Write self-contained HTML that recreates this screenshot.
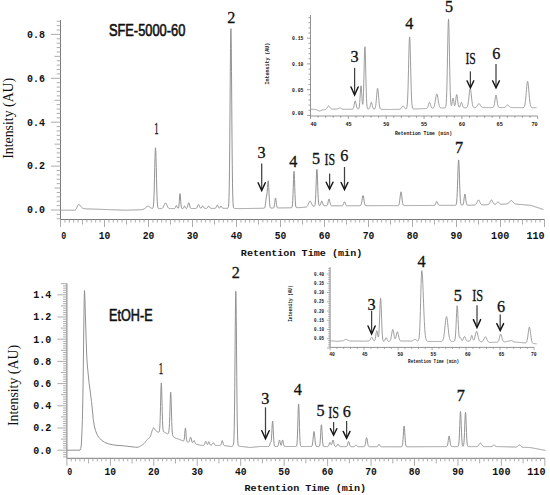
<!DOCTYPE html>
<html><head><meta charset="utf-8"><title>Chromatograms</title>
<style>html,body{margin:0;padding:0;background:#fff;}body{width:550px;height:495px;overflow:hidden;font-family:"Liberation Sans",sans-serif;}svg{display:block;}</style>
</head><body>
<svg width="550" height="495" viewBox="0 0 550 495">
<rect width="550" height="495" fill="#fff"/>
<line x1="60.50" y1="20.10" x2="60.50" y2="219.50" stroke="#7a7a7a" stroke-width="1.00"/>
<line x1="56.70" y1="218.78" x2="60.50" y2="218.78" stroke="#a3a3a3" stroke-width="0.90"/>
<line x1="56.70" y1="214.39" x2="60.50" y2="214.39" stroke="#a3a3a3" stroke-width="0.90"/>
<line x1="51.00" y1="210.00" x2="60.50" y2="210.00" stroke="#a3a3a3" stroke-width="0.90"/>
<line x1="56.70" y1="205.61" x2="60.50" y2="205.61" stroke="#a3a3a3" stroke-width="0.90"/>
<line x1="56.70" y1="201.22" x2="60.50" y2="201.22" stroke="#a3a3a3" stroke-width="0.90"/>
<line x1="56.70" y1="196.83" x2="60.50" y2="196.83" stroke="#a3a3a3" stroke-width="0.90"/>
<line x1="56.70" y1="192.44" x2="60.50" y2="192.44" stroke="#a3a3a3" stroke-width="0.90"/>
<line x1="54.50" y1="188.05" x2="60.50" y2="188.05" stroke="#a3a3a3" stroke-width="0.90"/>
<line x1="56.70" y1="183.66" x2="60.50" y2="183.66" stroke="#a3a3a3" stroke-width="0.90"/>
<line x1="56.70" y1="179.27" x2="60.50" y2="179.27" stroke="#a3a3a3" stroke-width="0.90"/>
<line x1="56.70" y1="174.88" x2="60.50" y2="174.88" stroke="#a3a3a3" stroke-width="0.90"/>
<line x1="56.70" y1="170.49" x2="60.50" y2="170.49" stroke="#a3a3a3" stroke-width="0.90"/>
<line x1="51.00" y1="166.10" x2="60.50" y2="166.10" stroke="#a3a3a3" stroke-width="0.90"/>
<line x1="56.70" y1="161.71" x2="60.50" y2="161.71" stroke="#a3a3a3" stroke-width="0.90"/>
<line x1="56.70" y1="157.32" x2="60.50" y2="157.32" stroke="#a3a3a3" stroke-width="0.90"/>
<line x1="56.70" y1="152.93" x2="60.50" y2="152.93" stroke="#a3a3a3" stroke-width="0.90"/>
<line x1="56.70" y1="148.54" x2="60.50" y2="148.54" stroke="#a3a3a3" stroke-width="0.90"/>
<line x1="54.50" y1="144.15" x2="60.50" y2="144.15" stroke="#a3a3a3" stroke-width="0.90"/>
<line x1="56.70" y1="139.76" x2="60.50" y2="139.76" stroke="#a3a3a3" stroke-width="0.90"/>
<line x1="56.70" y1="135.37" x2="60.50" y2="135.37" stroke="#a3a3a3" stroke-width="0.90"/>
<line x1="56.70" y1="130.98" x2="60.50" y2="130.98" stroke="#a3a3a3" stroke-width="0.90"/>
<line x1="56.70" y1="126.59" x2="60.50" y2="126.59" stroke="#a3a3a3" stroke-width="0.90"/>
<line x1="51.00" y1="122.20" x2="60.50" y2="122.20" stroke="#a3a3a3" stroke-width="0.90"/>
<line x1="56.70" y1="117.81" x2="60.50" y2="117.81" stroke="#a3a3a3" stroke-width="0.90"/>
<line x1="56.70" y1="113.42" x2="60.50" y2="113.42" stroke="#a3a3a3" stroke-width="0.90"/>
<line x1="56.70" y1="109.03" x2="60.50" y2="109.03" stroke="#a3a3a3" stroke-width="0.90"/>
<line x1="56.70" y1="104.64" x2="60.50" y2="104.64" stroke="#a3a3a3" stroke-width="0.90"/>
<line x1="54.50" y1="100.25" x2="60.50" y2="100.25" stroke="#a3a3a3" stroke-width="0.90"/>
<line x1="56.70" y1="95.86" x2="60.50" y2="95.86" stroke="#a3a3a3" stroke-width="0.90"/>
<line x1="56.70" y1="91.47" x2="60.50" y2="91.47" stroke="#a3a3a3" stroke-width="0.90"/>
<line x1="56.70" y1="87.08" x2="60.50" y2="87.08" stroke="#a3a3a3" stroke-width="0.90"/>
<line x1="56.70" y1="82.69" x2="60.50" y2="82.69" stroke="#a3a3a3" stroke-width="0.90"/>
<line x1="51.00" y1="78.30" x2="60.50" y2="78.30" stroke="#a3a3a3" stroke-width="0.90"/>
<line x1="56.70" y1="73.91" x2="60.50" y2="73.91" stroke="#a3a3a3" stroke-width="0.90"/>
<line x1="56.70" y1="69.52" x2="60.50" y2="69.52" stroke="#a3a3a3" stroke-width="0.90"/>
<line x1="56.70" y1="65.13" x2="60.50" y2="65.13" stroke="#a3a3a3" stroke-width="0.90"/>
<line x1="56.70" y1="60.74" x2="60.50" y2="60.74" stroke="#a3a3a3" stroke-width="0.90"/>
<line x1="54.50" y1="56.35" x2="60.50" y2="56.35" stroke="#a3a3a3" stroke-width="0.90"/>
<line x1="56.70" y1="51.96" x2="60.50" y2="51.96" stroke="#a3a3a3" stroke-width="0.90"/>
<line x1="56.70" y1="47.57" x2="60.50" y2="47.57" stroke="#a3a3a3" stroke-width="0.90"/>
<line x1="56.70" y1="43.18" x2="60.50" y2="43.18" stroke="#a3a3a3" stroke-width="0.90"/>
<line x1="56.70" y1="38.79" x2="60.50" y2="38.79" stroke="#a3a3a3" stroke-width="0.90"/>
<line x1="51.00" y1="34.40" x2="60.50" y2="34.40" stroke="#a3a3a3" stroke-width="0.90"/>
<line x1="56.70" y1="30.01" x2="60.50" y2="30.01" stroke="#a3a3a3" stroke-width="0.90"/>
<line x1="56.70" y1="25.62" x2="60.50" y2="25.62" stroke="#a3a3a3" stroke-width="0.90"/>
<line x1="56.70" y1="21.23" x2="60.50" y2="21.23" stroke="#a3a3a3" stroke-width="0.90"/>
<line x1="60.50" y1="219.50" x2="544.50" y2="219.50" stroke="#7a7a7a" stroke-width="1.00"/>
<line x1="60.50" y1="219.50" x2="60.50" y2="227.00" stroke="#a3a3a3" stroke-width="0.90"/>
<line x1="64.90" y1="219.50" x2="64.90" y2="222.50" stroke="#a3a3a3" stroke-width="0.90"/>
<line x1="69.30" y1="219.50" x2="69.30" y2="222.50" stroke="#a3a3a3" stroke-width="0.90"/>
<line x1="73.70" y1="219.50" x2="73.70" y2="222.50" stroke="#a3a3a3" stroke-width="0.90"/>
<line x1="78.10" y1="219.50" x2="78.10" y2="222.50" stroke="#a3a3a3" stroke-width="0.90"/>
<line x1="82.50" y1="219.50" x2="82.50" y2="224.50" stroke="#a3a3a3" stroke-width="0.90"/>
<line x1="86.90" y1="219.50" x2="86.90" y2="222.50" stroke="#a3a3a3" stroke-width="0.90"/>
<line x1="91.30" y1="219.50" x2="91.30" y2="222.50" stroke="#a3a3a3" stroke-width="0.90"/>
<line x1="95.70" y1="219.50" x2="95.70" y2="222.50" stroke="#a3a3a3" stroke-width="0.90"/>
<line x1="100.10" y1="219.50" x2="100.10" y2="222.50" stroke="#a3a3a3" stroke-width="0.90"/>
<line x1="104.50" y1="219.50" x2="104.50" y2="227.00" stroke="#a3a3a3" stroke-width="0.90"/>
<line x1="108.90" y1="219.50" x2="108.90" y2="222.50" stroke="#a3a3a3" stroke-width="0.90"/>
<line x1="113.30" y1="219.50" x2="113.30" y2="222.50" stroke="#a3a3a3" stroke-width="0.90"/>
<line x1="117.70" y1="219.50" x2="117.70" y2="222.50" stroke="#a3a3a3" stroke-width="0.90"/>
<line x1="122.10" y1="219.50" x2="122.10" y2="222.50" stroke="#a3a3a3" stroke-width="0.90"/>
<line x1="126.50" y1="219.50" x2="126.50" y2="224.50" stroke="#a3a3a3" stroke-width="0.90"/>
<line x1="130.90" y1="219.50" x2="130.90" y2="222.50" stroke="#a3a3a3" stroke-width="0.90"/>
<line x1="135.30" y1="219.50" x2="135.30" y2="222.50" stroke="#a3a3a3" stroke-width="0.90"/>
<line x1="139.70" y1="219.50" x2="139.70" y2="222.50" stroke="#a3a3a3" stroke-width="0.90"/>
<line x1="144.10" y1="219.50" x2="144.10" y2="222.50" stroke="#a3a3a3" stroke-width="0.90"/>
<line x1="148.50" y1="219.50" x2="148.50" y2="227.00" stroke="#a3a3a3" stroke-width="0.90"/>
<line x1="152.90" y1="219.50" x2="152.90" y2="222.50" stroke="#a3a3a3" stroke-width="0.90"/>
<line x1="157.30" y1="219.50" x2="157.30" y2="222.50" stroke="#a3a3a3" stroke-width="0.90"/>
<line x1="161.70" y1="219.50" x2="161.70" y2="222.50" stroke="#a3a3a3" stroke-width="0.90"/>
<line x1="166.10" y1="219.50" x2="166.10" y2="222.50" stroke="#a3a3a3" stroke-width="0.90"/>
<line x1="170.50" y1="219.50" x2="170.50" y2="224.50" stroke="#a3a3a3" stroke-width="0.90"/>
<line x1="174.90" y1="219.50" x2="174.90" y2="222.50" stroke="#a3a3a3" stroke-width="0.90"/>
<line x1="179.30" y1="219.50" x2="179.30" y2="222.50" stroke="#a3a3a3" stroke-width="0.90"/>
<line x1="183.70" y1="219.50" x2="183.70" y2="222.50" stroke="#a3a3a3" stroke-width="0.90"/>
<line x1="188.10" y1="219.50" x2="188.10" y2="222.50" stroke="#a3a3a3" stroke-width="0.90"/>
<line x1="192.50" y1="219.50" x2="192.50" y2="227.00" stroke="#a3a3a3" stroke-width="0.90"/>
<line x1="196.90" y1="219.50" x2="196.90" y2="222.50" stroke="#a3a3a3" stroke-width="0.90"/>
<line x1="201.30" y1="219.50" x2="201.30" y2="222.50" stroke="#a3a3a3" stroke-width="0.90"/>
<line x1="205.70" y1="219.50" x2="205.70" y2="222.50" stroke="#a3a3a3" stroke-width="0.90"/>
<line x1="210.10" y1="219.50" x2="210.10" y2="222.50" stroke="#a3a3a3" stroke-width="0.90"/>
<line x1="214.50" y1="219.50" x2="214.50" y2="224.50" stroke="#a3a3a3" stroke-width="0.90"/>
<line x1="218.90" y1="219.50" x2="218.90" y2="222.50" stroke="#a3a3a3" stroke-width="0.90"/>
<line x1="223.30" y1="219.50" x2="223.30" y2="222.50" stroke="#a3a3a3" stroke-width="0.90"/>
<line x1="227.70" y1="219.50" x2="227.70" y2="222.50" stroke="#a3a3a3" stroke-width="0.90"/>
<line x1="232.10" y1="219.50" x2="232.10" y2="222.50" stroke="#a3a3a3" stroke-width="0.90"/>
<line x1="236.50" y1="219.50" x2="236.50" y2="227.00" stroke="#a3a3a3" stroke-width="0.90"/>
<line x1="240.90" y1="219.50" x2="240.90" y2="222.50" stroke="#a3a3a3" stroke-width="0.90"/>
<line x1="245.30" y1="219.50" x2="245.30" y2="222.50" stroke="#a3a3a3" stroke-width="0.90"/>
<line x1="249.70" y1="219.50" x2="249.70" y2="222.50" stroke="#a3a3a3" stroke-width="0.90"/>
<line x1="254.10" y1="219.50" x2="254.10" y2="222.50" stroke="#a3a3a3" stroke-width="0.90"/>
<line x1="258.50" y1="219.50" x2="258.50" y2="224.50" stroke="#a3a3a3" stroke-width="0.90"/>
<line x1="262.90" y1="219.50" x2="262.90" y2="222.50" stroke="#a3a3a3" stroke-width="0.90"/>
<line x1="267.30" y1="219.50" x2="267.30" y2="222.50" stroke="#a3a3a3" stroke-width="0.90"/>
<line x1="271.70" y1="219.50" x2="271.70" y2="222.50" stroke="#a3a3a3" stroke-width="0.90"/>
<line x1="276.10" y1="219.50" x2="276.10" y2="222.50" stroke="#a3a3a3" stroke-width="0.90"/>
<line x1="280.50" y1="219.50" x2="280.50" y2="227.00" stroke="#a3a3a3" stroke-width="0.90"/>
<line x1="284.90" y1="219.50" x2="284.90" y2="222.50" stroke="#a3a3a3" stroke-width="0.90"/>
<line x1="289.30" y1="219.50" x2="289.30" y2="222.50" stroke="#a3a3a3" stroke-width="0.90"/>
<line x1="293.70" y1="219.50" x2="293.70" y2="222.50" stroke="#a3a3a3" stroke-width="0.90"/>
<line x1="298.10" y1="219.50" x2="298.10" y2="222.50" stroke="#a3a3a3" stroke-width="0.90"/>
<line x1="302.50" y1="219.50" x2="302.50" y2="224.50" stroke="#a3a3a3" stroke-width="0.90"/>
<line x1="306.90" y1="219.50" x2="306.90" y2="222.50" stroke="#a3a3a3" stroke-width="0.90"/>
<line x1="311.30" y1="219.50" x2="311.30" y2="222.50" stroke="#a3a3a3" stroke-width="0.90"/>
<line x1="315.70" y1="219.50" x2="315.70" y2="222.50" stroke="#a3a3a3" stroke-width="0.90"/>
<line x1="320.10" y1="219.50" x2="320.10" y2="222.50" stroke="#a3a3a3" stroke-width="0.90"/>
<line x1="324.50" y1="219.50" x2="324.50" y2="227.00" stroke="#a3a3a3" stroke-width="0.90"/>
<line x1="328.90" y1="219.50" x2="328.90" y2="222.50" stroke="#a3a3a3" stroke-width="0.90"/>
<line x1="333.30" y1="219.50" x2="333.30" y2="222.50" stroke="#a3a3a3" stroke-width="0.90"/>
<line x1="337.70" y1="219.50" x2="337.70" y2="222.50" stroke="#a3a3a3" stroke-width="0.90"/>
<line x1="342.10" y1="219.50" x2="342.10" y2="222.50" stroke="#a3a3a3" stroke-width="0.90"/>
<line x1="346.50" y1="219.50" x2="346.50" y2="224.50" stroke="#a3a3a3" stroke-width="0.90"/>
<line x1="350.90" y1="219.50" x2="350.90" y2="222.50" stroke="#a3a3a3" stroke-width="0.90"/>
<line x1="355.30" y1="219.50" x2="355.30" y2="222.50" stroke="#a3a3a3" stroke-width="0.90"/>
<line x1="359.70" y1="219.50" x2="359.70" y2="222.50" stroke="#a3a3a3" stroke-width="0.90"/>
<line x1="364.10" y1="219.50" x2="364.10" y2="222.50" stroke="#a3a3a3" stroke-width="0.90"/>
<line x1="368.50" y1="219.50" x2="368.50" y2="227.00" stroke="#a3a3a3" stroke-width="0.90"/>
<line x1="372.90" y1="219.50" x2="372.90" y2="222.50" stroke="#a3a3a3" stroke-width="0.90"/>
<line x1="377.30" y1="219.50" x2="377.30" y2="222.50" stroke="#a3a3a3" stroke-width="0.90"/>
<line x1="381.70" y1="219.50" x2="381.70" y2="222.50" stroke="#a3a3a3" stroke-width="0.90"/>
<line x1="386.10" y1="219.50" x2="386.10" y2="222.50" stroke="#a3a3a3" stroke-width="0.90"/>
<line x1="390.50" y1="219.50" x2="390.50" y2="224.50" stroke="#a3a3a3" stroke-width="0.90"/>
<line x1="394.90" y1="219.50" x2="394.90" y2="222.50" stroke="#a3a3a3" stroke-width="0.90"/>
<line x1="399.30" y1="219.50" x2="399.30" y2="222.50" stroke="#a3a3a3" stroke-width="0.90"/>
<line x1="403.70" y1="219.50" x2="403.70" y2="222.50" stroke="#a3a3a3" stroke-width="0.90"/>
<line x1="408.10" y1="219.50" x2="408.10" y2="222.50" stroke="#a3a3a3" stroke-width="0.90"/>
<line x1="412.50" y1="219.50" x2="412.50" y2="227.00" stroke="#a3a3a3" stroke-width="0.90"/>
<line x1="416.90" y1="219.50" x2="416.90" y2="222.50" stroke="#a3a3a3" stroke-width="0.90"/>
<line x1="421.30" y1="219.50" x2="421.30" y2="222.50" stroke="#a3a3a3" stroke-width="0.90"/>
<line x1="425.70" y1="219.50" x2="425.70" y2="222.50" stroke="#a3a3a3" stroke-width="0.90"/>
<line x1="430.10" y1="219.50" x2="430.10" y2="222.50" stroke="#a3a3a3" stroke-width="0.90"/>
<line x1="434.50" y1="219.50" x2="434.50" y2="224.50" stroke="#a3a3a3" stroke-width="0.90"/>
<line x1="438.90" y1="219.50" x2="438.90" y2="222.50" stroke="#a3a3a3" stroke-width="0.90"/>
<line x1="443.30" y1="219.50" x2="443.30" y2="222.50" stroke="#a3a3a3" stroke-width="0.90"/>
<line x1="447.70" y1="219.50" x2="447.70" y2="222.50" stroke="#a3a3a3" stroke-width="0.90"/>
<line x1="452.10" y1="219.50" x2="452.10" y2="222.50" stroke="#a3a3a3" stroke-width="0.90"/>
<line x1="456.50" y1="219.50" x2="456.50" y2="227.00" stroke="#a3a3a3" stroke-width="0.90"/>
<line x1="460.90" y1="219.50" x2="460.90" y2="222.50" stroke="#a3a3a3" stroke-width="0.90"/>
<line x1="465.30" y1="219.50" x2="465.30" y2="222.50" stroke="#a3a3a3" stroke-width="0.90"/>
<line x1="469.70" y1="219.50" x2="469.70" y2="222.50" stroke="#a3a3a3" stroke-width="0.90"/>
<line x1="474.10" y1="219.50" x2="474.10" y2="222.50" stroke="#a3a3a3" stroke-width="0.90"/>
<line x1="478.50" y1="219.50" x2="478.50" y2="224.50" stroke="#a3a3a3" stroke-width="0.90"/>
<line x1="482.90" y1="219.50" x2="482.90" y2="222.50" stroke="#a3a3a3" stroke-width="0.90"/>
<line x1="487.30" y1="219.50" x2="487.30" y2="222.50" stroke="#a3a3a3" stroke-width="0.90"/>
<line x1="491.70" y1="219.50" x2="491.70" y2="222.50" stroke="#a3a3a3" stroke-width="0.90"/>
<line x1="496.10" y1="219.50" x2="496.10" y2="222.50" stroke="#a3a3a3" stroke-width="0.90"/>
<line x1="500.50" y1="219.50" x2="500.50" y2="227.00" stroke="#a3a3a3" stroke-width="0.90"/>
<line x1="504.90" y1="219.50" x2="504.90" y2="222.50" stroke="#a3a3a3" stroke-width="0.90"/>
<line x1="509.30" y1="219.50" x2="509.30" y2="222.50" stroke="#a3a3a3" stroke-width="0.90"/>
<line x1="513.70" y1="219.50" x2="513.70" y2="222.50" stroke="#a3a3a3" stroke-width="0.90"/>
<line x1="518.10" y1="219.50" x2="518.10" y2="222.50" stroke="#a3a3a3" stroke-width="0.90"/>
<line x1="522.50" y1="219.50" x2="522.50" y2="224.50" stroke="#a3a3a3" stroke-width="0.90"/>
<line x1="526.90" y1="219.50" x2="526.90" y2="222.50" stroke="#a3a3a3" stroke-width="0.90"/>
<line x1="531.30" y1="219.50" x2="531.30" y2="222.50" stroke="#a3a3a3" stroke-width="0.90"/>
<line x1="535.70" y1="219.50" x2="535.70" y2="222.50" stroke="#a3a3a3" stroke-width="0.90"/>
<line x1="540.10" y1="219.50" x2="540.10" y2="222.50" stroke="#a3a3a3" stroke-width="0.90"/>
<line x1="544.50" y1="219.50" x2="544.50" y2="227.00" stroke="#a3a3a3" stroke-width="0.90"/>
<text x="44.90" y="213.30" font-family='"Liberation Mono", monospace' font-size="10.00" font-weight="bold" text-anchor="end" fill="#111" textLength="18.00" lengthAdjust="spacingAndGlyphs" >0.0</text>
<text x="44.90" y="169.40" font-family='"Liberation Mono", monospace' font-size="10.00" font-weight="bold" text-anchor="end" fill="#111" textLength="18.00" lengthAdjust="spacingAndGlyphs" >0.2</text>
<text x="44.90" y="125.50" font-family='"Liberation Mono", monospace' font-size="10.00" font-weight="bold" text-anchor="end" fill="#111" textLength="18.00" lengthAdjust="spacingAndGlyphs" >0.4</text>
<text x="44.90" y="81.60" font-family='"Liberation Mono", monospace' font-size="10.00" font-weight="bold" text-anchor="end" fill="#111" textLength="18.00" lengthAdjust="spacingAndGlyphs" >0.6</text>
<text x="44.90" y="37.70" font-family='"Liberation Mono", monospace' font-size="10.00" font-weight="bold" text-anchor="end" fill="#111" textLength="18.00" lengthAdjust="spacingAndGlyphs" >0.8</text>
<text x="63.70" y="238.60" font-family='"Liberation Mono", monospace' font-size="10.00" font-weight="bold" text-anchor="middle" fill="#111" textLength="5.00" lengthAdjust="spacingAndGlyphs" >0</text>
<text x="104.60" y="238.60" font-family='"Liberation Mono", monospace' font-size="10.00" font-weight="bold" text-anchor="middle" fill="#111" textLength="11.60" lengthAdjust="spacingAndGlyphs" >10</text>
<text x="148.50" y="238.60" font-family='"Liberation Mono", monospace' font-size="10.00" font-weight="bold" text-anchor="middle" fill="#111" textLength="11.60" lengthAdjust="spacingAndGlyphs" >20</text>
<text x="192.50" y="238.60" font-family='"Liberation Mono", monospace' font-size="10.00" font-weight="bold" text-anchor="middle" fill="#111" textLength="11.60" lengthAdjust="spacingAndGlyphs" >30</text>
<text x="236.50" y="238.60" font-family='"Liberation Mono", monospace' font-size="10.00" font-weight="bold" text-anchor="middle" fill="#111" textLength="11.60" lengthAdjust="spacingAndGlyphs" >40</text>
<text x="280.50" y="238.60" font-family='"Liberation Mono", monospace' font-size="10.00" font-weight="bold" text-anchor="middle" fill="#111" textLength="11.60" lengthAdjust="spacingAndGlyphs" >50</text>
<text x="324.50" y="238.60" font-family='"Liberation Mono", monospace' font-size="10.00" font-weight="bold" text-anchor="middle" fill="#111" textLength="11.60" lengthAdjust="spacingAndGlyphs" >60</text>
<text x="368.50" y="238.60" font-family='"Liberation Mono", monospace' font-size="10.00" font-weight="bold" text-anchor="middle" fill="#111" textLength="11.60" lengthAdjust="spacingAndGlyphs" >70</text>
<text x="412.50" y="238.60" font-family='"Liberation Mono", monospace' font-size="10.00" font-weight="bold" text-anchor="middle" fill="#111" textLength="11.60" lengthAdjust="spacingAndGlyphs" >80</text>
<text x="456.40" y="238.60" font-family='"Liberation Mono", monospace' font-size="10.00" font-weight="bold" text-anchor="middle" fill="#111" textLength="11.60" lengthAdjust="spacingAndGlyphs" >90</text>
<text x="500.20" y="238.60" font-family='"Liberation Mono", monospace' font-size="10.00" font-weight="bold" text-anchor="middle" fill="#111" textLength="18.20" lengthAdjust="spacingAndGlyphs" >100</text>
<text x="535.50" y="238.60" font-family='"Liberation Mono", monospace' font-size="10.00" font-weight="bold" text-anchor="middle" fill="#111" textLength="18.20" lengthAdjust="spacingAndGlyphs" >110</text>
<text x="301.60" y="256.00" font-family='"Liberation Mono", monospace' font-size="9.40" font-weight="bold" text-anchor="middle" fill="#111" textLength="121.50" lengthAdjust="spacingAndGlyphs" >Retention Time (min)</text>
<text transform="translate(13.3,118.3) rotate(-90)" x="0" y="0" font-family='"Liberation Serif", serif' font-size="14" text-anchor="middle" fill="#111" textLength="81" lengthAdjust="spacingAndGlyphs">Intensity (AU)</text>
<text x="108.90" y="35.60" font-family='"Liberation Sans", sans-serif' font-size="16.00" font-weight="normal" text-anchor="start" fill="#111" textLength="76.40" lengthAdjust="spacingAndGlyphs" stroke="#111" stroke-width="0.6">SFE-5000-60</text>
<path d="M60.50 210.20 L60.75 210.20 L61.00 210.20 L61.25 210.20 L61.50 210.20 L61.75 210.20 L62.00 210.20 L62.25 210.20 L62.50 210.20 L62.75 210.20 L63.00 210.20 L63.25 210.20 L63.50 210.20 L63.75 210.20 L64.00 210.20 L64.25 210.20 L64.50 210.20 L64.75 210.20 L65.00 210.20 L65.25 210.20 L65.50 210.20 L65.75 210.20 L66.00 210.20 L66.25 210.20 L66.50 210.20 L66.75 210.20 L67.00 210.20 L67.25 210.20 L67.50 210.20 L67.75 210.20 L68.00 210.20 L68.25 210.20 L68.50 210.20 L68.75 210.20 L69.00 210.20 L69.25 210.20 L69.50 210.20 L69.75 210.20 L70.00 210.20 L70.25 210.20 L70.50 210.20 L70.75 210.20 L71.00 210.20 L71.25 210.20 L71.50 210.20 L71.75 210.20 L72.00 210.20 L72.25 210.20 L72.50 210.20 L72.75 210.20 L73.00 210.20 L73.25 210.20 L73.50 210.20 L73.75 210.19 L74.00 210.19 L74.25 210.18 L74.50 210.15 L74.75 210.12 L75.00 210.06 L75.25 209.94 L75.50 209.76 L75.75 209.54 L76.00 209.24 L76.25 208.86 L76.50 208.39 L76.75 207.85 L77.00 207.24 L77.25 206.60 L77.50 205.98 L77.75 205.41 L78.00 204.94 L78.25 204.63 L78.50 204.50 L78.75 204.50 L79.00 204.56 L79.25 204.68 L79.50 204.86 L79.75 205.09 L80.00 205.35 L80.25 205.65 L80.50 205.96 L80.75 206.28 L81.00 206.60 L81.25 206.91 L81.50 207.20 L81.75 207.46 L82.00 207.71 L82.25 207.92 L82.50 208.10 L82.75 208.26 L83.00 208.38 L83.25 208.48 L83.50 208.56 L83.75 208.61 L84.00 208.65 L84.25 208.67 L84.50 208.67 L84.75 208.72 L85.00 208.75 L85.25 208.78 L85.50 208.80 L85.75 208.82 L86.00 208.83 L86.25 208.85 L86.50 208.86 L86.75 208.87 L87.00 208.88 L87.25 208.89 L87.50 208.90 L87.75 208.90 L88.00 208.91 L88.25 208.92 L88.50 208.93 L88.75 208.94 L89.00 208.95 L89.25 208.95 L89.50 208.96 L89.75 208.97 L90.00 208.98 L90.25 208.99 L90.50 208.99 L90.75 209.00 L91.00 209.01 L91.25 209.02 L91.50 209.03 L91.75 209.03 L92.00 209.04 L92.25 209.05 L92.50 209.06 L92.75 209.07 L93.00 209.07 L93.25 209.08 L93.50 209.09 L93.75 209.10 L94.00 209.11 L94.25 209.11 L94.50 209.12 L94.75 209.13 L95.00 209.14 L95.25 209.15 L95.50 209.15 L95.75 209.16 L96.00 209.17 L96.25 209.18 L96.50 209.19 L96.75 209.20 L97.00 209.20 L97.25 209.21 L97.50 209.22 L97.75 209.23 L98.00 209.24 L98.25 209.24 L98.50 209.25 L98.75 209.26 L99.00 209.27 L99.25 209.28 L99.50 209.28 L99.75 209.29 L100.00 209.30 L100.25 209.31 L100.50 209.32 L100.75 209.33 L101.00 209.34 L101.25 209.34 L101.50 209.35 L101.75 209.36 L102.00 209.37 L102.25 209.38 L102.50 209.39 L102.75 209.40 L103.00 209.41 L103.25 209.42 L103.50 209.43 L103.75 209.44 L104.00 209.44 L104.25 209.45 L104.50 209.46 L104.75 209.47 L105.00 209.48 L105.25 209.49 L105.50 209.50 L105.75 209.51 L106.00 209.52 L106.25 209.53 L106.50 209.53 L106.75 209.54 L107.00 209.55 L107.25 209.56 L107.50 209.57 L107.75 209.58 L108.00 209.59 L108.25 209.60 L108.50 209.61 L108.75 209.62 L109.00 209.62 L109.25 209.63 L109.50 209.64 L109.75 209.65 L110.00 209.66 L110.25 209.67 L110.50 209.68 L110.75 209.69 L111.00 209.70 L111.25 209.71 L111.50 209.71 L111.75 209.72 L112.00 209.73 L112.25 209.74 L112.50 209.75 L112.75 209.76 L113.00 209.77 L113.25 209.78 L113.50 209.79 L113.75 209.79 L114.00 209.80 L114.25 209.81 L114.50 209.82 L114.75 209.83 L115.00 209.84 L115.25 209.85 L115.50 209.86 L115.75 209.87 L116.00 209.88 L116.25 209.88 L116.50 209.89 L116.75 209.90 L117.00 209.91 L117.25 209.92 L117.50 209.93 L117.75 209.94 L118.00 209.95 L118.25 209.96 L118.50 209.97 L118.75 209.97 L119.00 209.98 L119.25 209.99 L119.50 210.00 L119.75 210.01 L120.00 210.02 L120.25 210.03 L120.50 210.04 L120.75 210.05 L121.00 210.06 L121.25 210.06 L121.50 210.07 L121.75 210.08 L122.00 210.09 L122.25 210.10 L122.50 210.11 L122.75 210.12 L123.00 210.13 L123.25 210.14 L123.50 210.15 L123.75 210.16 L124.00 210.16 L124.25 210.17 L124.50 210.18 L124.75 210.19 L125.00 210.20 L125.25 210.19 L125.50 210.19 L125.75 210.18 L126.00 210.17 L126.25 210.17 L126.50 210.16 L126.75 210.15 L127.00 210.15 L127.25 210.14 L127.50 210.13 L127.75 210.13 L128.00 210.12 L128.25 210.11 L128.50 210.11 L128.75 210.10 L129.00 210.09 L129.25 210.09 L129.50 210.08 L129.75 210.07 L130.00 210.07 L130.25 210.06 L130.50 210.05 L130.75 210.05 L131.00 210.04 L131.25 210.03 L131.50 210.03 L131.75 210.02 L132.00 210.01 L132.25 210.01 L132.50 210.00 L132.75 209.99 L133.00 209.99 L133.25 209.98 L133.50 209.97 L133.75 209.97 L134.00 209.96 L134.25 209.95 L134.50 209.95 L134.75 209.94 L135.00 209.93 L135.25 209.93 L135.50 209.92 L135.75 209.91 L136.00 209.91 L136.25 209.90 L136.50 209.89 L136.75 209.89 L137.00 209.88 L137.25 209.87 L137.50 209.87 L137.75 209.86 L138.00 209.85 L138.25 209.85 L138.50 209.84 L138.75 209.83 L139.00 209.83 L139.25 209.82 L139.50 209.81 L139.75 209.81 L140.00 209.80 L140.25 209.77 L140.50 209.74 L140.75 209.71 L141.00 209.68 L141.25 209.65 L141.50 209.62 L141.75 209.58 L142.00 209.54 L142.25 209.50 L142.50 209.45 L142.75 209.39 L143.00 209.32 L143.25 209.24 L143.50 209.15 L143.75 209.05 L144.00 208.93 L144.25 208.79 L144.50 208.63 L144.75 208.45 L145.00 208.26 L145.25 208.05 L145.50 207.83 L145.75 207.61 L146.00 207.38 L146.25 207.16 L146.50 206.95 L146.75 206.76 L147.00 206.59 L147.25 206.46 L147.50 206.36 L147.75 206.31 L148.00 206.29 L148.25 206.32 L148.50 206.38 L148.75 206.48 L149.00 206.60 L149.25 206.75 L149.50 206.91 L149.75 207.08 L150.00 207.26 L150.25 207.45 L150.50 207.64 L150.75 207.81 L151.00 207.96 L151.25 208.10 L151.50 208.21 L151.75 208.31 L152.00 208.39 L152.25 208.43 L152.50 208.40 L152.75 208.24 L153.00 207.79 L153.25 206.79 L153.50 204.82 L153.75 201.34 L154.00 195.83 L154.25 188.02 L154.50 178.20 L154.75 167.43 L155.00 157.47 L155.25 150.38 L155.50 147.80 L155.75 150.37 L156.00 157.47 L156.25 167.42 L156.50 178.20 L156.75 188.02 L157.00 195.84 L157.25 201.35 L157.50 204.84 L157.75 206.83 L158.00 207.85 L158.25 208.33 L158.50 208.54 L158.75 208.62 L159.00 208.64 L159.25 208.65 L159.50 208.65 L159.75 208.65 L160.00 208.65 L160.25 208.64 L160.50 208.64 L160.75 208.63 L161.00 208.61 L161.25 208.59 L161.50 208.55 L161.75 208.49 L162.00 208.39 L162.25 208.26 L162.50 208.07 L162.75 207.82 L163.00 207.49 L163.25 207.09 L163.50 206.61 L163.75 206.06 L164.00 205.46 L164.25 204.85 L164.50 204.27 L164.75 203.76 L165.00 203.35 L165.25 203.09 L165.50 203.00 L165.75 203.09 L166.00 203.34 L166.25 203.75 L166.50 204.26 L166.75 204.84 L167.00 205.45 L167.25 206.04 L167.50 206.59 L167.75 207.07 L168.00 207.47 L168.25 207.79 L168.50 208.04 L168.75 208.23 L169.00 208.36 L169.25 208.45 L169.50 208.51 L169.75 208.55 L170.00 208.57 L170.25 208.58 L170.50 208.59 L170.75 208.59 L171.00 208.59 L171.25 208.59 L171.50 208.59 L171.75 208.59 L172.00 208.59 L172.25 208.59 L172.50 208.59 L172.75 208.59 L173.00 208.58 L173.25 208.58 L173.50 208.58 L173.75 208.58 L174.00 208.57 L174.25 208.55 L174.50 208.50 L174.75 208.39 L175.00 208.16 L175.25 207.78 L175.50 207.23 L175.75 206.58 L176.00 205.96 L176.25 205.57 L176.50 205.53 L176.75 205.86 L177.00 206.44 L177.25 207.10 L177.50 207.67 L177.75 208.07 L178.00 208.28 L178.25 208.25 L178.50 207.87 L178.75 206.84 L179.00 204.82 L179.25 201.71 L179.50 197.99 L179.75 194.84 L180.00 193.60 L180.25 194.84 L180.50 197.98 L180.75 201.70 L181.00 204.82 L181.25 206.84 L181.50 207.89 L181.75 208.33 L182.00 208.48 L182.25 208.52 L182.50 208.53 L182.75 208.50 L183.00 208.42 L183.25 208.25 L183.50 207.90 L183.75 207.37 L184.00 206.74 L184.25 206.21 L184.50 206.00 L184.75 206.21 L185.00 206.74 L185.25 207.37 L185.50 207.89 L185.75 208.23 L186.00 208.39 L186.25 208.43 L186.50 208.38 L186.75 208.22 L187.00 207.91 L187.25 207.39 L187.50 206.63 L187.75 205.64 L188.00 204.55 L188.25 203.55 L188.50 202.88 L188.75 202.71 L189.00 203.09 L189.25 203.92 L189.50 204.98 L189.75 206.05 L190.00 206.95 L190.25 207.61 L190.50 208.04 L190.75 208.28 L191.00 208.40 L191.25 208.46 L191.50 208.48 L191.75 208.49 L192.00 208.49 L192.25 208.49 L192.50 208.49 L192.75 208.49 L193.00 208.48 L193.25 208.48 L193.50 208.48 L193.75 208.48 L194.00 208.48 L194.25 208.48 L194.50 208.48 L194.75 208.48 L195.00 208.47 L195.25 208.47 L195.50 208.46 L195.75 208.43 L196.00 208.39 L196.25 208.29 L196.50 208.13 L196.75 207.87 L197.00 207.48 L197.25 206.96 L197.50 206.33 L197.75 205.66 L198.00 205.07 L198.25 204.65 L198.50 204.50 L198.75 204.65 L199.00 205.06 L199.25 205.66 L199.50 206.32 L199.75 206.94 L200.00 207.45 L200.25 207.83 L200.50 208.06 L200.75 208.15 L201.00 208.11 L201.25 207.94 L201.50 207.64 L201.75 207.23 L202.00 206.78 L202.25 206.36 L202.50 206.08 L202.75 206.00 L203.00 206.16 L203.25 206.51 L203.50 206.95 L203.75 207.40 L204.00 207.78 L204.25 208.06 L204.50 208.23 L204.75 208.33 L205.00 208.39 L205.25 208.41 L205.50 208.42 L205.75 208.42 L206.00 208.41 L206.25 208.40 L206.50 208.36 L206.75 208.29 L207.00 208.16 L207.25 207.95 L207.50 207.63 L207.75 207.22 L208.00 206.77 L208.25 206.35 L208.50 206.08 L208.75 206.00 L209.00 206.16 L209.25 206.50 L209.50 206.94 L209.75 207.38 L210.00 207.76 L210.25 208.03 L210.50 208.21 L210.75 208.31 L211.00 208.36 L211.25 208.38 L211.50 208.39 L211.75 208.39 L212.00 208.39 L212.25 208.39 L212.50 208.39 L212.75 208.39 L213.00 208.38 L213.25 208.38 L213.50 208.38 L213.75 208.38 L214.00 208.38 L214.25 208.38 L214.50 208.37 L214.75 208.36 L215.00 208.32 L215.25 208.25 L215.50 208.10 L215.75 207.86 L216.00 207.47 L216.25 206.95 L216.50 206.33 L216.75 205.71 L217.00 205.23 L217.25 205.01 L217.50 205.10 L217.75 205.49 L218.00 206.07 L218.25 206.70 L218.50 207.26 L218.75 207.69 L219.00 207.96 L219.25 208.08 L219.50 208.04 L219.75 207.84 L220.00 207.49 L220.25 207.02 L220.50 206.53 L220.75 206.15 L221.00 206.00 L221.25 206.14 L221.50 206.53 L221.75 207.02 L222.00 207.49 L222.25 207.86 L222.50 208.10 L222.75 208.23 L223.00 208.30 L223.25 208.32 L223.50 208.33 L223.75 208.33 L224.00 208.33 L224.25 208.33 L224.50 208.33 L224.75 208.33 L225.00 208.32 L225.25 208.32 L225.50 208.32 L225.75 208.32 L226.00 208.32 L226.25 208.32 L226.50 208.32 L226.75 208.32 L227.00 208.31 L227.25 208.31 L227.50 208.29 L227.75 208.23 L228.00 208.06 L228.25 207.56 L228.50 206.30 L228.75 203.42 L229.00 197.52 L229.25 186.73 L229.50 169.15 L229.75 143.88 L230.00 112.16 L230.25 78.17 L230.50 48.56 L230.75 30.45 L231.00 28.71 L231.25 43.83 L231.50 71.70 L231.75 105.41 L232.00 138.02 L232.25 164.78 L232.50 183.88 L232.75 195.89 L233.00 202.62 L233.25 205.98 L233.50 207.48 L233.75 208.09 L234.00 208.32 L234.25 208.40 L234.50 208.43 L234.75 208.44 L235.00 208.45 L235.25 208.46 L235.50 208.46 L235.75 208.47 L236.00 208.48 L236.25 208.49 L236.50 208.49 L236.75 208.50 L237.00 208.51 L237.25 208.52 L237.50 208.52 L237.75 208.53 L238.00 208.54 L238.25 208.55 L238.50 208.56 L238.75 208.56 L239.00 208.57 L239.25 208.58 L239.50 208.59 L239.75 208.59 L240.00 208.60 L240.25 208.60 L240.50 208.59 L240.75 208.59 L241.00 208.59 L241.25 208.58 L241.50 208.58 L241.75 208.57 L242.00 208.57 L242.25 208.57 L242.50 208.56 L242.75 208.56 L243.00 208.56 L243.25 208.55 L243.50 208.55 L243.75 208.54 L244.00 208.54 L244.25 208.54 L244.50 208.53 L244.75 208.53 L245.00 208.53 L245.25 208.52 L245.50 208.52 L245.75 208.51 L246.00 208.51 L246.25 208.51 L246.50 208.50 L246.75 208.50 L247.00 208.50 L247.25 208.49 L247.50 208.49 L247.75 208.48 L248.00 208.48 L248.25 208.48 L248.50 208.47 L248.75 208.47 L249.00 208.47 L249.25 208.46 L249.50 208.46 L249.75 208.45 L250.00 208.45 L250.25 208.45 L250.50 208.44 L250.75 208.44 L251.00 208.44 L251.25 208.43 L251.50 208.43 L251.75 208.42 L252.00 208.42 L252.25 208.42 L252.50 208.41 L252.75 208.41 L253.00 208.41 L253.25 208.40 L253.50 208.40 L253.75 208.39 L254.00 208.39 L254.25 208.39 L254.50 208.38 L254.75 208.38 L255.00 208.38 L255.25 208.37 L255.50 208.37 L255.75 208.36 L256.00 208.36 L256.25 208.36 L256.50 208.35 L256.75 208.35 L257.00 208.34 L257.25 208.34 L257.50 208.34 L257.75 208.33 L258.00 208.33 L258.25 208.33 L258.50 208.32 L258.75 208.32 L259.00 208.31 L259.25 208.31 L259.50 208.31 L259.75 208.30 L260.00 208.30 L260.25 208.30 L260.50 208.29 L260.75 208.29 L261.00 208.28 L261.25 208.28 L261.50 208.27 L261.75 208.27 L262.00 208.26 L262.25 208.26 L262.50 208.26 L262.75 208.25 L263.00 208.25 L263.25 208.24 L263.50 208.24 L263.75 208.23 L264.00 208.20 L264.25 208.13 L264.50 207.97 L264.75 207.58 L265.00 206.83 L265.25 205.55 L265.50 203.70 L265.75 201.45 L266.00 199.17 L266.25 197.31 L266.50 196.02 L266.75 195.00 L267.00 193.57 L267.25 191.12 L267.50 187.64 L267.75 183.89 L268.00 181.20 L268.25 180.75 L268.50 182.97 L268.75 187.36 L269.00 192.76 L269.25 197.94 L269.50 202.09 L269.75 204.92 L270.00 206.60 L270.25 207.47 L270.50 207.87 L270.75 208.03 L271.00 208.08 L271.25 208.10 L271.50 208.10 L271.75 208.09 L272.00 208.09 L272.25 208.09 L272.50 208.08 L272.75 208.07 L273.00 208.06 L273.25 208.01 L273.50 207.89 L273.75 207.62 L274.00 207.05 L274.25 206.01 L274.50 204.43 L274.75 202.39 L275.00 200.27 L275.25 198.62 L275.50 198.00 L275.75 198.62 L276.00 200.25 L276.25 202.37 L276.50 204.40 L276.75 205.97 L277.00 206.99 L277.25 207.56 L277.50 207.82 L277.75 207.93 L278.00 207.97 L278.25 207.98 L278.50 207.98 L278.75 207.97 L279.00 207.97 L279.25 207.96 L279.50 207.96 L279.75 207.95 L280.00 207.95 L280.25 207.95 L280.50 207.94 L280.75 207.94 L281.00 207.93 L281.25 207.93 L281.50 207.92 L281.75 207.92 L282.00 207.91 L282.25 207.91 L282.50 207.91 L282.75 207.90 L283.00 207.90 L283.25 207.89 L283.50 207.89 L283.75 207.88 L284.00 207.88 L284.25 207.88 L284.50 207.87 L284.75 207.87 L285.00 207.86 L285.25 207.86 L285.50 207.85 L285.75 207.85 L286.00 207.84 L286.25 207.84 L286.50 207.84 L286.75 207.83 L287.00 207.83 L287.25 207.82 L287.50 207.82 L287.75 207.81 L288.00 207.81 L288.25 207.81 L288.50 207.80 L288.75 207.80 L289.00 207.79 L289.25 207.79 L289.50 207.78 L289.75 207.78 L290.00 207.77 L290.25 207.77 L290.50 207.77 L290.75 207.76 L291.00 207.75 L291.25 207.74 L291.50 207.69 L291.75 207.54 L292.00 207.13 L292.25 206.14 L292.50 204.07 L292.75 200.34 L293.00 194.60 L293.25 187.21 L293.50 179.51 L293.75 173.55 L294.00 171.30 L294.25 173.54 L294.50 179.49 L294.75 187.19 L295.00 194.57 L295.25 200.29 L295.50 204.01 L295.75 206.07 L296.00 207.06 L296.25 207.46 L296.50 207.60 L296.75 207.64 L297.00 207.65 L297.25 207.65 L297.50 207.64 L297.75 207.64 L298.00 207.63 L298.25 207.63 L298.50 207.63 L298.75 207.62 L299.00 207.62 L299.25 207.61 L299.50 207.61 L299.75 207.60 L300.00 207.60 L300.25 207.58 L300.50 207.55 L300.75 207.53 L301.00 207.51 L301.25 207.49 L301.50 207.46 L301.75 207.44 L302.00 207.42 L302.25 207.40 L302.50 207.37 L302.75 207.35 L303.00 207.33 L303.25 207.31 L303.50 207.28 L303.75 207.26 L304.00 207.24 L304.25 207.22 L304.50 207.19 L304.75 207.17 L305.00 207.14 L305.25 207.11 L305.50 207.07 L305.75 207.03 L306.00 206.96 L306.25 206.88 L306.50 206.76 L306.75 206.61 L307.00 206.40 L307.25 206.12 L307.50 205.77 L307.75 205.34 L308.00 204.83 L308.25 204.25 L308.50 203.62 L308.75 202.99 L309.00 202.37 L309.25 201.83 L309.50 201.40 L309.75 201.11 L310.00 201.00 L310.25 201.07 L310.50 201.31 L310.75 201.69 L311.00 202.19 L311.25 202.76 L311.50 203.35 L311.75 203.93 L312.00 204.47 L312.25 204.93 L312.50 205.32 L312.75 205.62 L313.00 205.86 L313.25 206.02 L313.50 206.13 L313.75 206.20 L314.00 206.22 L314.25 206.19 L314.50 206.04 L314.75 205.65 L315.00 204.74 L315.25 202.93 L315.50 199.71 L315.75 194.74 L316.00 188.11 L316.25 180.67 L316.50 173.95 L316.75 169.75 L317.00 169.32 L317.25 172.79 L317.50 179.10 L317.75 186.49 L318.00 193.33 L318.25 198.62 L318.50 202.12 L318.75 204.14 L319.00 205.14 L319.25 205.56 L319.50 205.68 L319.75 205.62 L320.00 205.41 L320.25 205.06 L320.50 204.52 L320.75 203.77 L321.00 202.89 L321.25 202.01 L321.50 201.33 L321.75 201.01 L322.00 201.15 L322.25 201.70 L322.50 202.52 L322.75 203.42 L323.00 204.24 L323.25 204.86 L323.50 205.29 L323.75 205.54 L324.00 205.68 L324.25 205.75 L324.50 205.77 L324.75 205.78 L325.00 205.79 L325.25 205.79 L325.50 205.79 L325.75 205.78 L326.00 205.78 L326.25 205.77 L326.50 205.73 L326.75 205.65 L327.00 205.48 L327.25 205.16 L327.50 204.61 L327.75 203.78 L328.00 202.68 L328.25 201.41 L328.50 200.20 L328.75 199.32 L329.00 199.00 L329.25 199.32 L329.50 200.20 L329.75 201.41 L330.00 202.67 L330.25 203.77 L330.50 204.61 L330.75 205.15 L331.00 205.47 L331.25 205.64 L331.50 205.72 L331.75 205.75 L332.00 205.76 L332.25 205.77 L332.50 205.77 L332.75 205.77 L333.00 205.77 L333.25 205.77 L333.50 205.77 L333.75 205.77 L334.00 205.76 L334.25 205.76 L334.50 205.76 L334.75 205.76 L335.00 205.76 L335.25 205.76 L335.50 205.76 L335.75 205.76 L336.00 205.76 L336.25 205.76 L336.50 205.76 L336.75 205.76 L337.00 205.76 L337.25 205.76 L337.50 205.76 L337.75 205.76 L338.00 205.75 L338.25 205.75 L338.50 205.75 L338.75 205.75 L339.00 205.75 L339.25 205.75 L339.50 205.75 L339.75 205.75 L340.00 205.75 L340.25 205.75 L340.50 205.75 L340.75 205.75 L341.00 205.75 L341.25 205.75 L341.50 205.74 L341.75 205.73 L342.00 205.72 L342.25 205.67 L342.50 205.57 L342.75 205.38 L343.00 205.06 L343.25 204.58 L343.50 203.94 L343.75 203.20 L344.00 202.50 L344.25 201.99 L344.50 201.80 L344.75 201.99 L345.00 202.50 L345.25 203.20 L345.50 203.93 L345.75 204.57 L346.00 205.06 L346.25 205.37 L346.50 205.56 L346.75 205.66 L347.00 205.70 L347.25 205.72 L347.50 205.73 L347.75 205.73 L348.00 205.73 L348.25 205.73 L348.50 205.73 L348.75 205.73 L349.00 205.73 L349.25 205.73 L349.50 205.73 L349.75 205.73 L350.00 205.72 L350.25 205.72 L350.50 205.72 L350.75 205.72 L351.00 205.72 L351.25 205.72 L351.50 205.72 L351.75 205.72 L352.00 205.72 L352.25 205.72 L352.50 205.72 L352.75 205.72 L353.00 205.72 L353.25 205.72 L353.50 205.72 L353.75 205.72 L354.00 205.72 L354.25 205.71 L354.50 205.71 L354.75 205.71 L355.00 205.71 L355.25 205.71 L355.50 205.71 L355.75 205.71 L356.00 205.71 L356.25 205.71 L356.50 205.71 L356.75 205.71 L357.00 205.71 L357.25 205.71 L357.50 205.71 L357.75 205.71 L358.00 205.70 L358.25 205.70 L358.50 205.70 L358.75 205.70 L359.00 205.70 L359.25 205.70 L359.50 205.70 L359.75 205.69 L360.00 205.66 L360.25 205.60 L360.50 205.48 L360.75 205.25 L361.00 204.83 L361.25 204.16 L361.50 203.15 L361.75 201.81 L362.00 200.20 L362.25 198.49 L362.50 196.96 L362.75 195.89 L363.00 195.50 L363.25 195.89 L363.50 196.96 L363.75 198.49 L364.00 200.19 L364.25 201.80 L364.50 203.15 L364.75 204.15 L365.00 204.82 L365.25 205.24 L365.50 205.47 L365.75 205.59 L366.00 205.65 L366.25 205.67 L366.50 205.68 L366.75 205.68 L367.00 205.68 L367.25 205.68 L367.50 205.68 L367.75 205.68 L368.00 205.68 L368.25 205.68 L368.50 205.68 L368.75 205.68 L369.00 205.68 L369.25 205.68 L369.50 205.68 L369.75 205.68 L370.00 205.67 L370.25 205.67 L370.50 205.67 L370.75 205.67 L371.00 205.67 L371.25 205.67 L371.50 205.67 L371.75 205.67 L372.00 205.67 L372.25 205.67 L372.50 205.67 L372.75 205.67 L373.00 205.67 L373.25 205.67 L373.50 205.67 L373.75 205.67 L374.00 205.66 L374.25 205.66 L374.50 205.66 L374.75 205.66 L375.00 205.66 L375.25 205.66 L375.50 205.66 L375.75 205.66 L376.00 205.66 L376.25 205.66 L376.50 205.66 L376.75 205.66 L377.00 205.66 L377.25 205.66 L377.50 205.66 L377.75 205.66 L378.00 205.66 L378.25 205.65 L378.50 205.65 L378.75 205.65 L379.00 205.65 L379.25 205.65 L379.50 205.65 L379.75 205.65 L380.00 205.65 L380.25 205.65 L380.50 205.65 L380.75 205.65 L381.00 205.65 L381.25 205.65 L381.50 205.65 L381.75 205.65 L382.00 205.65 L382.25 205.64 L382.50 205.64 L382.75 205.64 L383.00 205.64 L383.25 205.64 L383.50 205.64 L383.75 205.64 L384.00 205.64 L384.25 205.64 L384.50 205.64 L384.75 205.64 L385.00 205.64 L385.25 205.64 L385.50 205.64 L385.75 205.64 L386.00 205.63 L386.25 205.63 L386.50 205.63 L386.75 205.63 L387.00 205.63 L387.25 205.63 L387.50 205.63 L387.75 205.63 L388.00 205.63 L388.25 205.63 L388.50 205.63 L388.75 205.63 L389.00 205.63 L389.25 205.63 L389.50 205.63 L389.75 205.63 L390.00 205.62 L390.25 205.62 L390.50 205.62 L390.75 205.62 L391.00 205.62 L391.25 205.62 L391.50 205.62 L391.75 205.62 L392.00 205.62 L392.25 205.62 L392.50 205.62 L392.75 205.62 L393.00 205.62 L393.25 205.62 L393.50 205.62 L393.75 205.62 L394.00 205.61 L394.25 205.61 L394.50 205.61 L394.75 205.61 L395.00 205.61 L395.25 205.61 L395.50 205.61 L395.75 205.61 L396.00 205.61 L396.25 205.61 L396.50 205.61 L396.75 205.61 L397.00 205.61 L397.25 205.60 L397.50 205.60 L397.75 205.59 L398.00 205.55 L398.25 205.47 L398.50 205.31 L398.75 205.00 L399.00 204.43 L399.25 203.52 L399.50 202.16 L399.75 200.34 L400.00 198.16 L400.25 195.85 L400.50 193.78 L400.75 192.32 L401.00 191.80 L401.25 192.32 L401.50 193.77 L401.75 195.84 L402.00 198.15 L402.25 200.33 L402.50 202.15 L402.75 203.50 L403.00 204.42 L403.25 204.98 L403.50 205.29 L403.75 205.45 L404.00 205.53 L404.25 205.56 L404.50 205.57 L404.75 205.57 L405.00 205.57 L405.25 205.57 L405.50 205.57 L405.75 205.57 L406.00 205.57 L406.25 205.57 L406.50 205.57 L406.75 205.57 L407.00 205.56 L407.25 205.56 L407.50 205.56 L407.75 205.56 L408.00 205.56 L408.25 205.56 L408.50 205.56 L408.75 205.56 L409.00 205.56 L409.25 205.55 L409.50 205.55 L409.75 205.55 L410.00 205.55 L410.25 205.55 L410.50 205.55 L410.75 205.55 L411.00 205.54 L411.25 205.54 L411.50 205.54 L411.75 205.54 L412.00 205.54 L412.25 205.54 L412.50 205.54 L412.75 205.54 L413.00 205.53 L413.25 205.53 L413.50 205.53 L413.75 205.53 L414.00 205.53 L414.25 205.53 L414.50 205.53 L414.75 205.53 L415.00 205.53 L415.25 205.52 L415.50 205.52 L415.75 205.52 L416.00 205.52 L416.25 205.52 L416.50 205.52 L416.75 205.52 L417.00 205.51 L417.25 205.51 L417.50 205.51 L417.75 205.51 L418.00 205.51 L418.25 205.51 L418.50 205.51 L418.75 205.51 L419.00 205.50 L419.25 205.50 L419.50 205.50 L419.75 205.50 L420.00 205.50 L420.25 205.50 L420.50 205.50 L420.75 205.50 L421.00 205.50 L421.25 205.49 L421.50 205.49 L421.75 205.49 L422.00 205.49 L422.25 205.49 L422.50 205.49 L422.75 205.49 L423.00 205.49 L423.25 205.48 L423.50 205.48 L423.75 205.48 L424.00 205.48 L424.25 205.48 L424.50 205.48 L424.75 205.48 L425.00 205.47 L425.25 205.47 L425.50 205.47 L425.75 205.47 L426.00 205.47 L426.25 205.47 L426.50 205.47 L426.75 205.47 L427.00 205.47 L427.25 205.46 L427.50 205.46 L427.75 205.46 L428.00 205.46 L428.25 205.46 L428.50 205.46 L428.75 205.46 L429.00 205.46 L429.25 205.45 L429.50 205.45 L429.75 205.45 L430.00 205.45 L430.25 205.45 L430.50 205.45 L430.75 205.45 L431.00 205.44 L431.25 205.44 L431.50 205.44 L431.75 205.44 L432.00 205.44 L432.25 205.44 L432.50 205.44 L432.75 205.44 L433.00 205.43 L433.25 205.43 L433.50 205.43 L433.75 205.42 L434.00 205.40 L434.25 205.36 L434.50 205.27 L434.75 205.13 L435.00 204.88 L435.25 204.51 L435.50 204.01 L435.75 203.39 L436.00 202.71 L436.25 202.09 L436.50 201.62 L436.75 201.41 L437.00 201.50 L437.25 201.87 L437.50 202.44 L437.75 203.11 L438.00 203.76 L438.25 204.31 L438.50 204.73 L438.75 205.02 L439.00 205.20 L439.25 205.30 L439.50 205.36 L439.75 205.38 L440.00 205.39 L440.25 205.40 L440.50 205.40 L440.75 205.39 L441.00 205.39 L441.25 205.39 L441.50 205.39 L441.75 205.39 L442.00 205.39 L442.25 205.38 L442.50 205.38 L442.75 205.38 L443.00 205.38 L443.25 205.38 L443.50 205.38 L443.75 205.37 L444.00 205.37 L444.25 205.37 L444.50 205.37 L444.75 205.37 L445.00 205.37 L445.25 205.37 L445.50 205.36 L445.75 205.36 L446.00 205.36 L446.25 205.36 L446.50 205.36 L446.75 205.35 L447.00 205.35 L447.25 205.35 L447.50 205.35 L447.75 205.35 L448.00 205.35 L448.25 205.34 L448.50 205.34 L448.75 205.34 L449.00 205.34 L449.25 205.34 L449.50 205.34 L449.75 205.34 L450.00 205.33 L450.25 205.33 L450.50 205.33 L450.75 205.33 L451.00 205.33 L451.25 205.32 L451.50 205.32 L451.75 205.32 L452.00 205.32 L452.25 205.32 L452.50 205.32 L452.75 205.31 L453.00 205.31 L453.25 205.31 L453.50 205.31 L453.75 205.31 L454.00 205.31 L454.25 205.30 L454.50 205.30 L454.75 205.30 L455.00 205.29 L455.25 205.28 L455.50 205.24 L455.75 205.13 L456.00 204.87 L456.25 204.29 L456.50 203.13 L456.75 201.01 L457.00 197.52 L457.25 192.34 L457.50 185.51 L457.75 177.58 L458.00 169.68 L458.25 163.31 L458.50 159.92 L458.75 160.30 L459.00 164.38 L459.25 171.18 L459.50 179.19 L459.75 186.98 L460.00 193.50 L460.25 198.32 L460.50 201.51 L460.75 203.40 L461.00 204.41 L461.25 204.90 L461.50 205.12 L461.75 205.20 L462.00 205.22 L462.25 205.20 L462.50 205.12 L462.75 204.94 L463.00 204.58 L463.25 203.91 L463.50 202.81 L463.75 201.24 L464.00 199.27 L464.25 197.16 L464.50 195.32 L464.75 194.20 L465.00 194.09 L465.25 195.02 L465.50 196.75 L465.75 198.84 L466.00 200.86 L466.25 202.52 L466.50 203.70 L466.75 204.45 L467.00 204.86 L467.25 205.07 L467.50 205.16 L467.75 205.20 L468.00 205.21 L468.25 205.21 L468.50 205.21 L468.75 205.21 L469.00 205.21 L469.25 205.20 L469.50 205.20 L469.75 205.20 L470.00 205.20 L470.25 205.19 L470.50 205.19 L470.75 205.18 L471.00 205.17 L471.25 205.17 L471.50 205.16 L471.75 205.15 L472.00 205.15 L472.25 205.14 L472.50 205.13 L472.75 205.13 L473.00 205.12 L473.25 205.11 L473.50 205.10 L473.75 205.09 L474.00 205.08 L474.25 205.06 L474.50 205.04 L474.75 205.00 L475.00 204.93 L475.25 204.84 L475.50 204.71 L475.75 204.52 L476.00 204.26 L476.25 203.92 L476.50 203.50 L476.75 203.01 L477.00 202.46 L477.25 201.87 L477.50 201.30 L477.75 200.78 L478.00 200.37 L478.25 200.10 L478.50 200.00 L478.75 200.08 L479.00 200.34 L479.25 200.74 L479.50 201.25 L479.75 201.81 L480.00 202.38 L480.25 202.92 L480.50 203.40 L480.75 203.80 L481.00 204.12 L481.25 204.37 L481.50 204.55 L481.75 204.67 L482.00 204.75 L482.25 204.80 L482.50 204.82 L482.75 204.84 L483.00 204.84 L483.25 204.84 L483.50 204.84 L483.75 204.83 L484.00 204.83 L484.25 204.82 L484.50 204.81 L484.75 204.81 L485.00 204.80 L485.25 204.79 L485.50 204.79 L485.75 204.78 L486.00 204.77 L486.25 204.76 L486.50 204.76 L486.75 204.75 L487.00 204.73 L487.25 204.71 L487.50 204.68 L487.75 204.64 L488.00 204.57 L488.25 204.47 L488.50 204.32 L488.75 204.12 L489.00 203.85 L489.25 203.51 L489.50 203.09 L489.75 202.60 L490.00 202.07 L490.25 201.53 L490.50 201.01 L490.75 200.56 L491.00 200.22 L491.25 200.03 L491.50 200.01 L491.75 200.16 L492.00 200.45 L492.25 200.87 L492.50 201.36 L492.75 201.89 L493.00 202.42 L493.25 202.90 L493.50 203.32 L493.75 203.66 L494.00 203.92 L494.25 204.12 L494.50 204.24 L494.75 204.31 L495.00 204.33 L495.25 204.29 L495.50 204.21 L495.75 204.07 L496.00 203.89 L496.25 203.65 L496.50 203.37 L496.75 203.06 L497.00 202.75 L497.25 202.46 L497.50 202.22 L497.75 202.06 L498.00 202.00 L498.25 202.05 L498.50 202.19 L498.75 202.42 L499.00 202.69 L499.25 202.99 L499.50 203.29 L499.75 203.56 L500.00 203.79 L500.25 203.96 L500.50 204.08 L500.75 204.17 L501.00 204.22 L501.25 204.25 L501.50 204.26 L501.75 204.25 L502.00 204.25 L502.25 204.23 L502.50 204.22 L502.75 204.20 L503.00 204.18 L503.25 204.16 L503.50 204.15 L503.75 204.13 L504.00 204.11 L504.25 204.09 L504.50 204.07 L504.75 204.05 L505.00 204.04 L505.25 204.02 L505.50 204.00 L505.75 203.97 L506.00 203.95 L506.25 203.92 L506.50 203.89 L506.75 203.85 L507.00 203.81 L507.25 203.75 L507.50 203.67 L507.75 203.57 L508.00 203.45 L508.25 203.29 L508.50 203.11 L508.75 202.89 L509.00 202.63 L509.25 202.35 L509.50 202.05 L509.75 201.73 L510.00 201.42 L510.25 201.13 L510.50 200.88 L510.75 200.67 L511.00 200.53 L511.25 200.50 L511.50 200.54 L511.75 200.66 L512.00 200.85 L512.25 201.09 L512.50 201.38 L512.75 201.69 L513.00 202.00 L513.25 202.32 L513.50 202.61 L513.75 202.88 L514.00 203.12 L514.25 203.32 L514.50 203.49 L514.75 203.64 L515.00 203.75 L515.25 203.84 L515.50 203.91 L515.75 203.97 L516.00 204.01 L516.25 204.05 L516.50 204.08 L516.75 204.11 L517.00 204.14 L517.25 204.17 L517.50 204.19 L517.75 204.21 L518.00 204.24 L518.25 204.26 L518.50 204.28 L518.75 204.30 L519.00 204.33 L519.25 204.35 L519.50 204.37 L519.75 204.40 L520.00 204.42 L520.25 204.44 L520.50 204.46 L520.75 204.49 L521.00 204.51 L521.25 204.53 L521.50 204.55 L521.75 204.58 L522.00 204.60 L522.25 204.62 L522.50 204.64 L522.75 204.67 L523.00 204.69 L523.25 204.71 L523.50 204.73 L523.75 204.76 L524.00 204.78 L524.25 204.80 L524.50 204.82 L524.75 204.84 L525.00 204.87 L525.25 204.89 L525.50 204.91 L525.75 204.93 L526.00 204.96 L526.25 204.98 L526.50 205.00 L526.75 205.02 L527.00 205.04 L527.25 205.07 L527.50 205.09 L527.75 205.11 L528.00 205.13 L528.25 205.16 L528.50 205.18 L528.75 205.20 L529.00 205.22 L529.25 205.24 L529.50 205.27 L529.75 205.29 L530.00 205.31 L530.25 205.33 L530.50 205.36 L530.75 205.38 L531.00 205.40 L531.25 205.48 L531.50 205.57 L531.75 205.65 L532.00 205.73 L532.25 205.82 L532.50 205.90 L532.75 205.98 L533.00 206.07 L533.25 206.15 L533.50 206.23 L533.75 206.32 L534.00 206.40 L534.25 206.48 L534.50 206.57 L534.75 206.65 L535.00 206.73 L535.25 206.82 L535.50 206.90 L535.75 206.98 L536.00 207.07 L536.25 207.15 L536.50 207.23 L536.75 207.32 L537.00 207.40 L537.25 207.48 L537.50 207.57 L537.75 207.65 L538.00 207.73 L538.25 207.82 L538.50 207.90 L538.75 207.98 L539.00 208.07 L539.25 208.15 L539.50 208.23 L539.75 208.32 L540.00 208.40 L540.25 208.48 L540.50 208.57 L540.75 208.65 L541.00 208.73 L541.25 208.82 L541.50 208.90 L541.75 208.98 L542.00 209.07 L542.25 209.15 L542.50 209.23 L542.75 209.32 L543.00 209.40 L543.25 209.48 L543.50 209.57" fill="none" stroke="#929292" stroke-width="1.00" stroke-linejoin="round" />
<text x="156.50" y="134.10" font-family='"Liberation Serif", serif' font-size="16.20" font-weight="normal" text-anchor="middle" fill="#111" textLength="4.40" lengthAdjust="spacingAndGlyphs" stroke="#111" stroke-width="0.3">1</text>
<text x="231.20" y="23.00" font-family='"Liberation Serif", serif' font-size="16.20" font-weight="normal" text-anchor="middle" fill="#111" stroke="#111" stroke-width="0.3">2</text>
<text x="261.60" y="157.60" font-family='"Liberation Serif", serif' font-size="16.20" font-weight="normal" text-anchor="middle" fill="#111" stroke="#111" stroke-width="0.3">3</text>
<text x="293.20" y="167.00" font-family='"Liberation Serif", serif' font-size="16.20" font-weight="normal" text-anchor="middle" fill="#111" stroke="#111" stroke-width="0.3">4</text>
<text x="316.00" y="163.80" font-family='"Liberation Serif", serif' font-size="16.20" font-weight="normal" text-anchor="middle" fill="#111" stroke="#111" stroke-width="0.3">5</text>
<text x="329.80" y="164.50" font-family='"Liberation Serif", serif' font-size="16.20" font-weight="normal" text-anchor="middle" fill="#111" textLength="10.60" lengthAdjust="spacingAndGlyphs" stroke="#111" stroke-width="0.3">IS</text>
<text x="344.30" y="161.20" font-family='"Liberation Serif", serif' font-size="16.20" font-weight="normal" text-anchor="middle" fill="#111" stroke="#111" stroke-width="0.3">6</text>
<text x="459.00" y="153.00" font-family='"Liberation Serif", serif' font-size="16.20" font-weight="normal" text-anchor="middle" fill="#111" stroke="#111" stroke-width="0.3">7</text>
<line x1="261.70" y1="163.50" x2="261.70" y2="189.80" stroke="#404040" stroke-width="1.25"/>
<path d="M258.10 182.80 L261.70 190.60 L265.30 182.80" fill="none" stroke="#151515" stroke-width="1.45" stroke-linejoin="miter" stroke-linecap="round"/>
<line x1="329.60" y1="173.60" x2="329.60" y2="188.40" stroke="#404040" stroke-width="1.25"/>
<path d="M326.20 182.20 L329.60 189.20 L333.00 182.20" fill="none" stroke="#151515" stroke-width="1.45" stroke-linejoin="miter" stroke-linecap="round"/>
<line x1="344.50" y1="167.00" x2="344.50" y2="188.70" stroke="#404040" stroke-width="1.25"/>
<path d="M341.10 182.50 L344.50 189.50 L347.90 182.50" fill="none" stroke="#151515" stroke-width="1.45" stroke-linejoin="miter" stroke-linecap="round"/>
<line x1="310.50" y1="15.00" x2="310.50" y2="116.00" stroke="#7a7a7a" stroke-width="0.80"/>
<line x1="310.50" y1="116.00" x2="537.60" y2="116.00" stroke="#7a7a7a" stroke-width="0.80"/>
<line x1="307.00" y1="115.40" x2="310.50" y2="115.40" stroke="#7a7a7a" stroke-width="0.70"/>
<line x1="308.50" y1="110.25" x2="310.50" y2="110.25" stroke="#7a7a7a" stroke-width="0.70"/>
<line x1="308.50" y1="105.10" x2="310.50" y2="105.10" stroke="#7a7a7a" stroke-width="0.70"/>
<line x1="308.50" y1="99.95" x2="310.50" y2="99.95" stroke="#7a7a7a" stroke-width="0.70"/>
<line x1="308.50" y1="94.80" x2="310.50" y2="94.80" stroke="#7a7a7a" stroke-width="0.70"/>
<line x1="307.00" y1="89.65" x2="310.50" y2="89.65" stroke="#7a7a7a" stroke-width="0.70"/>
<line x1="308.50" y1="84.50" x2="310.50" y2="84.50" stroke="#7a7a7a" stroke-width="0.70"/>
<line x1="308.50" y1="79.35" x2="310.50" y2="79.35" stroke="#7a7a7a" stroke-width="0.70"/>
<line x1="308.50" y1="74.20" x2="310.50" y2="74.20" stroke="#7a7a7a" stroke-width="0.70"/>
<line x1="308.50" y1="69.05" x2="310.50" y2="69.05" stroke="#7a7a7a" stroke-width="0.70"/>
<line x1="307.00" y1="63.90" x2="310.50" y2="63.90" stroke="#7a7a7a" stroke-width="0.70"/>
<line x1="308.50" y1="58.75" x2="310.50" y2="58.75" stroke="#7a7a7a" stroke-width="0.70"/>
<line x1="308.50" y1="53.60" x2="310.50" y2="53.60" stroke="#7a7a7a" stroke-width="0.70"/>
<line x1="308.50" y1="48.45" x2="310.50" y2="48.45" stroke="#7a7a7a" stroke-width="0.70"/>
<line x1="308.50" y1="43.30" x2="310.50" y2="43.30" stroke="#7a7a7a" stroke-width="0.70"/>
<line x1="307.00" y1="38.15" x2="310.50" y2="38.15" stroke="#7a7a7a" stroke-width="0.70"/>
<line x1="308.50" y1="33.00" x2="310.50" y2="33.00" stroke="#7a7a7a" stroke-width="0.70"/>
<line x1="308.50" y1="27.85" x2="310.50" y2="27.85" stroke="#7a7a7a" stroke-width="0.70"/>
<line x1="308.50" y1="22.70" x2="310.50" y2="22.70" stroke="#7a7a7a" stroke-width="0.70"/>
<line x1="308.50" y1="17.55" x2="310.50" y2="17.55" stroke="#7a7a7a" stroke-width="0.70"/>
<line x1="310.50" y1="116.00" x2="310.50" y2="119.00" stroke="#7a7a7a" stroke-width="0.70"/>
<line x1="318.07" y1="116.00" x2="318.07" y2="117.80" stroke="#7a7a7a" stroke-width="0.70"/>
<line x1="325.64" y1="116.00" x2="325.64" y2="117.80" stroke="#7a7a7a" stroke-width="0.70"/>
<line x1="333.21" y1="116.00" x2="333.21" y2="117.80" stroke="#7a7a7a" stroke-width="0.70"/>
<line x1="340.78" y1="116.00" x2="340.78" y2="117.80" stroke="#7a7a7a" stroke-width="0.70"/>
<line x1="348.35" y1="116.00" x2="348.35" y2="119.00" stroke="#7a7a7a" stroke-width="0.70"/>
<line x1="355.92" y1="116.00" x2="355.92" y2="117.80" stroke="#7a7a7a" stroke-width="0.70"/>
<line x1="363.49" y1="116.00" x2="363.49" y2="117.80" stroke="#7a7a7a" stroke-width="0.70"/>
<line x1="371.06" y1="116.00" x2="371.06" y2="117.80" stroke="#7a7a7a" stroke-width="0.70"/>
<line x1="378.63" y1="116.00" x2="378.63" y2="117.80" stroke="#7a7a7a" stroke-width="0.70"/>
<line x1="386.20" y1="116.00" x2="386.20" y2="119.00" stroke="#7a7a7a" stroke-width="0.70"/>
<line x1="393.77" y1="116.00" x2="393.77" y2="117.80" stroke="#7a7a7a" stroke-width="0.70"/>
<line x1="401.34" y1="116.00" x2="401.34" y2="117.80" stroke="#7a7a7a" stroke-width="0.70"/>
<line x1="408.91" y1="116.00" x2="408.91" y2="117.80" stroke="#7a7a7a" stroke-width="0.70"/>
<line x1="416.48" y1="116.00" x2="416.48" y2="117.80" stroke="#7a7a7a" stroke-width="0.70"/>
<line x1="424.05" y1="116.00" x2="424.05" y2="119.00" stroke="#7a7a7a" stroke-width="0.70"/>
<line x1="431.62" y1="116.00" x2="431.62" y2="117.80" stroke="#7a7a7a" stroke-width="0.70"/>
<line x1="439.19" y1="116.00" x2="439.19" y2="117.80" stroke="#7a7a7a" stroke-width="0.70"/>
<line x1="446.76" y1="116.00" x2="446.76" y2="117.80" stroke="#7a7a7a" stroke-width="0.70"/>
<line x1="454.33" y1="116.00" x2="454.33" y2="117.80" stroke="#7a7a7a" stroke-width="0.70"/>
<line x1="461.90" y1="116.00" x2="461.90" y2="119.00" stroke="#7a7a7a" stroke-width="0.70"/>
<line x1="469.47" y1="116.00" x2="469.47" y2="117.80" stroke="#7a7a7a" stroke-width="0.70"/>
<line x1="477.04" y1="116.00" x2="477.04" y2="117.80" stroke="#7a7a7a" stroke-width="0.70"/>
<line x1="484.61" y1="116.00" x2="484.61" y2="117.80" stroke="#7a7a7a" stroke-width="0.70"/>
<line x1="492.18" y1="116.00" x2="492.18" y2="117.80" stroke="#7a7a7a" stroke-width="0.70"/>
<line x1="499.75" y1="116.00" x2="499.75" y2="119.00" stroke="#7a7a7a" stroke-width="0.70"/>
<line x1="507.32" y1="116.00" x2="507.32" y2="117.80" stroke="#7a7a7a" stroke-width="0.70"/>
<line x1="514.89" y1="116.00" x2="514.89" y2="117.80" stroke="#7a7a7a" stroke-width="0.70"/>
<line x1="522.46" y1="116.00" x2="522.46" y2="117.80" stroke="#7a7a7a" stroke-width="0.70"/>
<line x1="530.03" y1="116.00" x2="530.03" y2="117.80" stroke="#7a7a7a" stroke-width="0.70"/>
<line x1="537.60" y1="116.00" x2="537.60" y2="119.00" stroke="#7a7a7a" stroke-width="0.70"/>
<text x="303.40" y="114.60" font-family='"Liberation Mono", monospace' font-size="5.40" font-weight="bold" text-anchor="end" fill="#111" textLength="11.40" lengthAdjust="spacingAndGlyphs" >0.00</text>
<text x="303.40" y="91.60" font-family='"Liberation Mono", monospace' font-size="5.40" font-weight="bold" text-anchor="end" fill="#111" textLength="11.40" lengthAdjust="spacingAndGlyphs" >0.05</text>
<text x="303.40" y="65.80" font-family='"Liberation Mono", monospace' font-size="5.40" font-weight="bold" text-anchor="end" fill="#111" textLength="11.40" lengthAdjust="spacingAndGlyphs" >0.10</text>
<text x="303.40" y="40.00" font-family='"Liberation Mono", monospace' font-size="5.40" font-weight="bold" text-anchor="end" fill="#111" textLength="11.40" lengthAdjust="spacingAndGlyphs" >0.15</text>
<text x="313.50" y="126.00" font-family='"Liberation Mono", monospace' font-size="5.40" font-weight="bold" text-anchor="middle" fill="#111" textLength="6.20" lengthAdjust="spacingAndGlyphs" >40</text>
<text x="348.50" y="126.00" font-family='"Liberation Mono", monospace' font-size="5.40" font-weight="bold" text-anchor="middle" fill="#111" textLength="6.20" lengthAdjust="spacingAndGlyphs" >45</text>
<text x="386.30" y="126.00" font-family='"Liberation Mono", monospace' font-size="5.40" font-weight="bold" text-anchor="middle" fill="#111" textLength="6.20" lengthAdjust="spacingAndGlyphs" >50</text>
<text x="424.10" y="126.00" font-family='"Liberation Mono", monospace' font-size="5.40" font-weight="bold" text-anchor="middle" fill="#111" textLength="6.20" lengthAdjust="spacingAndGlyphs" >55</text>
<text x="461.90" y="126.00" font-family='"Liberation Mono", monospace' font-size="5.40" font-weight="bold" text-anchor="middle" fill="#111" textLength="6.20" lengthAdjust="spacingAndGlyphs" >60</text>
<text x="499.70" y="126.00" font-family='"Liberation Mono", monospace' font-size="5.40" font-weight="bold" text-anchor="middle" fill="#111" textLength="6.20" lengthAdjust="spacingAndGlyphs" >65</text>
<text x="534.50" y="126.00" font-family='"Liberation Mono", monospace' font-size="5.40" font-weight="bold" text-anchor="middle" fill="#111" textLength="6.20" lengthAdjust="spacingAndGlyphs" >70</text>
<text x="423.50" y="135.40" font-family='"Liberation Mono", monospace' font-size="5.40" font-weight="bold" text-anchor="middle" fill="#111" textLength="57.00" lengthAdjust="spacingAndGlyphs" >Retention Time (min)</text>
<text transform="translate(268.6,63.6) rotate(-90)" x="0" y="0" font-family='"Liberation Mono", monospace' font-size="5.4" font-weight="bold" text-anchor="middle" fill="#111" textLength="41.8" lengthAdjust="spacingAndGlyphs">Intensity (AU)</text>
<path d="M310.50 109.20 L310.75 109.21 L311.00 109.23 L311.25 109.24 L311.50 109.25 L311.75 109.27 L312.00 109.28 L312.25 109.30 L312.50 109.31 L312.75 109.32 L313.00 109.34 L313.25 109.35 L313.50 109.36 L313.75 109.38 L314.00 109.39 L314.25 109.40 L314.50 109.42 L314.75 109.43 L315.00 109.45 L315.25 109.46 L315.50 109.47 L315.75 109.49 L316.00 109.50 L316.25 109.61 L316.50 109.72 L316.75 109.83 L317.00 109.94 L317.25 110.05 L317.50 110.16 L317.75 110.27 L318.00 110.38 L318.25 110.49 L318.50 110.60 L318.75 110.71 L319.00 110.82 L319.25 110.93 L319.50 110.97 L319.75 110.88 L320.00 110.80 L320.25 110.72 L320.50 110.63 L320.75 110.55 L321.00 110.47 L321.25 110.38 L321.50 110.30 L321.75 110.22 L322.00 110.13 L322.25 110.05 L322.50 109.97 L322.75 109.88 L323.00 109.80 L323.25 109.78 L323.50 109.77 L323.75 109.75 L324.00 109.73 L324.25 109.70 L324.50 109.68 L324.75 109.64 L325.00 109.59 L325.25 109.53 L325.50 109.43 L325.75 109.31 L326.00 109.14 L326.25 108.91 L326.50 108.64 L326.75 108.31 L327.00 107.93 L327.25 107.52 L327.50 107.10 L327.75 106.72 L328.00 106.39 L328.25 106.15 L328.50 106.02 L328.75 106.01 L329.00 106.13 L329.25 106.36 L329.50 106.67 L329.75 107.03 L330.00 107.41 L330.25 107.79 L330.50 108.12 L330.75 108.41 L331.00 108.64 L331.25 108.82 L331.50 108.95 L331.75 109.03 L332.00 109.09 L332.25 109.12 L332.50 109.13 L332.75 109.13 L333.00 109.12 L333.25 109.11 L333.50 109.10 L333.75 109.08 L334.00 109.07 L334.25 109.05 L334.50 109.03 L334.75 109.02 L335.00 109.00 L335.25 109.01 L335.50 109.01 L335.75 109.02 L336.00 109.03 L336.25 109.03 L336.50 109.03 L336.75 109.02 L337.00 109.01 L337.25 108.98 L337.50 108.93 L337.75 108.87 L338.00 108.78 L338.25 108.67 L338.50 108.53 L338.75 108.39 L339.00 108.24 L339.25 108.10 L339.50 107.99 L339.75 107.92 L340.00 107.90 L340.25 107.93 L340.50 108.02 L340.75 108.14 L341.00 108.30 L341.25 108.46 L341.50 108.62 L341.75 108.77 L342.00 108.90 L342.25 109.00 L342.50 109.08 L342.75 109.14 L343.00 109.19 L343.25 109.22 L343.50 109.24 L343.75 109.25 L344.00 109.27 L344.25 109.28 L344.50 109.28 L344.75 109.29 L345.00 109.30 L345.25 109.30 L345.50 109.29 L345.75 109.29 L346.00 109.29 L346.25 109.28 L346.50 109.28 L346.75 109.27 L347.00 109.27 L347.25 109.27 L347.50 109.26 L347.75 109.26 L348.00 109.26 L348.25 109.25 L348.50 109.25 L348.75 109.25 L349.00 109.24 L349.25 109.24 L349.50 109.24 L349.75 109.23 L350.00 109.23 L350.25 109.22 L350.50 109.22 L350.75 109.22 L351.00 109.21 L351.25 109.21 L351.50 109.21 L351.75 109.20 L352.00 109.18 L352.25 109.16 L352.50 109.10 L352.75 108.98 L353.00 108.76 L353.25 108.38 L353.50 107.77 L353.75 106.89 L354.00 105.74 L354.25 104.38 L354.50 102.99 L354.75 101.79 L355.00 101.01 L355.25 100.81 L355.50 101.25 L355.75 102.21 L356.00 103.51 L356.25 104.91 L356.50 106.19 L356.75 107.23 L357.00 107.99 L357.25 108.49 L357.50 108.79 L357.75 108.95 L358.00 109.02 L358.25 109.01 L358.50 108.91 L358.75 108.65 L359.00 108.07 L359.25 106.96 L359.50 105.07 L359.75 102.22 L360.00 98.43 L360.25 94.08 L360.50 89.93 L360.75 86.91 L361.00 85.80 L361.25 86.90 L361.50 89.90 L361.75 94.00 L362.00 98.21 L362.25 101.69 L362.50 103.86 L362.75 104.35 L363.00 102.85 L363.25 99.05 L363.50 92.70 L363.75 83.85 L364.00 73.20 L364.25 62.20 L364.50 52.88 L364.75 47.27 L365.00 46.73 L365.25 51.40 L365.50 60.14 L365.75 70.98 L366.00 81.88 L366.25 91.26 L366.50 98.37 L366.75 103.16 L367.00 106.08 L367.25 107.67 L367.50 108.47 L367.75 108.83 L368.00 108.97 L368.25 109.02 L368.50 109.01 L368.75 108.95 L369.00 108.82 L369.25 108.57 L369.50 108.15 L369.75 107.52 L370.00 106.66 L370.25 105.60 L370.50 104.44 L370.75 103.37 L371.00 102.57 L371.25 102.21 L371.50 102.37 L371.75 103.02 L372.00 104.02 L372.25 105.18 L372.50 106.30 L372.75 107.26 L373.00 108.00 L373.25 108.50 L373.50 108.82 L373.75 108.99 L374.00 109.07 L374.25 109.08 L374.50 109.01 L374.75 108.83 L375.00 108.48 L375.25 107.87 L375.50 106.89 L375.75 105.41 L376.00 103.37 L376.25 100.76 L376.50 97.73 L376.75 94.57 L377.00 91.66 L377.25 89.44 L377.50 88.30 L377.75 88.44 L378.00 89.83 L378.25 92.22 L378.50 95.23 L378.75 98.41 L379.00 101.38 L379.25 103.89 L379.50 105.83 L379.75 107.21 L380.00 108.12 L380.25 108.68 L380.50 109.00 L380.75 109.17 L381.00 109.25 L381.25 109.30 L381.50 109.32 L381.75 109.33 L382.00 109.34 L382.25 109.34 L382.50 109.35 L382.75 109.35 L383.00 109.36 L383.25 109.36 L383.50 109.37 L383.75 109.37 L384.00 109.38 L384.25 109.38 L384.50 109.39 L384.75 109.39 L385.00 109.40 L385.25 109.40 L385.50 109.41 L385.75 109.41 L386.00 109.42 L386.25 109.42 L386.50 109.43 L386.75 109.44 L387.00 109.44 L387.25 109.44 L387.50 109.45 L387.75 109.45 L388.00 109.46 L388.25 109.47 L388.50 109.47 L388.75 109.47 L389.00 109.48 L389.25 109.48 L389.50 109.49 L389.75 109.50 L390.00 109.50 L390.25 109.50 L390.50 109.49 L390.75 109.48 L391.00 109.48 L391.25 109.47 L391.50 109.47 L391.75 109.47 L392.00 109.46 L392.25 109.45 L392.50 109.45 L392.75 109.45 L393.00 109.44 L393.25 109.43 L393.50 109.43 L393.75 109.42 L394.00 109.42 L394.25 109.41 L394.50 109.41 L394.75 109.40 L395.00 109.40 L395.25 109.39 L395.50 109.39 L395.75 109.38 L396.00 109.38 L396.25 109.37 L396.50 109.37 L396.75 109.36 L397.00 109.36 L397.25 109.35 L397.50 109.35 L397.75 109.34 L398.00 109.34 L398.25 109.33 L398.50 109.33 L398.75 109.32 L399.00 109.31 L399.25 109.29 L399.50 109.26 L399.75 109.22 L400.00 109.16 L400.25 109.06 L400.50 108.92 L400.75 108.73 L401.00 108.47 L401.25 108.16 L401.50 107.79 L401.75 107.38 L402.00 106.97 L402.25 106.59 L402.50 106.28 L402.75 106.07 L403.00 106.00 L403.25 106.06 L403.50 106.26 L403.75 106.56 L404.00 106.93 L404.25 107.33 L404.50 107.73 L404.75 108.09 L405.00 108.39 L405.25 108.63 L405.50 108.80 L405.75 108.90 L406.00 108.92 L406.25 108.82 L406.50 108.52 L406.75 107.88 L407.00 106.67 L407.25 104.55 L407.50 101.14 L407.75 96.03 L408.00 88.97 L408.25 79.98 L408.50 69.53 L408.75 58.60 L409.00 48.56 L409.25 40.92 L409.50 36.96 L409.75 37.41 L410.00 42.16 L410.25 50.38 L410.50 60.71 L410.75 71.63 L411.00 81.84 L411.25 90.45 L411.50 97.11 L411.75 101.83 L412.00 104.94 L412.25 106.84 L412.50 107.92 L412.75 108.49 L413.00 108.76 L413.25 108.89 L413.50 108.94 L413.75 108.95 L414.00 108.96 L414.25 108.95 L414.50 108.95 L414.75 108.94 L415.00 108.93 L415.25 108.93 L415.50 108.92 L415.75 108.91 L416.00 108.91 L416.25 108.90 L416.50 108.89 L416.75 108.89 L417.00 108.88 L417.25 108.87 L417.50 108.87 L417.75 108.86 L418.00 108.85 L418.25 108.85 L418.50 108.84 L418.75 108.83 L419.00 108.83 L419.25 108.82 L419.50 108.81 L419.75 108.81 L420.00 108.80 L420.25 108.79 L420.50 108.78 L420.75 108.77 L421.00 108.76 L421.25 108.75 L421.50 108.74 L421.75 108.73 L422.00 108.72 L422.25 108.71 L422.50 108.70 L422.75 108.69 L423.00 108.68 L423.25 108.67 L423.50 108.66 L423.75 108.65 L424.00 108.64 L424.25 108.63 L424.50 108.62 L424.75 108.61 L425.00 108.60 L425.25 108.59 L425.50 108.58 L425.75 108.56 L426.00 108.55 L426.25 108.52 L426.50 108.47 L426.75 108.39 L427.00 108.25 L427.25 108.02 L427.50 107.67 L427.75 107.17 L428.00 106.49 L428.25 105.67 L428.50 104.75 L428.75 103.83 L429.00 103.04 L429.25 102.50 L429.50 102.30 L429.75 102.48 L430.00 103.00 L430.25 103.77 L430.50 104.67 L430.75 105.57 L431.00 106.37 L431.25 107.02 L431.50 107.51 L431.75 107.84 L432.00 108.04 L432.25 108.14 L432.50 108.17 L432.75 108.15 L433.00 108.07 L433.25 107.93 L433.50 107.69 L433.75 107.35 L434.00 106.85 L434.25 106.17 L434.50 105.27 L434.75 104.14 L435.00 102.78 L435.25 101.25 L435.50 99.61 L435.75 97.97 L436.00 96.47 L436.25 95.23 L436.50 94.38 L436.75 94.01 L437.00 94.16 L437.25 94.80 L437.50 95.88 L437.75 97.27 L438.00 98.85 L438.25 100.49 L438.50 102.05 L438.75 103.46 L439.00 104.67 L439.25 105.64 L439.50 106.39 L439.75 106.93 L440.00 107.32 L440.25 107.58 L440.50 107.75 L440.75 107.85 L441.00 107.91 L441.25 107.95 L441.50 107.96 L441.75 107.97 L442.00 107.98 L442.25 107.98 L442.50 107.97 L442.75 107.97 L443.00 107.97 L443.25 107.97 L443.50 107.96 L443.75 107.96 L444.00 107.96 L444.25 107.95 L444.50 107.94 L444.75 107.92 L445.00 107.85 L445.25 107.69 L445.50 107.34 L445.75 106.60 L446.00 105.16 L446.25 102.56 L446.50 98.25 L446.75 91.65 L447.00 82.40 L447.25 70.56 L447.50 56.89 L447.75 42.89 L448.00 30.59 L448.25 22.13 L448.50 19.10 L448.75 22.12 L449.00 30.58 L449.25 42.87 L449.50 56.87 L449.75 70.53 L450.00 82.36 L450.25 91.59 L450.50 98.14 L450.75 102.33 L451.00 104.67 L451.25 105.64 L451.50 105.58 L451.75 104.72 L452.00 103.26 L452.25 101.48 L452.50 99.74 L452.75 98.47 L453.00 98.00 L453.25 98.46 L453.50 99.72 L453.75 101.44 L454.00 103.19 L454.25 104.62 L454.50 105.48 L454.75 105.68 L455.00 105.18 L455.25 104.02 L455.50 102.29 L455.75 100.18 L456.00 97.98 L456.25 96.07 L456.50 94.83 L456.75 94.52 L457.00 95.22 L457.25 96.77 L457.50 98.84 L457.75 101.07 L458.00 103.12 L458.25 104.78 L458.50 105.98 L458.75 106.74 L459.00 107.14 L459.25 107.25 L459.50 107.11 L459.75 106.74 L460.00 106.15 L460.25 105.37 L460.50 104.47 L460.75 103.57 L461.00 102.82 L461.25 102.38 L461.50 102.33 L461.75 102.70 L462.00 103.39 L462.25 104.27 L462.50 105.18 L462.75 105.99 L463.00 106.64 L463.25 107.10 L463.50 107.40 L463.75 107.58 L464.00 107.68 L464.25 107.72 L464.50 107.74 L464.75 107.75 L465.00 107.75 L465.25 107.74 L465.50 107.74 L465.75 107.72 L466.00 107.70 L466.25 107.65 L466.50 107.57 L466.75 107.43 L467.00 107.18 L467.25 106.80 L467.50 106.21 L467.75 105.35 L468.00 104.16 L468.25 102.62 L468.50 100.71 L468.75 98.51 L469.00 96.13 L469.25 93.75 L469.50 91.59 L469.75 89.90 L470.00 88.87 L470.25 88.62 L470.50 89.18 L470.75 90.50 L471.00 92.40 L471.25 94.66 L471.50 97.06 L471.75 99.39 L472.00 101.48 L472.25 103.24 L472.50 104.63 L472.75 105.68 L473.00 106.41 L473.25 106.91 L473.50 107.23 L473.75 107.42 L474.00 107.53 L474.25 107.58 L474.50 107.60 L474.75 107.60 L475.00 107.58 L475.25 107.53 L475.50 107.47 L475.75 107.37 L476.00 107.24 L476.25 107.05 L476.50 106.82 L476.75 106.53 L477.00 106.18 L477.25 105.79 L477.50 105.37 L477.75 104.93 L478.00 104.51 L478.25 104.14 L478.50 103.85 L478.75 103.67 L479.00 103.60 L479.25 103.66 L479.50 103.84 L479.75 104.13 L480.00 104.49 L480.25 104.91 L480.50 105.34 L480.75 105.76 L481.00 106.15 L481.25 106.49 L481.50 106.78 L481.75 107.01 L482.00 107.19 L482.25 107.32 L482.50 107.41 L482.75 107.48 L483.00 107.52 L483.25 107.54 L483.50 107.56 L483.75 107.57 L484.00 107.57 L484.25 107.58 L484.50 107.58 L484.75 107.58 L485.00 107.57 L485.25 107.57 L485.50 107.57 L485.75 107.57 L486.00 107.57 L486.25 107.57 L486.50 107.57 L486.75 107.57 L487.00 107.56 L487.25 107.56 L487.50 107.56 L487.75 107.56 L488.00 107.56 L488.25 107.56 L488.50 107.56 L488.75 107.56 L489.00 107.55 L489.25 107.55 L489.50 107.55 L489.75 107.55 L490.00 107.55 L490.25 107.55 L490.50 107.55 L490.75 107.55 L491.00 107.54 L491.25 107.54 L491.50 107.54 L491.75 107.54 L492.00 107.54 L492.25 107.53 L492.50 107.51 L492.75 107.47 L493.00 107.40 L493.25 107.25 L493.50 106.98 L493.75 106.54 L494.00 105.84 L494.25 104.82 L494.50 103.46 L494.75 101.79 L495.00 99.93 L495.25 98.07 L495.50 96.47 L495.75 95.39 L496.00 95.00 L496.25 95.38 L496.50 96.47 L496.75 98.07 L497.00 99.92 L497.25 101.78 L497.50 103.45 L497.75 104.80 L498.00 105.82 L498.25 106.51 L498.50 106.96 L498.75 107.22 L499.00 107.37 L499.25 107.44 L499.50 107.48 L499.75 107.49 L500.00 107.50 L500.25 107.50 L500.50 107.50 L500.75 107.50 L501.00 107.50 L501.25 107.51 L501.50 107.51 L501.75 107.51 L502.00 107.51 L502.25 107.51 L502.50 107.51 L502.75 107.51 L503.00 107.51 L503.25 107.51 L503.50 107.50 L503.75 107.49 L504.00 107.48 L504.25 107.45 L504.50 107.40 L504.75 107.33 L505.00 107.23 L505.25 107.10 L505.50 106.92 L505.75 106.70 L506.00 106.45 L506.25 106.17 L506.50 105.87 L506.75 105.59 L507.00 105.34 L507.25 105.15 L507.50 105.03 L507.75 105.00 L508.00 105.07 L508.25 105.22 L508.50 105.44 L508.75 105.71 L509.00 106.01 L509.25 106.30 L509.50 106.57 L509.75 106.82 L510.00 107.02 L510.25 107.18 L510.50 107.30 L510.75 107.39 L511.00 107.45 L511.25 107.50 L511.50 107.52 L511.75 107.54 L512.00 107.55 L512.25 107.56 L512.50 107.56 L512.75 107.56 L513.00 107.56 L513.25 107.57 L513.50 107.57 L513.75 107.57 L514.00 107.57 L514.25 107.57 L514.50 107.57 L514.75 107.57 L515.00 107.57 L515.25 107.58 L515.50 107.58 L515.75 107.58 L516.00 107.58 L516.25 107.58 L516.50 107.58 L516.75 107.58 L517.00 107.58 L517.25 107.59 L517.50 107.59 L517.75 107.59 L518.00 107.59 L518.25 107.59 L518.50 107.59 L518.75 107.59 L519.00 107.59 L519.25 107.60 L519.50 107.60 L519.75 107.60 L520.00 107.60 L520.25 107.60 L520.50 107.60 L520.75 107.60 L521.00 107.61 L521.25 107.61 L521.50 107.61 L521.75 107.61 L522.00 107.61 L522.25 107.61 L522.50 107.60 L522.75 107.59 L523.00 107.57 L523.25 107.52 L523.50 107.44 L523.75 107.29 L524.00 107.05 L524.25 106.67 L524.50 106.09 L524.75 105.25 L525.00 104.06 L525.25 102.49 L525.50 100.49 L525.75 98.06 L526.00 95.28 L526.25 92.27 L526.50 89.22 L526.75 86.37 L527.00 83.96 L527.25 82.24 L527.50 81.38 L527.75 81.48 L528.00 82.52 L528.25 84.40 L528.50 86.92 L528.75 89.84 L529.00 92.90 L529.25 95.88 L529.50 98.60 L529.75 100.95 L530.00 102.87 L530.25 104.36 L530.50 105.48 L530.75 106.27 L531.00 106.81 L531.25 107.16 L531.50 107.38 L531.75 107.51 L532.00 107.59 L532.25 107.63 L532.50 107.65 L532.75 107.67 L533.00 107.67 L533.25 107.68 L533.50 107.68 L533.75 107.68 L534.00 107.69 L534.25 107.69 L534.50 107.69 L534.75 107.69 L535.00 107.69 L535.25 107.69 L535.50 107.69 L535.75 107.70 L536.00 107.70 L536.25 107.70 L536.50 107.70" fill="none" stroke="#929292" stroke-width="0.90" stroke-linejoin="round" />
<text x="354.50" y="61.80" font-family='"Liberation Serif", serif' font-size="16.20" font-weight="normal" text-anchor="middle" fill="#111" stroke="#111" stroke-width="0.3">3</text>
<text x="409.20" y="29.40" font-family='"Liberation Serif", serif' font-size="16.20" font-weight="normal" text-anchor="middle" fill="#111" stroke="#111" stroke-width="0.3">4</text>
<text x="449.10" y="12.30" font-family='"Liberation Serif", serif' font-size="16.20" font-weight="normal" text-anchor="middle" fill="#111" stroke="#111" stroke-width="0.3">5</text>
<text x="470.60" y="64.10" font-family='"Liberation Serif", serif' font-size="16.20" font-weight="normal" text-anchor="middle" fill="#111" textLength="10.40" lengthAdjust="spacingAndGlyphs" stroke="#111" stroke-width="0.3">IS</text>
<text x="496.40" y="58.60" font-family='"Liberation Serif", serif' font-size="16.20" font-weight="normal" text-anchor="middle" fill="#111" stroke="#111" stroke-width="0.3">6</text>
<line x1="354.60" y1="67.80" x2="354.60" y2="94.20" stroke="#404040" stroke-width="1.25"/>
<path d="M351.00 87.00 L354.60 95.00 L358.20 87.00" fill="none" stroke="#151515" stroke-width="1.45" stroke-linejoin="miter" stroke-linecap="round"/>
<line x1="470.40" y1="71.40" x2="470.40" y2="87.00" stroke="#404040" stroke-width="1.25"/>
<path d="M467.00 80.80 L470.40 87.80 L473.80 80.80" fill="none" stroke="#151515" stroke-width="1.45" stroke-linejoin="miter" stroke-linecap="round"/>
<line x1="496.00" y1="64.00" x2="496.00" y2="87.00" stroke="#404040" stroke-width="1.25"/>
<path d="M492.60 80.80 L496.00 87.80 L499.40 80.80" fill="none" stroke="#151515" stroke-width="1.45" stroke-linejoin="miter" stroke-linecap="round"/>
<line x1="66.90" y1="283.50" x2="66.90" y2="458.30" stroke="#7a7a7a" stroke-width="1.00"/>
<line x1="63.10" y1="456.86" x2="66.90" y2="456.86" stroke="#a3a3a3" stroke-width="0.90"/>
<line x1="63.10" y1="454.64" x2="66.90" y2="454.64" stroke="#a3a3a3" stroke-width="0.90"/>
<line x1="63.10" y1="452.42" x2="66.90" y2="452.42" stroke="#a3a3a3" stroke-width="0.90"/>
<line x1="57.40" y1="450.20" x2="66.90" y2="450.20" stroke="#a3a3a3" stroke-width="0.90"/>
<line x1="63.10" y1="447.98" x2="66.90" y2="447.98" stroke="#a3a3a3" stroke-width="0.90"/>
<line x1="63.10" y1="445.76" x2="66.90" y2="445.76" stroke="#a3a3a3" stroke-width="0.90"/>
<line x1="63.10" y1="443.54" x2="66.90" y2="443.54" stroke="#a3a3a3" stroke-width="0.90"/>
<line x1="63.10" y1="441.32" x2="66.90" y2="441.32" stroke="#a3a3a3" stroke-width="0.90"/>
<line x1="60.90" y1="439.10" x2="66.90" y2="439.10" stroke="#a3a3a3" stroke-width="0.90"/>
<line x1="63.10" y1="436.88" x2="66.90" y2="436.88" stroke="#a3a3a3" stroke-width="0.90"/>
<line x1="63.10" y1="434.66" x2="66.90" y2="434.66" stroke="#a3a3a3" stroke-width="0.90"/>
<line x1="63.10" y1="432.44" x2="66.90" y2="432.44" stroke="#a3a3a3" stroke-width="0.90"/>
<line x1="63.10" y1="430.22" x2="66.90" y2="430.22" stroke="#a3a3a3" stroke-width="0.90"/>
<line x1="57.40" y1="428.00" x2="66.90" y2="428.00" stroke="#a3a3a3" stroke-width="0.90"/>
<line x1="63.10" y1="425.78" x2="66.90" y2="425.78" stroke="#a3a3a3" stroke-width="0.90"/>
<line x1="63.10" y1="423.56" x2="66.90" y2="423.56" stroke="#a3a3a3" stroke-width="0.90"/>
<line x1="63.10" y1="421.34" x2="66.90" y2="421.34" stroke="#a3a3a3" stroke-width="0.90"/>
<line x1="63.10" y1="419.12" x2="66.90" y2="419.12" stroke="#a3a3a3" stroke-width="0.90"/>
<line x1="60.90" y1="416.90" x2="66.90" y2="416.90" stroke="#a3a3a3" stroke-width="0.90"/>
<line x1="63.10" y1="414.68" x2="66.90" y2="414.68" stroke="#a3a3a3" stroke-width="0.90"/>
<line x1="63.10" y1="412.46" x2="66.90" y2="412.46" stroke="#a3a3a3" stroke-width="0.90"/>
<line x1="63.10" y1="410.24" x2="66.90" y2="410.24" stroke="#a3a3a3" stroke-width="0.90"/>
<line x1="63.10" y1="408.02" x2="66.90" y2="408.02" stroke="#a3a3a3" stroke-width="0.90"/>
<line x1="57.40" y1="405.80" x2="66.90" y2="405.80" stroke="#a3a3a3" stroke-width="0.90"/>
<line x1="63.10" y1="403.58" x2="66.90" y2="403.58" stroke="#a3a3a3" stroke-width="0.90"/>
<line x1="63.10" y1="401.36" x2="66.90" y2="401.36" stroke="#a3a3a3" stroke-width="0.90"/>
<line x1="63.10" y1="399.14" x2="66.90" y2="399.14" stroke="#a3a3a3" stroke-width="0.90"/>
<line x1="63.10" y1="396.92" x2="66.90" y2="396.92" stroke="#a3a3a3" stroke-width="0.90"/>
<line x1="60.90" y1="394.70" x2="66.90" y2="394.70" stroke="#a3a3a3" stroke-width="0.90"/>
<line x1="63.10" y1="392.48" x2="66.90" y2="392.48" stroke="#a3a3a3" stroke-width="0.90"/>
<line x1="63.10" y1="390.26" x2="66.90" y2="390.26" stroke="#a3a3a3" stroke-width="0.90"/>
<line x1="63.10" y1="388.04" x2="66.90" y2="388.04" stroke="#a3a3a3" stroke-width="0.90"/>
<line x1="63.10" y1="385.82" x2="66.90" y2="385.82" stroke="#a3a3a3" stroke-width="0.90"/>
<line x1="57.40" y1="383.60" x2="66.90" y2="383.60" stroke="#a3a3a3" stroke-width="0.90"/>
<line x1="63.10" y1="381.38" x2="66.90" y2="381.38" stroke="#a3a3a3" stroke-width="0.90"/>
<line x1="63.10" y1="379.16" x2="66.90" y2="379.16" stroke="#a3a3a3" stroke-width="0.90"/>
<line x1="63.10" y1="376.94" x2="66.90" y2="376.94" stroke="#a3a3a3" stroke-width="0.90"/>
<line x1="63.10" y1="374.72" x2="66.90" y2="374.72" stroke="#a3a3a3" stroke-width="0.90"/>
<line x1="60.90" y1="372.50" x2="66.90" y2="372.50" stroke="#a3a3a3" stroke-width="0.90"/>
<line x1="63.10" y1="370.28" x2="66.90" y2="370.28" stroke="#a3a3a3" stroke-width="0.90"/>
<line x1="63.10" y1="368.06" x2="66.90" y2="368.06" stroke="#a3a3a3" stroke-width="0.90"/>
<line x1="63.10" y1="365.84" x2="66.90" y2="365.84" stroke="#a3a3a3" stroke-width="0.90"/>
<line x1="63.10" y1="363.62" x2="66.90" y2="363.62" stroke="#a3a3a3" stroke-width="0.90"/>
<line x1="57.40" y1="361.40" x2="66.90" y2="361.40" stroke="#a3a3a3" stroke-width="0.90"/>
<line x1="63.10" y1="359.18" x2="66.90" y2="359.18" stroke="#a3a3a3" stroke-width="0.90"/>
<line x1="63.10" y1="356.96" x2="66.90" y2="356.96" stroke="#a3a3a3" stroke-width="0.90"/>
<line x1="63.10" y1="354.74" x2="66.90" y2="354.74" stroke="#a3a3a3" stroke-width="0.90"/>
<line x1="63.10" y1="352.52" x2="66.90" y2="352.52" stroke="#a3a3a3" stroke-width="0.90"/>
<line x1="60.90" y1="350.30" x2="66.90" y2="350.30" stroke="#a3a3a3" stroke-width="0.90"/>
<line x1="63.10" y1="348.08" x2="66.90" y2="348.08" stroke="#a3a3a3" stroke-width="0.90"/>
<line x1="63.10" y1="345.86" x2="66.90" y2="345.86" stroke="#a3a3a3" stroke-width="0.90"/>
<line x1="63.10" y1="343.64" x2="66.90" y2="343.64" stroke="#a3a3a3" stroke-width="0.90"/>
<line x1="63.10" y1="341.42" x2="66.90" y2="341.42" stroke="#a3a3a3" stroke-width="0.90"/>
<line x1="57.40" y1="339.20" x2="66.90" y2="339.20" stroke="#a3a3a3" stroke-width="0.90"/>
<line x1="63.10" y1="336.98" x2="66.90" y2="336.98" stroke="#a3a3a3" stroke-width="0.90"/>
<line x1="63.10" y1="334.76" x2="66.90" y2="334.76" stroke="#a3a3a3" stroke-width="0.90"/>
<line x1="63.10" y1="332.54" x2="66.90" y2="332.54" stroke="#a3a3a3" stroke-width="0.90"/>
<line x1="63.10" y1="330.32" x2="66.90" y2="330.32" stroke="#a3a3a3" stroke-width="0.90"/>
<line x1="60.90" y1="328.10" x2="66.90" y2="328.10" stroke="#a3a3a3" stroke-width="0.90"/>
<line x1="63.10" y1="325.88" x2="66.90" y2="325.88" stroke="#a3a3a3" stroke-width="0.90"/>
<line x1="63.10" y1="323.66" x2="66.90" y2="323.66" stroke="#a3a3a3" stroke-width="0.90"/>
<line x1="63.10" y1="321.44" x2="66.90" y2="321.44" stroke="#a3a3a3" stroke-width="0.90"/>
<line x1="63.10" y1="319.22" x2="66.90" y2="319.22" stroke="#a3a3a3" stroke-width="0.90"/>
<line x1="57.40" y1="317.00" x2="66.90" y2="317.00" stroke="#a3a3a3" stroke-width="0.90"/>
<line x1="63.10" y1="314.78" x2="66.90" y2="314.78" stroke="#a3a3a3" stroke-width="0.90"/>
<line x1="63.10" y1="312.56" x2="66.90" y2="312.56" stroke="#a3a3a3" stroke-width="0.90"/>
<line x1="63.10" y1="310.34" x2="66.90" y2="310.34" stroke="#a3a3a3" stroke-width="0.90"/>
<line x1="63.10" y1="308.12" x2="66.90" y2="308.12" stroke="#a3a3a3" stroke-width="0.90"/>
<line x1="60.90" y1="305.90" x2="66.90" y2="305.90" stroke="#a3a3a3" stroke-width="0.90"/>
<line x1="63.10" y1="303.68" x2="66.90" y2="303.68" stroke="#a3a3a3" stroke-width="0.90"/>
<line x1="63.10" y1="301.46" x2="66.90" y2="301.46" stroke="#a3a3a3" stroke-width="0.90"/>
<line x1="63.10" y1="299.24" x2="66.90" y2="299.24" stroke="#a3a3a3" stroke-width="0.90"/>
<line x1="63.10" y1="297.02" x2="66.90" y2="297.02" stroke="#a3a3a3" stroke-width="0.90"/>
<line x1="57.40" y1="294.80" x2="66.90" y2="294.80" stroke="#a3a3a3" stroke-width="0.90"/>
<line x1="63.10" y1="292.58" x2="66.90" y2="292.58" stroke="#a3a3a3" stroke-width="0.90"/>
<line x1="63.10" y1="290.36" x2="66.90" y2="290.36" stroke="#a3a3a3" stroke-width="0.90"/>
<line x1="63.10" y1="288.14" x2="66.90" y2="288.14" stroke="#a3a3a3" stroke-width="0.90"/>
<line x1="63.10" y1="285.92" x2="66.90" y2="285.92" stroke="#a3a3a3" stroke-width="0.90"/>
<line x1="60.90" y1="283.70" x2="66.90" y2="283.70" stroke="#a3a3a3" stroke-width="0.90"/>
<line x1="66.90" y1="458.30" x2="544.85" y2="458.30" stroke="#7a7a7a" stroke-width="1.00"/>
<line x1="66.90" y1="458.30" x2="66.90" y2="465.80" stroke="#a3a3a3" stroke-width="0.90"/>
<line x1="71.25" y1="458.30" x2="71.25" y2="461.30" stroke="#a3a3a3" stroke-width="0.90"/>
<line x1="75.59" y1="458.30" x2="75.59" y2="461.30" stroke="#a3a3a3" stroke-width="0.90"/>
<line x1="79.94" y1="458.30" x2="79.94" y2="461.30" stroke="#a3a3a3" stroke-width="0.90"/>
<line x1="84.28" y1="458.30" x2="84.28" y2="461.30" stroke="#a3a3a3" stroke-width="0.90"/>
<line x1="88.62" y1="458.30" x2="88.62" y2="463.30" stroke="#a3a3a3" stroke-width="0.90"/>
<line x1="92.97" y1="458.30" x2="92.97" y2="461.30" stroke="#a3a3a3" stroke-width="0.90"/>
<line x1="97.31" y1="458.30" x2="97.31" y2="461.30" stroke="#a3a3a3" stroke-width="0.90"/>
<line x1="101.66" y1="458.30" x2="101.66" y2="461.30" stroke="#a3a3a3" stroke-width="0.90"/>
<line x1="106.00" y1="458.30" x2="106.00" y2="461.30" stroke="#a3a3a3" stroke-width="0.90"/>
<line x1="110.35" y1="458.30" x2="110.35" y2="465.80" stroke="#a3a3a3" stroke-width="0.90"/>
<line x1="114.69" y1="458.30" x2="114.69" y2="461.30" stroke="#a3a3a3" stroke-width="0.90"/>
<line x1="119.04" y1="458.30" x2="119.04" y2="461.30" stroke="#a3a3a3" stroke-width="0.90"/>
<line x1="123.39" y1="458.30" x2="123.39" y2="461.30" stroke="#a3a3a3" stroke-width="0.90"/>
<line x1="127.73" y1="458.30" x2="127.73" y2="461.30" stroke="#a3a3a3" stroke-width="0.90"/>
<line x1="132.07" y1="458.30" x2="132.07" y2="463.30" stroke="#a3a3a3" stroke-width="0.90"/>
<line x1="136.42" y1="458.30" x2="136.42" y2="461.30" stroke="#a3a3a3" stroke-width="0.90"/>
<line x1="140.76" y1="458.30" x2="140.76" y2="461.30" stroke="#a3a3a3" stroke-width="0.90"/>
<line x1="145.11" y1="458.30" x2="145.11" y2="461.30" stroke="#a3a3a3" stroke-width="0.90"/>
<line x1="149.45" y1="458.30" x2="149.45" y2="461.30" stroke="#a3a3a3" stroke-width="0.90"/>
<line x1="153.80" y1="458.30" x2="153.80" y2="465.80" stroke="#a3a3a3" stroke-width="0.90"/>
<line x1="158.14" y1="458.30" x2="158.14" y2="461.30" stroke="#a3a3a3" stroke-width="0.90"/>
<line x1="162.49" y1="458.30" x2="162.49" y2="461.30" stroke="#a3a3a3" stroke-width="0.90"/>
<line x1="166.83" y1="458.30" x2="166.83" y2="461.30" stroke="#a3a3a3" stroke-width="0.90"/>
<line x1="171.18" y1="458.30" x2="171.18" y2="461.30" stroke="#a3a3a3" stroke-width="0.90"/>
<line x1="175.53" y1="458.30" x2="175.53" y2="463.30" stroke="#a3a3a3" stroke-width="0.90"/>
<line x1="179.87" y1="458.30" x2="179.87" y2="461.30" stroke="#a3a3a3" stroke-width="0.90"/>
<line x1="184.22" y1="458.30" x2="184.22" y2="461.30" stroke="#a3a3a3" stroke-width="0.90"/>
<line x1="188.56" y1="458.30" x2="188.56" y2="461.30" stroke="#a3a3a3" stroke-width="0.90"/>
<line x1="192.91" y1="458.30" x2="192.91" y2="461.30" stroke="#a3a3a3" stroke-width="0.90"/>
<line x1="197.25" y1="458.30" x2="197.25" y2="465.80" stroke="#a3a3a3" stroke-width="0.90"/>
<line x1="201.59" y1="458.30" x2="201.59" y2="461.30" stroke="#a3a3a3" stroke-width="0.90"/>
<line x1="205.94" y1="458.30" x2="205.94" y2="461.30" stroke="#a3a3a3" stroke-width="0.90"/>
<line x1="210.28" y1="458.30" x2="210.28" y2="461.30" stroke="#a3a3a3" stroke-width="0.90"/>
<line x1="214.63" y1="458.30" x2="214.63" y2="461.30" stroke="#a3a3a3" stroke-width="0.90"/>
<line x1="218.97" y1="458.30" x2="218.97" y2="463.30" stroke="#a3a3a3" stroke-width="0.90"/>
<line x1="223.32" y1="458.30" x2="223.32" y2="461.30" stroke="#a3a3a3" stroke-width="0.90"/>
<line x1="227.66" y1="458.30" x2="227.66" y2="461.30" stroke="#a3a3a3" stroke-width="0.90"/>
<line x1="232.01" y1="458.30" x2="232.01" y2="461.30" stroke="#a3a3a3" stroke-width="0.90"/>
<line x1="236.35" y1="458.30" x2="236.35" y2="461.30" stroke="#a3a3a3" stroke-width="0.90"/>
<line x1="240.70" y1="458.30" x2="240.70" y2="465.80" stroke="#a3a3a3" stroke-width="0.90"/>
<line x1="245.04" y1="458.30" x2="245.04" y2="461.30" stroke="#a3a3a3" stroke-width="0.90"/>
<line x1="249.39" y1="458.30" x2="249.39" y2="461.30" stroke="#a3a3a3" stroke-width="0.90"/>
<line x1="253.73" y1="458.30" x2="253.73" y2="461.30" stroke="#a3a3a3" stroke-width="0.90"/>
<line x1="258.08" y1="458.30" x2="258.08" y2="461.30" stroke="#a3a3a3" stroke-width="0.90"/>
<line x1="262.42" y1="458.30" x2="262.42" y2="463.30" stroke="#a3a3a3" stroke-width="0.90"/>
<line x1="266.77" y1="458.30" x2="266.77" y2="461.30" stroke="#a3a3a3" stroke-width="0.90"/>
<line x1="271.12" y1="458.30" x2="271.12" y2="461.30" stroke="#a3a3a3" stroke-width="0.90"/>
<line x1="275.46" y1="458.30" x2="275.46" y2="461.30" stroke="#a3a3a3" stroke-width="0.90"/>
<line x1="279.81" y1="458.30" x2="279.81" y2="461.30" stroke="#a3a3a3" stroke-width="0.90"/>
<line x1="284.15" y1="458.30" x2="284.15" y2="465.80" stroke="#a3a3a3" stroke-width="0.90"/>
<line x1="288.50" y1="458.30" x2="288.50" y2="461.30" stroke="#a3a3a3" stroke-width="0.90"/>
<line x1="292.84" y1="458.30" x2="292.84" y2="461.30" stroke="#a3a3a3" stroke-width="0.90"/>
<line x1="297.19" y1="458.30" x2="297.19" y2="461.30" stroke="#a3a3a3" stroke-width="0.90"/>
<line x1="301.53" y1="458.30" x2="301.53" y2="461.30" stroke="#a3a3a3" stroke-width="0.90"/>
<line x1="305.88" y1="458.30" x2="305.88" y2="463.30" stroke="#a3a3a3" stroke-width="0.90"/>
<line x1="310.22" y1="458.30" x2="310.22" y2="461.30" stroke="#a3a3a3" stroke-width="0.90"/>
<line x1="314.56" y1="458.30" x2="314.56" y2="461.30" stroke="#a3a3a3" stroke-width="0.90"/>
<line x1="318.91" y1="458.30" x2="318.91" y2="461.30" stroke="#a3a3a3" stroke-width="0.90"/>
<line x1="323.25" y1="458.30" x2="323.25" y2="461.30" stroke="#a3a3a3" stroke-width="0.90"/>
<line x1="327.60" y1="458.30" x2="327.60" y2="465.80" stroke="#a3a3a3" stroke-width="0.90"/>
<line x1="331.94" y1="458.30" x2="331.94" y2="461.30" stroke="#a3a3a3" stroke-width="0.90"/>
<line x1="336.29" y1="458.30" x2="336.29" y2="461.30" stroke="#a3a3a3" stroke-width="0.90"/>
<line x1="340.63" y1="458.30" x2="340.63" y2="461.30" stroke="#a3a3a3" stroke-width="0.90"/>
<line x1="344.98" y1="458.30" x2="344.98" y2="461.30" stroke="#a3a3a3" stroke-width="0.90"/>
<line x1="349.33" y1="458.30" x2="349.33" y2="463.30" stroke="#a3a3a3" stroke-width="0.90"/>
<line x1="353.67" y1="458.30" x2="353.67" y2="461.30" stroke="#a3a3a3" stroke-width="0.90"/>
<line x1="358.01" y1="458.30" x2="358.01" y2="461.30" stroke="#a3a3a3" stroke-width="0.90"/>
<line x1="362.36" y1="458.30" x2="362.36" y2="461.30" stroke="#a3a3a3" stroke-width="0.90"/>
<line x1="366.71" y1="458.30" x2="366.71" y2="461.30" stroke="#a3a3a3" stroke-width="0.90"/>
<line x1="371.05" y1="458.30" x2="371.05" y2="465.80" stroke="#a3a3a3" stroke-width="0.90"/>
<line x1="375.39" y1="458.30" x2="375.39" y2="461.30" stroke="#a3a3a3" stroke-width="0.90"/>
<line x1="379.74" y1="458.30" x2="379.74" y2="461.30" stroke="#a3a3a3" stroke-width="0.90"/>
<line x1="384.09" y1="458.30" x2="384.09" y2="461.30" stroke="#a3a3a3" stroke-width="0.90"/>
<line x1="388.43" y1="458.30" x2="388.43" y2="461.30" stroke="#a3a3a3" stroke-width="0.90"/>
<line x1="392.77" y1="458.30" x2="392.77" y2="463.30" stroke="#a3a3a3" stroke-width="0.90"/>
<line x1="397.12" y1="458.30" x2="397.12" y2="461.30" stroke="#a3a3a3" stroke-width="0.90"/>
<line x1="401.47" y1="458.30" x2="401.47" y2="461.30" stroke="#a3a3a3" stroke-width="0.90"/>
<line x1="405.81" y1="458.30" x2="405.81" y2="461.30" stroke="#a3a3a3" stroke-width="0.90"/>
<line x1="410.15" y1="458.30" x2="410.15" y2="461.30" stroke="#a3a3a3" stroke-width="0.90"/>
<line x1="414.50" y1="458.30" x2="414.50" y2="465.80" stroke="#a3a3a3" stroke-width="0.90"/>
<line x1="418.85" y1="458.30" x2="418.85" y2="461.30" stroke="#a3a3a3" stroke-width="0.90"/>
<line x1="423.19" y1="458.30" x2="423.19" y2="461.30" stroke="#a3a3a3" stroke-width="0.90"/>
<line x1="427.53" y1="458.30" x2="427.53" y2="461.30" stroke="#a3a3a3" stroke-width="0.90"/>
<line x1="431.88" y1="458.30" x2="431.88" y2="461.30" stroke="#a3a3a3" stroke-width="0.90"/>
<line x1="436.23" y1="458.30" x2="436.23" y2="463.30" stroke="#a3a3a3" stroke-width="0.90"/>
<line x1="440.57" y1="458.30" x2="440.57" y2="461.30" stroke="#a3a3a3" stroke-width="0.90"/>
<line x1="444.91" y1="458.30" x2="444.91" y2="461.30" stroke="#a3a3a3" stroke-width="0.90"/>
<line x1="449.26" y1="458.30" x2="449.26" y2="461.30" stroke="#a3a3a3" stroke-width="0.90"/>
<line x1="453.61" y1="458.30" x2="453.61" y2="461.30" stroke="#a3a3a3" stroke-width="0.90"/>
<line x1="457.95" y1="458.30" x2="457.95" y2="465.80" stroke="#a3a3a3" stroke-width="0.90"/>
<line x1="462.29" y1="458.30" x2="462.29" y2="461.30" stroke="#a3a3a3" stroke-width="0.90"/>
<line x1="466.64" y1="458.30" x2="466.64" y2="461.30" stroke="#a3a3a3" stroke-width="0.90"/>
<line x1="470.99" y1="458.30" x2="470.99" y2="461.30" stroke="#a3a3a3" stroke-width="0.90"/>
<line x1="475.33" y1="458.30" x2="475.33" y2="461.30" stroke="#a3a3a3" stroke-width="0.90"/>
<line x1="479.67" y1="458.30" x2="479.67" y2="463.30" stroke="#a3a3a3" stroke-width="0.90"/>
<line x1="484.02" y1="458.30" x2="484.02" y2="461.30" stroke="#a3a3a3" stroke-width="0.90"/>
<line x1="488.37" y1="458.30" x2="488.37" y2="461.30" stroke="#a3a3a3" stroke-width="0.90"/>
<line x1="492.71" y1="458.30" x2="492.71" y2="461.30" stroke="#a3a3a3" stroke-width="0.90"/>
<line x1="497.05" y1="458.30" x2="497.05" y2="461.30" stroke="#a3a3a3" stroke-width="0.90"/>
<line x1="501.40" y1="458.30" x2="501.40" y2="465.80" stroke="#a3a3a3" stroke-width="0.90"/>
<line x1="505.75" y1="458.30" x2="505.75" y2="461.30" stroke="#a3a3a3" stroke-width="0.90"/>
<line x1="510.09" y1="458.30" x2="510.09" y2="461.30" stroke="#a3a3a3" stroke-width="0.90"/>
<line x1="514.43" y1="458.30" x2="514.43" y2="461.30" stroke="#a3a3a3" stroke-width="0.90"/>
<line x1="518.78" y1="458.30" x2="518.78" y2="461.30" stroke="#a3a3a3" stroke-width="0.90"/>
<line x1="523.12" y1="458.30" x2="523.12" y2="463.30" stroke="#a3a3a3" stroke-width="0.90"/>
<line x1="527.47" y1="458.30" x2="527.47" y2="461.30" stroke="#a3a3a3" stroke-width="0.90"/>
<line x1="531.81" y1="458.30" x2="531.81" y2="461.30" stroke="#a3a3a3" stroke-width="0.90"/>
<line x1="536.16" y1="458.30" x2="536.16" y2="461.30" stroke="#a3a3a3" stroke-width="0.90"/>
<line x1="540.50" y1="458.30" x2="540.50" y2="461.30" stroke="#a3a3a3" stroke-width="0.90"/>
<line x1="544.85" y1="458.30" x2="544.85" y2="465.80" stroke="#a3a3a3" stroke-width="0.90"/>
<text x="51.30" y="453.50" font-family='"Liberation Mono", monospace' font-size="10.00" font-weight="bold" text-anchor="end" fill="#111" textLength="18.00" lengthAdjust="spacingAndGlyphs" >0.0</text>
<text x="51.30" y="431.30" font-family='"Liberation Mono", monospace' font-size="10.00" font-weight="bold" text-anchor="end" fill="#111" textLength="18.00" lengthAdjust="spacingAndGlyphs" >0.2</text>
<text x="51.30" y="409.10" font-family='"Liberation Mono", monospace' font-size="10.00" font-weight="bold" text-anchor="end" fill="#111" textLength="18.00" lengthAdjust="spacingAndGlyphs" >0.4</text>
<text x="51.30" y="386.90" font-family='"Liberation Mono", monospace' font-size="10.00" font-weight="bold" text-anchor="end" fill="#111" textLength="18.00" lengthAdjust="spacingAndGlyphs" >0.6</text>
<text x="51.30" y="364.70" font-family='"Liberation Mono", monospace' font-size="10.00" font-weight="bold" text-anchor="end" fill="#111" textLength="18.00" lengthAdjust="spacingAndGlyphs" >0.8</text>
<text x="51.30" y="342.50" font-family='"Liberation Mono", monospace' font-size="10.00" font-weight="bold" text-anchor="end" fill="#111" textLength="18.00" lengthAdjust="spacingAndGlyphs" >1.0</text>
<text x="51.30" y="320.30" font-family='"Liberation Mono", monospace' font-size="10.00" font-weight="bold" text-anchor="end" fill="#111" textLength="18.00" lengthAdjust="spacingAndGlyphs" >1.2</text>
<text x="51.30" y="298.10" font-family='"Liberation Mono", monospace' font-size="10.00" font-weight="bold" text-anchor="end" fill="#111" textLength="18.00" lengthAdjust="spacingAndGlyphs" >1.4</text>
<text x="69.70" y="475.30" font-family='"Liberation Mono", monospace' font-size="10.00" font-weight="bold" text-anchor="middle" fill="#111" textLength="5.00" lengthAdjust="spacingAndGlyphs" >0</text>
<text x="110.35" y="475.30" font-family='"Liberation Mono", monospace' font-size="10.00" font-weight="bold" text-anchor="middle" fill="#111" textLength="11.60" lengthAdjust="spacingAndGlyphs" >10</text>
<text x="153.80" y="475.30" font-family='"Liberation Mono", monospace' font-size="10.00" font-weight="bold" text-anchor="middle" fill="#111" textLength="11.60" lengthAdjust="spacingAndGlyphs" >20</text>
<text x="197.25" y="475.30" font-family='"Liberation Mono", monospace' font-size="10.00" font-weight="bold" text-anchor="middle" fill="#111" textLength="11.60" lengthAdjust="spacingAndGlyphs" >30</text>
<text x="240.70" y="475.30" font-family='"Liberation Mono", monospace' font-size="10.00" font-weight="bold" text-anchor="middle" fill="#111" textLength="11.60" lengthAdjust="spacingAndGlyphs" >40</text>
<text x="284.15" y="475.30" font-family='"Liberation Mono", monospace' font-size="10.00" font-weight="bold" text-anchor="middle" fill="#111" textLength="11.60" lengthAdjust="spacingAndGlyphs" >50</text>
<text x="327.60" y="475.30" font-family='"Liberation Mono", monospace' font-size="10.00" font-weight="bold" text-anchor="middle" fill="#111" textLength="11.60" lengthAdjust="spacingAndGlyphs" >60</text>
<text x="371.05" y="475.30" font-family='"Liberation Mono", monospace' font-size="10.00" font-weight="bold" text-anchor="middle" fill="#111" textLength="11.60" lengthAdjust="spacingAndGlyphs" >70</text>
<text x="414.50" y="475.30" font-family='"Liberation Mono", monospace' font-size="10.00" font-weight="bold" text-anchor="middle" fill="#111" textLength="11.60" lengthAdjust="spacingAndGlyphs" >80</text>
<text x="457.95" y="475.30" font-family='"Liberation Mono", monospace' font-size="10.00" font-weight="bold" text-anchor="middle" fill="#111" textLength="11.60" lengthAdjust="spacingAndGlyphs" >90</text>
<text x="501.40" y="475.30" font-family='"Liberation Mono", monospace' font-size="10.00" font-weight="bold" text-anchor="middle" fill="#111" textLength="18.20" lengthAdjust="spacingAndGlyphs" >100</text>
<text x="536.40" y="475.30" font-family='"Liberation Mono", monospace' font-size="10.00" font-weight="bold" text-anchor="middle" fill="#111" textLength="18.20" lengthAdjust="spacingAndGlyphs" >110</text>
<text x="305.30" y="490.90" font-family='"Liberation Mono", monospace' font-size="9.40" font-weight="bold" text-anchor="middle" fill="#111" textLength="121.50" lengthAdjust="spacingAndGlyphs" >Retention Time (min)</text>
<text transform="translate(18.3,385.5) rotate(-90)" x="0" y="0" font-family='"Liberation Serif", serif' font-size="14" text-anchor="middle" fill="#111" textLength="81" lengthAdjust="spacingAndGlyphs">Intensity (AU)</text>
<text x="109.10" y="320.90" font-family='"Liberation Sans", sans-serif' font-size="16.00" font-weight="normal" text-anchor="start" fill="#111" textLength="43.50" lengthAdjust="spacingAndGlyphs" stroke="#111" stroke-width="0.6">EtOH-E</text>
<path d="M66.90 450.20 L80.00 450.20 L80.80 448.50 L81.30 445.00 L81.90 433.00 L82.40 419.50 L82.80 400.00 L83.10 383.00 L83.40 360.00 L83.70 335.00 L84.00 310.00 L84.30 294.00 L84.50 290.50 L84.80 295.00 L85.30 312.00 L86.00 335.00 L86.70 355.00 L87.30 365.00 L88.20 374.00 L89.10 383.20 L90.30 392.00 L91.50 401.40 L92.40 410.00 L93.30 419.50 L94.30 426.00 L95.50 430.50 L97.20 434.80 L99.10 437.70 L101.50 440.20 L104.50 442.30 L108.50 443.80 L113.60 445.00 L119.00 445.50 L124.50 445.90 L130.00 446.60 L135.50 447.20 L138.00 447.30 L138.25 447.18 L138.50 447.05 L138.75 446.93 L139.00 446.80 L139.25 446.68 L139.50 446.55 L139.75 446.43 L140.00 446.30 L140.25 446.18 L140.50 446.05 L140.75 445.93 L141.00 445.80 L141.25 445.61 L141.50 445.43 L141.75 445.24 L142.00 445.05 L142.25 444.86 L142.50 444.68 L142.75 444.49 L143.00 444.30 L143.25 444.11 L143.50 443.92 L143.75 443.74 L144.00 443.55 L144.25 443.34 L144.50 443.02 L144.75 442.71 L145.00 442.39 L145.25 442.08 L145.50 441.76 L145.75 441.45 L146.00 441.14 L146.25 440.82 L146.50 440.51 L146.75 440.19 L147.00 439.88 L147.25 439.56 L147.50 439.34 L147.75 439.13 L148.00 438.93 L148.25 438.72 L148.50 438.51 L148.75 438.31 L149.00 438.10 L149.25 437.90 L149.50 437.69 L149.75 437.49 L150.00 437.28 L150.25 436.71 L150.50 435.89 L150.75 435.08 L151.00 434.26 L151.25 433.45 L151.50 432.63 L151.75 431.82 L152.00 431.00 L152.25 430.47 L152.50 429.94 L152.75 429.41 L153.00 428.88 L153.25 428.34 L153.50 427.81 L153.75 427.82 L154.00 428.18 L154.25 428.54 L154.50 428.90 L154.75 429.26 L155.00 429.62 L155.25 429.98 L155.50 430.28 L155.75 430.48 L156.00 430.68 L156.25 430.88 L156.50 431.08 L156.75 431.28 L157.00 431.48 L157.25 431.68 L157.50 431.83 L157.75 431.92 L158.00 432.00 L158.25 432.08 L158.50 432.15 L158.75 432.19 L159.00 432.11 L159.25 431.74 L159.50 430.69 L159.75 428.20 L160.00 423.60 L160.25 416.33 L160.50 406.62 L160.75 396.01 L161.00 387.19 L161.25 382.94 L161.50 384.73 L161.75 391.92 L162.00 402.07 L162.25 412.29 L162.50 420.53 L162.75 426.06 L163.00 429.25 L163.25 430.89 L163.50 431.63 L163.75 431.95 L164.00 432.11 L164.25 432.20 L164.50 432.29 L164.75 432.36 L165.00 432.44 L165.25 432.53 L165.50 432.71 L165.75 432.88 L166.00 433.06 L166.25 433.23 L166.50 433.40 L166.75 433.58 L167.00 433.75 L167.25 433.93 L167.50 434.10 L167.75 433.84 L168.00 433.58 L168.25 433.26 L168.50 432.80 L168.75 431.98 L169.00 430.40 L169.25 427.74 L169.50 423.24 L169.75 416.43 L170.00 407.93 L170.25 399.49 L170.50 393.58 L170.75 392.26 L171.00 396.09 L171.25 403.80 L171.50 413.04 L171.75 421.51 L172.00 427.91 L172.25 432.03 L172.50 434.36 L172.75 435.57 L173.00 436.21 L173.25 436.52 L173.50 436.73 L173.75 436.92 L174.00 437.10 L174.25 437.27 L174.50 437.44 L174.75 437.62 L175.00 437.79 L175.25 437.97 L175.50 438.06 L175.75 438.15 L176.00 438.23 L176.25 438.31 L176.50 438.39 L176.75 438.47 L177.00 438.55 L177.25 438.63 L177.50 438.71 L177.75 438.79 L178.00 438.87 L178.25 438.95 L178.50 439.04 L178.75 439.12 L179.00 439.23 L179.25 439.34 L179.50 439.44 L179.75 439.55 L180.00 439.66 L180.25 439.76 L180.50 439.87 L180.75 439.98 L181.00 440.09 L181.25 440.19 L181.50 440.30 L181.75 440.38 L182.00 440.47 L182.25 440.55 L182.50 440.63 L182.75 440.72 L183.00 440.80 L183.25 440.86 L183.50 440.88 L183.75 440.74 L184.00 440.23 L184.25 439.03 L184.50 436.85 L184.75 433.76 L185.00 430.50 L185.25 428.28 L185.50 428.12 L185.75 430.13 L186.00 433.43 L186.25 436.77 L186.50 439.30 L186.75 440.82 L187.00 441.58 L187.25 441.93 L187.50 442.08 L187.75 442.17 L188.00 442.21 L188.25 442.22 L188.50 442.17 L188.75 442.01 L189.00 441.69 L189.25 441.15 L189.50 440.38 L189.75 439.43 L190.00 438.44 L190.25 437.64 L190.50 437.22 L190.75 437.33 L191.00 437.94 L191.25 438.90 L191.50 439.99 L191.75 441.01 L192.00 441.82 L192.25 442.36 L192.50 442.63 L192.75 442.63 L193.00 442.37 L193.25 441.92 L193.50 441.36 L193.75 440.86 L194.00 440.60 L194.25 440.71 L194.50 441.15 L194.75 441.81 L195.00 442.51 L195.25 443.11 L195.50 443.54 L195.75 443.82 L196.00 444.00 L196.25 444.11 L196.50 444.19 L196.75 444.26 L197.00 444.32 L197.25 444.39 L197.50 444.45 L197.75 444.51 L198.00 444.57 L198.25 444.64 L198.50 444.70 L198.75 444.76 L199.00 444.82 L199.25 444.89 L199.50 444.95 L199.75 445.01 L200.00 445.07 L200.25 445.14 L200.50 445.20 L200.75 445.26 L201.00 445.31 L201.25 445.32 L201.50 445.34 L201.75 445.35 L202.00 445.37 L202.25 445.39 L202.50 445.40 L202.75 445.42 L203.00 445.43 L203.25 445.43 L203.50 445.40 L203.75 445.33 L204.00 445.18 L204.25 444.87 L204.50 444.40 L204.75 443.77 L205.00 443.02 L205.25 442.27 L205.50 441.69 L205.75 441.41 L206.00 441.51 L206.25 441.95 L206.50 442.61 L206.75 443.34 L207.00 443.96 L207.25 444.38 L207.50 444.51 L207.75 444.29 L208.00 443.71 L208.25 442.89 L208.50 442.12 L208.75 441.71 L209.00 441.87 L209.25 442.52 L209.50 443.37 L209.75 444.11 L210.00 444.62 L210.25 444.88 L210.50 444.99 L210.75 445.01 L211.00 444.99 L211.25 444.94 L211.50 444.88 L211.75 444.76 L212.00 444.55 L212.25 444.24 L212.50 443.84 L212.75 443.41 L213.00 443.04 L213.25 442.83 L213.50 442.83 L213.75 443.06 L214.00 443.45 L214.25 443.93 L214.50 444.39 L214.75 444.77 L215.00 445.05 L215.25 445.24 L215.50 445.35 L215.75 445.42 L216.00 445.47 L216.25 445.50 L216.50 445.50 L216.75 445.50 L217.00 445.50 L217.25 445.50 L217.50 445.50 L217.75 445.50 L218.00 445.50 L218.25 445.50 L218.50 445.50 L218.75 445.50 L219.00 445.50 L219.25 445.50 L219.50 445.50 L219.75 445.49 L220.00 445.46 L220.25 445.40 L220.50 445.24 L220.75 444.93 L221.00 444.37 L221.25 443.55 L221.50 442.53 L221.75 441.51 L222.00 440.80 L222.25 440.61 L222.50 441.03 L222.75 441.90 L223.00 442.95 L223.25 443.91 L223.50 444.63 L223.75 445.08 L224.00 445.35 L224.25 445.50 L224.50 445.58 L224.75 445.63 L225.00 445.67 L225.25 445.71 L225.50 445.75 L225.75 445.78 L226.00 445.82 L226.25 445.85 L226.50 445.89 L226.75 445.93 L227.00 445.96 L227.25 446.00 L227.50 446.04 L227.75 446.07 L228.00 446.11 L228.25 446.14 L228.50 446.18 L228.75 446.22 L229.00 446.25 L229.25 446.29 L229.50 446.32 L229.75 446.36 L230.00 446.40 L230.25 446.43 L230.50 446.47 L230.75 446.51 L231.00 446.54 L231.25 446.58 L231.50 446.55 L231.75 446.42 L232.00 446.30 L232.25 446.17 L232.50 446.04 L232.75 445.89 L233.00 445.65 L233.25 445.20 L233.50 444.14 L233.75 441.82 L234.00 436.86 L234.25 427.28 L234.50 411.14 L234.75 387.52 L235.00 357.99 L235.25 327.35 L235.50 302.77 L235.75 291.24 L236.00 296.34 L236.25 316.48 L236.50 345.69 L236.75 376.48 L237.00 402.90 L237.25 422.10 L237.50 434.16 L237.75 440.79 L238.00 444.00 L238.25 445.38 L238.50 445.92 L238.75 446.11 L239.00 446.19 L239.25 446.23 L239.50 446.26 L239.75 446.29 L240.00 446.32 L240.25 446.34 L240.50 446.37 L240.75 446.40 L241.00 446.42 L241.25 446.45 L241.50 446.48 L241.75 446.50 L242.00 446.53 L242.25 446.56 L242.50 446.58 L242.75 446.61 L243.00 446.64 L243.25 446.67 L243.50 446.69 L243.75 446.72 L244.00 446.75 L244.25 446.77 L244.50 446.80 L244.75 446.83 L245.00 446.86 L245.25 446.90 L245.50 446.93 L245.75 446.96 L246.00 446.99 L246.25 447.02 L246.50 447.05 L246.75 447.09 L247.00 447.12 L247.25 447.15 L247.50 447.18 L247.75 447.21 L248.00 447.25 L248.25 447.28 L248.50 447.31 L248.75 447.34 L249.00 447.37 L249.25 447.40 L249.50 447.44 L249.75 447.47 L250.00 447.50 L250.25 447.48 L250.50 447.45 L250.75 447.43 L251.00 447.40 L251.25 447.38 L251.50 447.35 L251.75 447.32 L252.00 447.30 L252.25 447.27 L252.50 447.25 L252.75 447.23 L253.00 447.20 L253.25 447.18 L253.50 447.15 L253.75 447.12 L254.00 447.10 L254.25 447.07 L254.50 447.05 L254.75 447.02 L255.00 447.00 L255.25 446.98 L255.50 446.95 L255.75 446.93 L256.00 446.90 L256.25 446.88 L256.50 446.85 L256.75 446.82 L257.00 446.80 L257.25 446.77 L257.50 446.75 L257.75 446.73 L258.00 446.70 L258.25 446.68 L258.50 446.65 L258.75 446.62 L259.00 446.60 L259.25 446.57 L259.50 446.55 L259.75 446.52 L260.00 446.50 L260.25 446.50 L260.50 446.50 L260.75 446.50 L261.00 446.50 L261.25 446.50 L261.50 446.50 L261.75 446.50 L262.00 446.50 L262.25 446.50 L262.50 446.50 L262.75 446.50 L263.00 446.50 L263.25 446.50 L263.50 446.50 L263.75 446.50 L264.00 446.50 L264.25 446.50 L264.50 446.50 L264.75 446.50 L265.00 446.50 L265.25 446.50 L265.50 446.50 L265.75 446.50 L266.00 446.50 L266.25 446.50 L266.50 446.50 L266.75 446.50 L267.00 446.50 L267.25 446.50 L267.50 446.50 L267.75 446.50 L268.00 446.50 L268.25 446.50 L268.50 446.49 L268.75 446.45 L269.00 446.33 L269.25 446.07 L269.50 445.55 L269.75 444.75 L270.00 443.79 L270.25 442.92 L270.50 442.42 L270.75 442.24 L271.00 441.94 L271.25 440.77 L271.50 438.10 L271.75 433.82 L272.00 428.60 L272.25 423.85 L272.50 421.15 L272.75 421.48 L273.00 424.76 L273.25 429.87 L273.50 435.30 L273.75 439.86 L274.00 443.04 L274.25 444.91 L274.50 445.86 L274.75 446.27 L275.00 446.43 L275.25 446.48 L275.50 446.50 L275.75 446.50 L276.00 446.50 L276.25 446.50 L276.50 446.50 L276.75 446.50 L277.00 446.49 L277.25 446.46 L277.50 446.39 L277.75 446.21 L278.00 445.85 L278.25 445.18 L278.50 444.16 L278.75 442.84 L279.00 441.46 L279.25 440.40 L279.50 440.00 L279.75 440.40 L280.00 441.46 L280.25 442.82 L280.50 444.08 L280.75 444.98 L281.00 445.37 L281.25 445.20 L281.50 444.50 L281.75 443.35 L282.00 441.99 L282.25 440.76 L282.50 440.07 L282.75 440.15 L283.00 440.98 L283.25 442.28 L283.50 443.66 L283.75 444.81 L284.00 445.62 L284.25 446.10 L284.50 446.34 L284.75 446.44 L285.00 446.48 L285.25 446.49 L285.50 446.50 L285.75 446.50 L286.00 446.50 L286.25 446.50 L286.50 446.50 L286.75 446.50 L287.00 446.50 L287.25 446.50 L287.50 446.50 L287.75 446.50 L288.00 446.50 L288.25 446.50 L288.50 446.50 L288.75 446.50 L289.00 446.50 L289.25 446.50 L289.50 446.50 L289.75 446.50 L290.00 446.50 L290.25 446.50 L290.50 446.50 L290.75 446.50 L291.00 446.50 L291.25 446.50 L291.50 446.50 L291.75 446.50 L292.00 446.50 L292.25 446.50 L292.50 446.50 L292.75 446.50 L293.00 446.50 L293.25 446.50 L293.50 446.50 L293.75 446.50 L294.00 446.50 L294.25 446.50 L294.50 446.50 L294.75 446.50 L295.00 446.50 L295.25 446.50 L295.50 446.50 L295.75 446.49 L296.00 446.46 L296.25 446.35 L296.50 446.02 L296.75 445.19 L297.00 443.35 L297.25 439.82 L297.50 434.02 L297.75 425.98 L298.00 416.79 L298.25 408.64 L298.50 404.04 L298.75 404.57 L299.00 410.06 L299.25 418.62 L299.50 427.73 L299.75 435.37 L300.00 440.69 L300.25 443.83 L300.50 445.42 L300.75 446.12 L301.00 446.38 L301.25 446.47 L301.50 446.50 L301.75 446.50 L302.00 446.51 L302.25 446.51 L302.50 446.51 L302.75 446.51 L303.00 446.51 L303.25 446.51 L303.50 446.51 L303.75 446.51 L304.00 446.51 L304.25 446.51 L304.50 446.51 L304.75 446.51 L305.00 446.51 L305.25 446.52 L305.50 446.52 L305.75 446.52 L306.00 446.52 L306.25 446.52 L306.50 446.52 L306.75 446.52 L307.00 446.52 L307.25 446.52 L307.50 446.52 L307.75 446.52 L308.00 446.52 L308.25 446.52 L308.50 446.53 L308.75 446.53 L309.00 446.53 L309.25 446.53 L309.50 446.53 L309.75 446.53 L310.00 446.53 L310.25 446.53 L310.50 446.53 L310.75 446.53 L311.00 446.52 L311.25 446.49 L311.50 446.42 L311.75 446.25 L312.00 445.88 L312.25 445.16 L312.50 443.94 L312.75 442.10 L313.00 439.65 L313.25 436.85 L313.50 434.17 L313.75 432.22 L314.00 431.50 L314.25 432.22 L314.50 434.17 L314.75 436.85 L315.00 439.66 L315.25 442.11 L315.50 443.95 L315.75 445.17 L316.00 445.89 L316.25 446.26 L316.50 446.44 L316.75 446.51 L317.00 446.54 L317.25 446.55 L317.50 446.55 L317.75 446.55 L318.00 446.55 L318.25 446.55 L318.50 446.55 L318.75 446.54 L319.00 446.50 L319.25 446.36 L319.50 446.00 L319.75 445.19 L320.00 443.57 L320.25 440.84 L320.50 436.91 L320.75 432.23 L321.00 427.82 L321.25 425.00 L321.50 424.72 L321.75 427.09 L322.00 431.29 L322.25 436.01 L322.50 440.15 L322.75 443.13 L323.00 444.95 L323.25 445.90 L323.50 446.33 L323.75 446.49 L324.00 446.55 L324.25 446.57 L324.50 446.57 L324.75 446.57 L325.00 446.57 L325.25 446.58 L325.50 446.58 L325.75 446.58 L326.00 446.58 L326.25 446.58 L326.50 446.58 L326.75 446.58 L327.00 446.58 L327.25 446.57 L327.50 446.55 L327.75 446.50 L328.00 446.40 L328.25 446.20 L328.50 445.86 L328.75 445.35 L329.00 444.67 L329.25 443.89 L329.50 443.14 L329.75 442.60 L330.00 442.39 L330.25 442.58 L330.50 443.09 L330.75 443.77 L331.00 444.38 L331.25 444.75 L331.50 444.73 L331.75 444.27 L332.00 443.39 L332.25 442.26 L332.50 441.14 L332.75 440.30 L333.00 440.00 L333.25 440.31 L333.50 441.17 L333.75 442.35 L334.00 443.58 L334.25 444.66 L334.50 445.47 L334.75 446.00 L335.00 446.31 L335.25 446.47 L335.50 446.54 L335.75 446.54 L336.00 446.49 L336.25 446.37 L336.50 446.16 L336.75 445.84 L337.00 445.41 L337.25 444.93 L337.50 444.46 L337.75 444.12 L338.00 444.00 L338.25 444.13 L338.50 444.47 L338.75 444.93 L339.00 445.42 L339.25 445.85 L339.50 446.17 L339.75 446.38 L340.00 446.51 L340.25 446.57 L340.50 446.60 L340.75 446.62 L341.00 446.62 L341.25 446.62 L341.50 446.62 L341.75 446.63 L342.00 446.63 L342.25 446.63 L342.50 446.63 L342.75 446.63 L343.00 446.63 L343.25 446.63 L343.50 446.63 L343.75 446.63 L344.00 446.63 L344.25 446.63 L344.50 446.63 L344.75 446.63 L345.00 446.63 L345.25 446.63 L345.50 446.63 L345.75 446.63 L346.00 446.61 L346.25 446.57 L346.50 446.48 L346.75 446.29 L347.00 445.96 L347.25 445.43 L347.50 444.68 L347.75 443.77 L348.00 442.84 L348.25 442.06 L348.50 441.64 L348.75 441.69 L349.00 442.19 L349.25 443.02 L349.50 443.97 L349.75 444.85 L350.00 445.56 L350.25 446.05 L350.50 446.35 L350.75 446.52 L351.00 446.60 L351.25 446.63 L351.50 446.65 L351.75 446.65 L352.00 446.66 L352.25 446.66 L352.50 446.66 L352.75 446.66 L353.00 446.66 L353.25 446.66 L353.50 446.65 L353.75 446.63 L354.00 446.59 L354.25 446.51 L354.50 446.38 L354.75 446.17 L355.00 445.90 L355.25 445.59 L355.50 445.29 L355.75 445.08 L356.00 445.00 L356.25 445.08 L356.50 445.30 L356.75 445.60 L357.00 445.91 L357.25 446.18 L357.50 446.38 L357.75 446.52 L358.00 446.60 L358.25 446.64 L358.50 446.66 L358.75 446.67 L359.00 446.68 L359.25 446.68 L359.50 446.68 L359.75 446.68 L360.00 446.68 L360.25 446.68 L360.50 446.68 L360.75 446.68 L361.00 446.68 L361.25 446.68 L361.50 446.68 L361.75 446.69 L362.00 446.69 L362.25 446.69 L362.50 446.69 L362.75 446.69 L363.00 446.69 L363.25 446.69 L363.50 446.69 L363.75 446.68 L364.00 446.65 L364.25 446.57 L364.50 446.40 L364.75 446.07 L365.00 445.46 L365.25 444.50 L365.50 443.16 L365.75 441.52 L366.00 439.83 L366.25 438.43 L366.50 437.67 L366.75 437.76 L367.00 438.67 L367.25 440.16 L367.50 441.87 L367.75 443.46 L368.00 444.74 L368.25 445.62 L368.50 446.16 L368.75 446.46 L369.00 446.61 L369.25 446.67 L369.50 446.70 L369.75 446.71 L370.00 446.71 L370.25 446.71 L370.50 446.71 L370.75 446.71 L371.00 446.71 L371.25 446.71 L371.50 446.71 L371.75 446.72 L372.00 446.72 L372.25 446.72 L372.50 446.72 L372.75 446.72 L373.00 446.72 L373.25 446.72 L373.50 446.72 L373.75 446.72 L374.00 446.72 L374.25 446.72 L374.50 446.72 L374.75 446.72 L375.00 446.72 L375.25 446.73 L375.50 446.73 L375.75 446.73 L376.00 446.73 L376.25 446.72 L376.50 446.71 L376.75 446.69 L377.00 446.63 L377.25 446.52 L377.50 446.33 L377.75 446.04 L378.00 445.66 L378.25 445.23 L378.50 444.81 L378.75 444.51 L379.00 444.40 L379.25 444.51 L379.50 444.82 L379.75 445.23 L380.00 445.67 L380.25 446.05 L380.50 446.34 L380.75 446.53 L381.00 446.64 L381.25 446.70 L381.50 446.73 L381.75 446.74 L382.00 446.74 L382.25 446.75 L382.50 446.75 L382.75 446.75 L383.00 446.75 L383.25 446.75 L383.50 446.75 L383.75 446.75 L384.00 446.75 L384.25 446.75 L384.50 446.75 L384.75 446.75 L385.00 446.75 L385.25 446.76 L385.50 446.76 L385.75 446.76 L386.00 446.76 L386.25 446.76 L386.50 446.76 L386.75 446.76 L387.00 446.76 L387.25 446.76 L387.50 446.76 L387.75 446.76 L388.00 446.76 L388.25 446.76 L388.50 446.77 L388.75 446.77 L389.00 446.77 L389.25 446.77 L389.50 446.77 L389.75 446.77 L390.00 446.77 L390.25 446.77 L390.50 446.77 L390.75 446.77 L391.00 446.77 L391.25 446.77 L391.50 446.77 L391.75 446.78 L392.00 446.78 L392.25 446.78 L392.50 446.78 L392.75 446.78 L393.00 446.78 L393.25 446.78 L393.50 446.78 L393.75 446.78 L394.00 446.78 L394.25 446.78 L394.50 446.78 L394.75 446.78 L395.00 446.79 L395.25 446.79 L395.50 446.79 L395.75 446.79 L396.00 446.79 L396.25 446.79 L396.50 446.79 L396.75 446.79 L397.00 446.79 L397.25 446.79 L397.50 446.79 L397.75 446.79 L398.00 446.79 L398.25 446.79 L398.50 446.80 L398.75 446.80 L399.00 446.80 L399.25 446.80 L399.50 446.80 L399.75 446.80 L400.00 446.80 L400.25 446.80 L400.50 446.80 L400.75 446.80 L401.00 446.79 L401.25 446.78 L401.50 446.74 L401.75 446.64 L402.00 446.38 L402.25 445.79 L402.50 444.64 L402.75 442.66 L403.00 439.66 L403.25 435.80 L403.50 431.62 L403.75 428.06 L404.00 426.09 L404.25 426.31 L404.50 428.67 L404.75 432.44 L405.00 436.61 L405.25 440.33 L405.50 443.12 L405.75 444.92 L406.00 445.93 L406.25 446.43 L406.50 446.65 L406.75 446.73 L407.00 446.76 L407.25 446.77 L407.50 446.77 L407.75 446.77 L408.00 446.77 L408.25 446.77 L408.50 446.77 L408.75 446.76 L409.00 446.76 L409.25 446.76 L409.50 446.76 L409.75 446.76 L410.00 446.76 L410.25 446.76 L410.50 446.76 L410.75 446.76 L411.00 446.76 L411.25 446.75 L411.50 446.75 L411.75 446.75 L412.00 446.75 L412.25 446.75 L412.50 446.75 L412.75 446.75 L413.00 446.75 L413.25 446.75 L413.50 446.75 L413.75 446.75 L414.00 446.74 L414.25 446.74 L414.50 446.74 L414.75 446.74 L415.00 446.74 L415.25 446.74 L415.50 446.74 L415.75 446.74 L416.00 446.74 L416.25 446.74 L416.50 446.73 L416.75 446.73 L417.00 446.73 L417.25 446.73 L417.50 446.73 L417.75 446.73 L418.00 446.73 L418.25 446.73 L418.50 446.73 L418.75 446.73 L419.00 446.72 L419.25 446.72 L419.50 446.72 L419.75 446.72 L420.00 446.72 L420.25 446.72 L420.50 446.72 L420.75 446.72 L421.00 446.72 L421.25 446.72 L421.50 446.71 L421.75 446.71 L422.00 446.71 L422.25 446.71 L422.50 446.71 L422.75 446.71 L423.00 446.71 L423.25 446.71 L423.50 446.71 L423.75 446.71 L424.00 446.70 L424.25 446.70 L424.50 446.70 L424.75 446.70 L425.00 446.70 L425.25 446.70 L425.50 446.70 L425.75 446.70 L426.00 446.70 L426.25 446.69 L426.50 446.69 L426.75 446.69 L427.00 446.69 L427.25 446.69 L427.50 446.69 L427.75 446.69 L428.00 446.69 L428.25 446.69 L428.50 446.69 L428.75 446.69 L429.00 446.68 L429.25 446.68 L429.50 446.68 L429.75 446.68 L430.00 446.68 L430.25 446.68 L430.50 446.68 L430.75 446.68 L431.00 446.68 L431.25 446.68 L431.50 446.67 L431.75 446.67 L432.00 446.67 L432.25 446.67 L432.50 446.67 L432.75 446.67 L433.00 446.67 L433.25 446.67 L433.50 446.67 L433.75 446.67 L434.00 446.66 L434.25 446.66 L434.50 446.66 L434.75 446.66 L435.00 446.66 L435.25 446.66 L435.50 446.66 L435.75 446.66 L436.00 446.66 L436.25 446.66 L436.50 446.65 L436.75 446.65 L437.00 446.65 L437.25 446.65 L437.50 446.65 L437.75 446.65 L438.00 446.65 L438.25 446.65 L438.50 446.65 L438.75 446.65 L439.00 446.64 L439.25 446.64 L439.50 446.64 L439.75 446.64 L440.00 446.64 L440.25 446.64 L440.50 446.64 L440.75 446.64 L441.00 446.64 L441.25 446.64 L441.50 446.63 L441.75 446.63 L442.00 446.63 L442.25 446.63 L442.50 446.63 L442.75 446.63 L443.00 446.63 L443.25 446.63 L443.50 446.63 L443.75 446.62 L444.00 446.62 L444.25 446.62 L444.50 446.62 L444.75 446.62 L445.00 446.62 L445.25 446.62 L445.50 446.62 L445.75 446.62 L446.00 446.61 L446.25 446.60 L446.50 446.56 L446.75 446.47 L447.00 446.27 L447.25 445.88 L447.50 445.17 L447.75 444.06 L448.00 442.49 L448.25 440.58 L448.50 438.60 L448.75 436.97 L449.00 436.08 L449.25 436.18 L449.50 437.24 L449.75 438.98 L450.00 440.97 L450.25 442.83 L450.50 444.31 L450.75 445.34 L451.00 445.97 L451.25 446.31 L451.50 446.48 L451.75 446.56 L452.00 446.59 L452.25 446.60 L452.50 446.60 L452.75 446.60 L453.00 446.60 L453.25 446.60 L453.50 446.60 L453.75 446.60 L454.00 446.60 L454.25 446.60 L454.50 446.60 L454.75 446.60 L455.00 446.60 L455.25 446.60 L455.50 446.60 L455.75 446.60 L456.00 446.60 L456.25 446.60 L456.50 446.60 L456.75 446.60 L457.00 446.60 L457.25 446.60 L457.50 446.59 L457.75 446.56 L458.00 446.46 L458.25 446.21 L458.50 445.60 L458.75 444.29 L459.00 441.85 L459.25 437.85 L459.50 432.17 L459.75 425.31 L460.00 418.49 L460.25 413.40 L460.50 411.50 L460.75 413.40 L461.00 418.49 L461.25 425.31 L461.50 432.17 L461.75 437.85 L462.00 441.85 L462.25 444.29 L462.50 445.59 L462.75 446.17 L463.00 446.33 L463.25 446.18 L463.50 445.61 L463.75 444.34 L464.00 441.96 L464.25 438.05 L464.50 432.50 L464.75 425.80 L465.00 419.13 L465.25 414.15 L465.50 412.30 L465.75 414.15 L466.00 419.13 L466.25 425.80 L466.50 432.50 L466.75 438.05 L467.00 441.96 L467.25 444.35 L467.50 445.62 L467.75 446.22 L468.00 446.47 L468.25 446.56 L468.50 446.59 L468.75 446.60 L469.00 446.60 L469.25 446.60 L469.50 446.60 L469.75 446.60 L470.00 446.60 L470.25 446.60 L470.50 446.60 L470.75 446.60 L471.00 446.60 L471.25 446.60 L471.50 446.60 L471.75 446.60 L472.00 446.60 L472.25 446.60 L472.50 446.60 L472.75 446.60 L473.00 446.60 L473.25 446.60 L473.50 446.60 L473.75 446.60 L474.00 446.60 L474.25 446.60 L474.50 446.60 L474.75 446.60 L475.00 446.60 L475.25 446.60 L475.50 446.60 L475.75 446.59 L476.00 446.59 L476.25 446.58 L476.50 446.56 L476.75 446.53 L477.00 446.49 L477.25 446.41 L477.50 446.31 L477.75 446.16 L478.00 445.96 L478.25 445.71 L478.50 445.40 L478.75 445.04 L479.00 444.64 L479.25 444.23 L479.50 443.85 L479.75 443.51 L480.00 443.26 L480.25 443.12 L480.50 443.11 L480.75 443.22 L481.00 443.45 L481.25 443.77 L481.50 444.15 L481.75 444.56 L482.00 444.96 L482.25 445.33 L482.50 445.65 L482.75 445.92 L483.00 446.13 L483.25 446.28 L483.50 446.40 L483.75 446.47 L484.00 446.52 L484.25 446.56 L484.50 446.58 L484.75 446.59 L485.00 446.59 L485.25 446.60 L485.50 446.60 L485.75 446.60 L486.00 446.60 L486.25 446.60 L486.50 446.60 L486.75 446.60 L487.00 446.60 L487.25 446.60 L487.50 446.60 L487.75 446.60 L488.00 446.60 L488.25 446.60 L488.50 446.60 L488.75 446.60 L489.00 446.60 L489.25 446.60 L489.50 446.60 L489.75 446.60 L490.00 446.60 L490.25 446.60 L490.50 446.60 L490.75 446.59 L491.00 446.58 L491.25 446.56 L491.50 446.53 L491.75 446.47 L492.00 446.38 L492.25 446.25 L492.50 446.08 L492.75 445.87 L493.00 445.63 L493.25 445.39 L493.50 445.19 L493.75 445.05 L494.00 445.00 L494.25 445.05 L494.50 445.19 L494.75 445.39 L495.00 445.63 L495.25 445.87 L495.50 446.08 L495.75 446.25 L496.00 446.38 L496.25 446.47 L496.50 446.53 L496.75 446.56 L497.00 446.58 L497.25 446.59 L497.50 446.60 L497.75 446.60 L498.00 446.60 L498.25 446.60 L498.50 446.60 L498.75 446.60 L499.00 446.60 L499.25 446.60 L499.50 446.60 L499.75 446.60 L500.00 446.60 L500.25 446.61 L500.50 446.61 L500.75 446.62 L501.00 446.63 L501.25 446.64 L501.50 446.64 L501.75 446.65 L502.00 446.66 L502.25 446.67 L502.50 446.68 L502.75 446.68 L503.00 446.69 L503.25 446.70 L503.50 446.71 L503.75 446.71 L504.00 446.72 L504.25 446.73 L504.50 446.74 L504.75 446.74 L505.00 446.75 L505.25 446.76 L505.50 446.77 L505.75 446.77 L506.00 446.78 L506.25 446.79 L506.50 446.80 L506.75 446.80 L507.00 446.81 L507.25 446.82 L507.50 446.83 L507.75 446.83 L508.00 446.84 L508.25 446.85 L508.50 446.86 L508.75 446.86 L509.00 446.87 L509.25 446.88 L509.50 446.88 L509.75 446.89 L510.00 446.90 L510.25 446.91 L510.50 446.91 L510.75 446.92 L511.00 446.93 L511.25 446.94 L511.50 446.94 L511.75 446.95 L512.00 446.96 L512.25 446.97 L512.50 446.97 L512.75 446.98 L513.00 446.99 L513.25 447.00 L513.50 447.00 L513.75 447.01 L514.00 447.02 L514.25 447.03 L514.50 447.03 L514.75 447.04 L515.00 447.04 L515.25 447.04 L515.50 447.04 L515.75 447.03 L516.00 447.01 L516.25 446.97 L516.50 446.91 L516.75 446.83 L517.00 446.71 L517.25 446.56 L517.50 446.38 L517.75 446.16 L518.00 445.92 L518.25 445.67 L518.50 445.44 L518.75 445.24 L519.00 445.09 L519.25 445.01 L519.50 445.01 L519.75 445.09 L520.00 445.24 L520.25 445.45 L520.50 445.69 L520.75 445.95 L521.00 446.21 L521.25 446.44 L521.50 446.65 L521.75 446.83 L522.00 446.96 L522.25 447.07 L522.50 447.15 L522.75 447.20 L523.00 447.24 L523.25 447.27 L523.50 447.29 L523.75 447.30 L524.00 447.32 L524.25 447.33 L524.50 447.33 L524.75 447.34 L525.00 447.35 L525.25 447.36 L525.50 447.36 L525.75 447.37 L526.00 447.38 L526.25 447.39 L526.50 447.39 L526.75 447.40 L527.00 447.41 L527.25 447.42 L527.50 447.42 L527.75 447.43 L528.00 447.44 L528.25 447.45 L528.50 447.45 L528.75 447.46 L529.00 447.47 L529.25 447.48 L529.50 447.48 L529.75 447.49 L530.00 447.50 L530.25 447.55 L530.50 447.59 L530.75 447.64 L531.00 447.69 L531.25 447.73 L531.50 447.78 L531.75 447.83 L532.00 447.87 L532.25 447.92 L532.50 447.97 L532.75 448.01 L533.00 448.06 L533.25 448.11 L533.50 448.15 L533.75 448.20 L534.00 448.25 L534.25 448.30 L534.50 448.34 L534.75 448.39 L535.00 448.44 L535.25 448.48 L535.50 448.53 L535.75 448.58 L536.00 448.62 L536.25 448.67 L536.50 448.72 L536.75 448.76 L537.00 448.81 L537.25 448.86 L537.50 448.90 L537.75 448.95 L538.00 449.00 L538.25 449.04 L538.50 449.09 L538.75 449.14 L539.00 449.18 L539.25 449.23 L539.50 449.28 L539.75 449.32 L540.00 449.37 L540.25 449.42 L540.50 449.46 L540.75 449.51 L541.00 449.56 L541.25 449.60 L541.50 449.65 L541.75 449.70 L542.00 449.75 L542.25 449.79 L542.50 449.84 L542.75 449.89 L543.00 449.93 L543.25 449.98 L543.50 450.03 L543.75 450.07 L544.00 450.12 L544.25 450.17 L544.50 450.21 L544.75 450.26 L545.00 450.31 L545.25 450.35 L545.50 450.40" fill="none" stroke="#929292" stroke-width="1.00" stroke-linejoin="round" />
<text x="160.90" y="373.60" font-family='"Liberation Serif", serif' font-size="16.20" font-weight="normal" text-anchor="middle" fill="#111" textLength="4.40" lengthAdjust="spacingAndGlyphs" stroke="#111" stroke-width="0.3">1</text>
<text x="235.90" y="278.20" font-family='"Liberation Serif", serif' font-size="16.20" font-weight="normal" text-anchor="middle" fill="#111" stroke="#111" stroke-width="0.3">2</text>
<text x="265.30" y="403.60" font-family='"Liberation Serif", serif' font-size="16.20" font-weight="normal" text-anchor="middle" fill="#111" stroke="#111" stroke-width="0.3">3</text>
<text x="297.90" y="395.10" font-family='"Liberation Serif", serif' font-size="16.20" font-weight="normal" text-anchor="middle" fill="#111" stroke="#111" stroke-width="0.3">4</text>
<text x="320.60" y="416.00" font-family='"Liberation Serif", serif' font-size="16.20" font-weight="normal" text-anchor="middle" fill="#111" stroke="#111" stroke-width="0.3">5</text>
<text x="333.70" y="418.00" font-family='"Liberation Serif", serif' font-size="16.20" font-weight="normal" text-anchor="middle" fill="#111" textLength="10.80" lengthAdjust="spacingAndGlyphs" stroke="#111" stroke-width="0.3">IS</text>
<text x="346.80" y="417.00" font-family='"Liberation Serif", serif' font-size="16.20" font-weight="normal" text-anchor="middle" fill="#111" stroke="#111" stroke-width="0.3">6</text>
<text x="460.70" y="401.40" font-family='"Liberation Serif", serif' font-size="16.20" font-weight="normal" text-anchor="middle" fill="#111" stroke="#111" stroke-width="0.3">7</text>
<line x1="265.50" y1="407.30" x2="265.50" y2="437.90" stroke="#404040" stroke-width="1.25"/>
<path d="M261.80 430.70 L265.50 438.70 L269.20 430.70" fill="none" stroke="#151515" stroke-width="1.45" stroke-linejoin="miter" stroke-linecap="round"/>
<line x1="333.60" y1="422.00" x2="333.60" y2="434.40" stroke="#404040" stroke-width="1.25"/>
<path d="M330.40 428.70 L333.60 435.20 L336.80 428.70" fill="none" stroke="#151515" stroke-width="1.45" stroke-linejoin="miter" stroke-linecap="round"/>
<line x1="346.60" y1="421.00" x2="346.60" y2="437.60" stroke="#404040" stroke-width="1.25"/>
<path d="M343.20 431.40 L346.60 438.40 L350.00 431.40" fill="none" stroke="#151515" stroke-width="1.45" stroke-linejoin="miter" stroke-linecap="round"/>
<line x1="330.10" y1="267.20" x2="330.10" y2="347.40" stroke="#7a7a7a" stroke-width="0.80"/>
<line x1="330.10" y1="347.40" x2="534.10" y2="347.40" stroke="#7a7a7a" stroke-width="0.80"/>
<line x1="326.90" y1="348.00" x2="330.10" y2="348.00" stroke="#7a7a7a" stroke-width="0.60"/>
<line x1="328.30" y1="346.15" x2="330.10" y2="346.15" stroke="#7a7a7a" stroke-width="0.60"/>
<line x1="328.30" y1="344.30" x2="330.10" y2="344.30" stroke="#7a7a7a" stroke-width="0.60"/>
<line x1="328.30" y1="342.45" x2="330.10" y2="342.45" stroke="#7a7a7a" stroke-width="0.60"/>
<line x1="328.30" y1="340.60" x2="330.10" y2="340.60" stroke="#7a7a7a" stroke-width="0.60"/>
<line x1="326.90" y1="338.75" x2="330.10" y2="338.75" stroke="#7a7a7a" stroke-width="0.60"/>
<line x1="328.30" y1="336.90" x2="330.10" y2="336.90" stroke="#7a7a7a" stroke-width="0.60"/>
<line x1="328.30" y1="335.05" x2="330.10" y2="335.05" stroke="#7a7a7a" stroke-width="0.60"/>
<line x1="328.30" y1="333.20" x2="330.10" y2="333.20" stroke="#7a7a7a" stroke-width="0.60"/>
<line x1="328.30" y1="331.35" x2="330.10" y2="331.35" stroke="#7a7a7a" stroke-width="0.60"/>
<line x1="326.90" y1="329.50" x2="330.10" y2="329.50" stroke="#7a7a7a" stroke-width="0.60"/>
<line x1="328.30" y1="327.65" x2="330.10" y2="327.65" stroke="#7a7a7a" stroke-width="0.60"/>
<line x1="328.30" y1="325.80" x2="330.10" y2="325.80" stroke="#7a7a7a" stroke-width="0.60"/>
<line x1="328.30" y1="323.95" x2="330.10" y2="323.95" stroke="#7a7a7a" stroke-width="0.60"/>
<line x1="328.30" y1="322.10" x2="330.10" y2="322.10" stroke="#7a7a7a" stroke-width="0.60"/>
<line x1="326.90" y1="320.25" x2="330.10" y2="320.25" stroke="#7a7a7a" stroke-width="0.60"/>
<line x1="328.30" y1="318.40" x2="330.10" y2="318.40" stroke="#7a7a7a" stroke-width="0.60"/>
<line x1="328.30" y1="316.55" x2="330.10" y2="316.55" stroke="#7a7a7a" stroke-width="0.60"/>
<line x1="328.30" y1="314.70" x2="330.10" y2="314.70" stroke="#7a7a7a" stroke-width="0.60"/>
<line x1="328.30" y1="312.85" x2="330.10" y2="312.85" stroke="#7a7a7a" stroke-width="0.60"/>
<line x1="326.90" y1="311.00" x2="330.10" y2="311.00" stroke="#7a7a7a" stroke-width="0.60"/>
<line x1="328.30" y1="309.15" x2="330.10" y2="309.15" stroke="#7a7a7a" stroke-width="0.60"/>
<line x1="328.30" y1="307.30" x2="330.10" y2="307.30" stroke="#7a7a7a" stroke-width="0.60"/>
<line x1="328.30" y1="305.45" x2="330.10" y2="305.45" stroke="#7a7a7a" stroke-width="0.60"/>
<line x1="328.30" y1="303.60" x2="330.10" y2="303.60" stroke="#7a7a7a" stroke-width="0.60"/>
<line x1="326.90" y1="301.75" x2="330.10" y2="301.75" stroke="#7a7a7a" stroke-width="0.60"/>
<line x1="328.30" y1="299.90" x2="330.10" y2="299.90" stroke="#7a7a7a" stroke-width="0.60"/>
<line x1="328.30" y1="298.05" x2="330.10" y2="298.05" stroke="#7a7a7a" stroke-width="0.60"/>
<line x1="328.30" y1="296.20" x2="330.10" y2="296.20" stroke="#7a7a7a" stroke-width="0.60"/>
<line x1="328.30" y1="294.35" x2="330.10" y2="294.35" stroke="#7a7a7a" stroke-width="0.60"/>
<line x1="326.90" y1="292.50" x2="330.10" y2="292.50" stroke="#7a7a7a" stroke-width="0.60"/>
<line x1="328.30" y1="290.65" x2="330.10" y2="290.65" stroke="#7a7a7a" stroke-width="0.60"/>
<line x1="328.30" y1="288.80" x2="330.10" y2="288.80" stroke="#7a7a7a" stroke-width="0.60"/>
<line x1="328.30" y1="286.95" x2="330.10" y2="286.95" stroke="#7a7a7a" stroke-width="0.60"/>
<line x1="328.30" y1="285.10" x2="330.10" y2="285.10" stroke="#7a7a7a" stroke-width="0.60"/>
<line x1="326.90" y1="283.25" x2="330.10" y2="283.25" stroke="#7a7a7a" stroke-width="0.60"/>
<line x1="328.30" y1="281.40" x2="330.10" y2="281.40" stroke="#7a7a7a" stroke-width="0.60"/>
<line x1="328.30" y1="279.55" x2="330.10" y2="279.55" stroke="#7a7a7a" stroke-width="0.60"/>
<line x1="328.30" y1="277.70" x2="330.10" y2="277.70" stroke="#7a7a7a" stroke-width="0.60"/>
<line x1="328.30" y1="275.85" x2="330.10" y2="275.85" stroke="#7a7a7a" stroke-width="0.60"/>
<line x1="326.90" y1="274.00" x2="330.10" y2="274.00" stroke="#7a7a7a" stroke-width="0.60"/>
<line x1="328.30" y1="272.15" x2="330.10" y2="272.15" stroke="#7a7a7a" stroke-width="0.60"/>
<line x1="328.30" y1="270.30" x2="330.10" y2="270.30" stroke="#7a7a7a" stroke-width="0.60"/>
<line x1="328.30" y1="268.45" x2="330.10" y2="268.45" stroke="#7a7a7a" stroke-width="0.60"/>
<line x1="330.10" y1="347.40" x2="330.10" y2="350.20" stroke="#7a7a7a" stroke-width="0.60"/>
<line x1="336.90" y1="347.40" x2="336.90" y2="349.00" stroke="#7a7a7a" stroke-width="0.60"/>
<line x1="343.70" y1="347.40" x2="343.70" y2="349.00" stroke="#7a7a7a" stroke-width="0.60"/>
<line x1="350.50" y1="347.40" x2="350.50" y2="349.00" stroke="#7a7a7a" stroke-width="0.60"/>
<line x1="357.30" y1="347.40" x2="357.30" y2="349.00" stroke="#7a7a7a" stroke-width="0.60"/>
<line x1="364.10" y1="347.40" x2="364.10" y2="350.20" stroke="#7a7a7a" stroke-width="0.60"/>
<line x1="370.90" y1="347.40" x2="370.90" y2="349.00" stroke="#7a7a7a" stroke-width="0.60"/>
<line x1="377.70" y1="347.40" x2="377.70" y2="349.00" stroke="#7a7a7a" stroke-width="0.60"/>
<line x1="384.50" y1="347.40" x2="384.50" y2="349.00" stroke="#7a7a7a" stroke-width="0.60"/>
<line x1="391.30" y1="347.40" x2="391.30" y2="349.00" stroke="#7a7a7a" stroke-width="0.60"/>
<line x1="398.10" y1="347.40" x2="398.10" y2="350.20" stroke="#7a7a7a" stroke-width="0.60"/>
<line x1="404.90" y1="347.40" x2="404.90" y2="349.00" stroke="#7a7a7a" stroke-width="0.60"/>
<line x1="411.70" y1="347.40" x2="411.70" y2="349.00" stroke="#7a7a7a" stroke-width="0.60"/>
<line x1="418.50" y1="347.40" x2="418.50" y2="349.00" stroke="#7a7a7a" stroke-width="0.60"/>
<line x1="425.30" y1="347.40" x2="425.30" y2="349.00" stroke="#7a7a7a" stroke-width="0.60"/>
<line x1="432.10" y1="347.40" x2="432.10" y2="350.20" stroke="#7a7a7a" stroke-width="0.60"/>
<line x1="438.90" y1="347.40" x2="438.90" y2="349.00" stroke="#7a7a7a" stroke-width="0.60"/>
<line x1="445.70" y1="347.40" x2="445.70" y2="349.00" stroke="#7a7a7a" stroke-width="0.60"/>
<line x1="452.50" y1="347.40" x2="452.50" y2="349.00" stroke="#7a7a7a" stroke-width="0.60"/>
<line x1="459.30" y1="347.40" x2="459.30" y2="349.00" stroke="#7a7a7a" stroke-width="0.60"/>
<line x1="466.10" y1="347.40" x2="466.10" y2="350.20" stroke="#7a7a7a" stroke-width="0.60"/>
<line x1="472.90" y1="347.40" x2="472.90" y2="349.00" stroke="#7a7a7a" stroke-width="0.60"/>
<line x1="479.70" y1="347.40" x2="479.70" y2="349.00" stroke="#7a7a7a" stroke-width="0.60"/>
<line x1="486.50" y1="347.40" x2="486.50" y2="349.00" stroke="#7a7a7a" stroke-width="0.60"/>
<line x1="493.30" y1="347.40" x2="493.30" y2="349.00" stroke="#7a7a7a" stroke-width="0.60"/>
<line x1="500.10" y1="347.40" x2="500.10" y2="350.20" stroke="#7a7a7a" stroke-width="0.60"/>
<line x1="506.90" y1="347.40" x2="506.90" y2="349.00" stroke="#7a7a7a" stroke-width="0.60"/>
<line x1="513.70" y1="347.40" x2="513.70" y2="349.00" stroke="#7a7a7a" stroke-width="0.60"/>
<line x1="520.50" y1="347.40" x2="520.50" y2="349.00" stroke="#7a7a7a" stroke-width="0.60"/>
<line x1="527.30" y1="347.40" x2="527.30" y2="349.00" stroke="#7a7a7a" stroke-width="0.60"/>
<line x1="534.10" y1="347.40" x2="534.10" y2="350.20" stroke="#7a7a7a" stroke-width="0.60"/>
<text x="324.10" y="340.35" font-family='"Liberation Mono", monospace' font-size="4.80" font-weight="bold" text-anchor="end" fill="#111" textLength="10.10" lengthAdjust="spacingAndGlyphs" >0.05</text>
<text x="324.10" y="331.10" font-family='"Liberation Mono", monospace' font-size="4.80" font-weight="bold" text-anchor="end" fill="#111" textLength="10.10" lengthAdjust="spacingAndGlyphs" >0.10</text>
<text x="324.10" y="321.85" font-family='"Liberation Mono", monospace' font-size="4.80" font-weight="bold" text-anchor="end" fill="#111" textLength="10.10" lengthAdjust="spacingAndGlyphs" >0.15</text>
<text x="324.10" y="312.60" font-family='"Liberation Mono", monospace' font-size="4.80" font-weight="bold" text-anchor="end" fill="#111" textLength="10.10" lengthAdjust="spacingAndGlyphs" >0.20</text>
<text x="324.10" y="303.35" font-family='"Liberation Mono", monospace' font-size="4.80" font-weight="bold" text-anchor="end" fill="#111" textLength="10.10" lengthAdjust="spacingAndGlyphs" >0.25</text>
<text x="324.10" y="294.10" font-family='"Liberation Mono", monospace' font-size="4.80" font-weight="bold" text-anchor="end" fill="#111" textLength="10.10" lengthAdjust="spacingAndGlyphs" >0.30</text>
<text x="324.10" y="284.85" font-family='"Liberation Mono", monospace' font-size="4.80" font-weight="bold" text-anchor="end" fill="#111" textLength="10.10" lengthAdjust="spacingAndGlyphs" >0.35</text>
<text x="324.10" y="275.60" font-family='"Liberation Mono", monospace' font-size="4.80" font-weight="bold" text-anchor="end" fill="#111" textLength="10.10" lengthAdjust="spacingAndGlyphs" >0.40</text>
<text x="332.10" y="355.60" font-family='"Liberation Mono", monospace' font-size="4.80" font-weight="bold" text-anchor="middle" fill="#111" textLength="5.60" lengthAdjust="spacingAndGlyphs" >40</text>
<text x="364.80" y="355.60" font-family='"Liberation Mono", monospace' font-size="4.80" font-weight="bold" text-anchor="middle" fill="#111" textLength="5.60" lengthAdjust="spacingAndGlyphs" >45</text>
<text x="400.20" y="355.60" font-family='"Liberation Mono", monospace' font-size="4.80" font-weight="bold" text-anchor="middle" fill="#111" textLength="5.60" lengthAdjust="spacingAndGlyphs" >50</text>
<text x="433.40" y="355.60" font-family='"Liberation Mono", monospace' font-size="4.80" font-weight="bold" text-anchor="middle" fill="#111" textLength="5.60" lengthAdjust="spacingAndGlyphs" >55</text>
<text x="467.70" y="355.60" font-family='"Liberation Mono", monospace' font-size="4.80" font-weight="bold" text-anchor="middle" fill="#111" textLength="5.60" lengthAdjust="spacingAndGlyphs" >60</text>
<text x="501.50" y="355.60" font-family='"Liberation Mono", monospace' font-size="4.80" font-weight="bold" text-anchor="middle" fill="#111" textLength="5.60" lengthAdjust="spacingAndGlyphs" >65</text>
<text x="533.80" y="355.60" font-family='"Liberation Mono", monospace' font-size="4.80" font-weight="bold" text-anchor="middle" fill="#111" textLength="5.60" lengthAdjust="spacingAndGlyphs" >70</text>
<text x="433.60" y="362.80" font-family='"Liberation Mono", monospace' font-size="4.80" font-weight="bold" text-anchor="middle" fill="#111" textLength="51.00" lengthAdjust="spacingAndGlyphs" >Retention Time (min)</text>
<text transform="translate(292.0,303.6) rotate(-90)" x="0" y="0" font-family='"Liberation Mono", monospace' font-size="4.8" font-weight="bold" text-anchor="middle" fill="#111" textLength="36.3" lengthAdjust="spacingAndGlyphs">Intensity (AU)</text>
<path d="M330.10 340.80 L330.35 340.82 L330.60 340.83 L330.85 340.85 L331.10 340.86 L331.35 340.88 L331.60 340.89 L331.85 340.91 L332.10 340.93 L332.35 340.94 L332.60 340.96 L332.85 340.97 L333.10 340.99 L333.35 341.01 L333.60 341.02 L333.85 341.04 L334.10 341.05 L334.35 341.07 L334.60 341.08 L334.85 341.10 L335.10 341.12 L335.35 341.13 L335.60 341.15 L335.85 341.16 L336.10 341.18 L336.35 341.20 L336.60 341.21 L336.85 341.23 L337.10 341.24 L337.35 341.26 L337.60 341.27 L337.85 341.29 L338.10 341.29 L338.35 341.26 L338.60 341.24 L338.85 341.21 L339.10 341.19 L339.35 341.16 L339.60 341.14 L339.85 341.11 L340.10 341.09 L340.35 341.06 L340.60 341.04 L340.85 341.01 L341.10 340.98 L341.35 340.95 L341.60 340.92 L341.85 340.89 L342.10 340.86 L342.35 340.84 L342.60 340.80 L342.85 340.76 L343.10 340.70 L343.35 340.63 L343.60 340.53 L343.85 340.42 L344.10 340.29 L344.35 340.14 L344.60 339.99 L344.85 339.84 L345.10 339.70 L345.35 339.57 L345.60 339.48 L345.85 339.42 L346.10 339.40 L346.35 339.42 L346.60 339.49 L346.85 339.59 L347.10 339.71 L347.35 339.86 L347.60 340.01 L347.85 340.17 L348.10 340.32 L348.35 340.45 L348.60 340.57 L348.85 340.67 L349.10 340.75 L349.35 340.81 L349.60 340.86 L349.85 340.89 L350.10 340.92 L350.35 340.94 L350.60 340.95 L350.85 340.96 L351.10 340.96 L351.35 340.97 L351.60 340.97 L351.85 340.97 L352.10 340.98 L352.35 340.98 L352.60 340.98 L352.85 340.98 L353.10 340.99 L353.35 340.99 L353.60 340.99 L353.85 340.99 L354.10 340.99 L354.35 340.99 L354.60 341.00 L354.85 341.00 L355.10 341.00 L355.35 341.01 L355.60 341.01 L355.85 341.02 L356.10 341.02 L356.35 341.03 L356.60 341.03 L356.85 341.04 L357.10 341.04 L357.35 341.05 L357.60 341.05 L357.85 341.06 L358.10 341.06 L358.35 341.07 L358.60 341.07 L358.85 341.08 L359.10 341.08 L359.35 341.09 L359.60 341.09 L359.85 341.10 L360.10 341.10 L360.35 341.11 L360.60 341.11 L360.85 341.12 L361.10 341.12 L361.35 341.13 L361.60 341.13 L361.85 341.14 L362.10 341.14 L362.35 341.15 L362.60 341.15 L362.85 341.16 L363.10 341.16 L363.35 341.17 L363.60 341.17 L363.85 341.18 L364.10 341.18 L364.35 341.19 L364.60 341.19 L364.85 341.20 L365.10 341.19 L365.35 341.17 L365.60 341.15 L365.85 341.13 L366.10 341.11 L366.35 341.09 L366.60 341.07 L366.85 341.05 L367.10 341.03 L367.35 341.01 L367.60 340.99 L367.85 340.97 L368.10 340.95 L368.35 340.92 L368.60 340.88 L368.85 340.83 L369.10 340.75 L369.35 340.62 L369.60 340.42 L369.85 340.14 L370.10 339.77 L370.35 339.33 L370.60 338.81 L370.85 338.27 L371.10 337.77 L371.35 337.40 L371.60 337.21 L371.85 337.25 L372.10 337.51 L372.35 337.95 L372.60 338.50 L372.85 339.08 L373.10 339.62 L373.35 340.07 L373.60 340.42 L373.85 340.65 L374.10 340.76 L374.35 340.73 L374.60 340.53 L374.85 340.09 L375.10 339.35 L375.35 338.25 L375.60 336.80 L375.85 335.09 L376.10 333.34 L376.35 331.82 L376.60 330.84 L376.85 330.61 L377.10 331.17 L377.35 332.39 L377.60 333.97 L377.85 335.53 L378.10 336.69 L378.35 337.06 L378.60 336.29 L378.85 334.09 L379.10 330.24 L379.35 324.78 L379.60 318.06 L379.85 310.90 L380.10 304.44 L380.35 299.91 L380.60 298.30 L380.85 299.95 L381.10 304.52 L381.35 311.03 L381.60 318.28 L381.85 325.14 L382.10 330.86 L382.35 335.13 L382.60 338.01 L382.85 339.78 L383.10 340.77 L383.35 341.24 L383.60 341.43 L383.85 341.43 L384.10 341.30 L384.35 341.05 L384.60 340.67 L384.85 340.15 L385.10 339.52 L385.35 338.87 L385.60 338.27 L385.85 337.86 L386.10 337.70 L386.35 337.84 L386.60 338.23 L386.85 338.81 L387.10 339.44 L387.35 340.04 L387.60 340.54 L387.85 340.92 L388.10 341.16 L388.35 341.31 L388.60 341.38 L388.85 341.40 L389.10 341.39 L389.35 341.35 L389.60 341.25 L389.85 341.09 L390.10 340.82 L390.35 340.40 L390.60 339.78 L390.85 338.90 L391.10 337.76 L391.35 336.37 L391.60 334.78 L391.85 333.14 L392.10 331.61 L392.35 330.37 L392.60 329.60 L392.85 329.41 L393.10 329.82 L393.35 330.76 L393.60 332.11 L393.85 333.66 L394.10 335.22 L394.35 336.62 L394.60 337.74 L394.85 338.48 L395.10 338.81 L395.35 338.72 L395.60 338.25 L395.85 337.43 L396.10 336.35 L396.35 335.12 L396.60 333.89 L396.85 332.81 L397.10 332.05 L397.35 331.71 L397.60 331.85 L397.85 332.44 L398.10 333.40 L398.35 334.59 L398.60 335.87 L398.85 337.10 L399.10 338.19 L399.35 339.07 L399.60 339.74 L399.85 340.22 L400.10 340.54 L400.35 340.74 L400.60 340.86 L400.85 340.93 L401.10 340.97 L401.35 340.99 L401.60 340.99 L401.85 341.00 L402.10 341.00 L402.35 341.00 L402.60 341.00 L402.85 341.00 L403.10 341.00 L403.35 341.00 L403.60 341.00 L403.85 341.00 L404.10 341.00 L404.35 341.00 L404.60 341.00 L404.85 341.00 L405.10 341.00 L405.35 341.00 L405.60 341.00 L405.85 341.00 L406.10 341.00 L406.35 341.00 L406.60 341.00 L406.85 341.00 L407.10 341.00 L407.35 341.00 L407.60 341.00 L407.85 341.00 L408.10 341.00 L408.35 341.00 L408.60 341.00 L408.85 341.00 L409.10 341.00 L409.35 341.00 L409.60 341.00 L409.85 341.00 L410.10 341.00 L410.35 341.01 L410.60 341.01 L410.85 341.01 L411.10 341.01 L411.35 341.00 L411.60 340.98 L411.85 340.95 L412.10 340.91 L412.35 340.84 L412.60 340.75 L412.85 340.63 L413.10 340.48 L413.35 340.31 L413.60 340.12 L413.85 339.93 L414.10 339.75 L414.35 339.59 L414.60 339.47 L414.85 339.41 L415.10 339.41 L415.35 339.47 L415.60 339.59 L415.85 339.75 L416.10 339.95 L416.35 340.15 L416.60 340.36 L416.85 340.54 L417.10 340.70 L417.35 340.83 L417.60 340.91 L417.85 340.93 L418.10 340.86 L418.35 340.63 L418.60 340.15 L418.85 339.26 L419.10 337.74 L419.35 335.31 L419.60 331.67 L419.85 326.56 L420.10 319.84 L420.35 311.61 L420.60 302.27 L420.85 292.58 L421.10 283.54 L421.35 276.26 L421.60 271.75 L421.85 270.64 L422.10 271.84 L422.35 274.67 L422.60 278.93 L422.85 284.32 L423.10 290.51 L423.35 297.12 L423.60 303.79 L423.85 310.23 L424.10 316.19 L424.35 321.51 L424.60 326.08 L424.85 329.88 L425.10 332.95 L425.35 335.35 L425.60 337.18 L425.85 338.52 L426.10 339.49 L426.35 340.17 L426.60 340.63 L426.85 340.94 L427.10 341.13 L427.35 341.26 L427.60 341.34 L427.85 341.39 L428.10 341.42 L428.35 341.44 L428.60 341.46 L428.85 341.47 L429.10 341.48 L429.35 341.48 L429.60 341.49 L429.85 341.50 L430.10 341.50 L430.35 341.50 L430.60 341.50 L430.85 341.50 L431.10 341.50 L431.35 341.50 L431.60 341.50 L431.85 341.50 L432.10 341.50 L432.35 341.50 L432.60 341.50 L432.85 341.50 L433.10 341.50 L433.35 341.50 L433.60 341.50 L433.85 341.50 L434.10 341.50 L434.35 341.50 L434.60 341.50 L434.85 341.50 L435.10 341.50 L435.35 341.50 L435.60 341.50 L435.85 341.50 L436.10 341.50 L436.35 341.50 L436.60 341.50 L436.85 341.50 L437.10 341.50 L437.35 341.50 L437.60 341.50 L437.85 341.50 L438.10 341.50 L438.35 341.50 L438.60 341.50 L438.85 341.50 L439.10 341.50 L439.35 341.50 L439.60 341.50 L439.85 341.50 L440.10 341.50 L440.35 341.49 L440.60 341.49 L440.85 341.48 L441.10 341.46 L441.35 341.43 L441.60 341.38 L441.85 341.30 L442.10 341.16 L442.35 340.96 L442.60 340.65 L442.85 340.21 L443.10 339.59 L443.35 338.76 L443.60 337.66 L443.85 336.28 L444.10 334.59 L444.35 332.60 L444.60 330.35 L444.85 327.92 L445.10 325.41 L445.35 322.96 L445.60 320.71 L445.85 318.84 L446.10 317.48 L446.35 316.73 L446.60 316.65 L446.85 317.26 L447.10 318.50 L447.35 320.27 L447.60 322.44 L447.85 324.86 L448.10 327.36 L448.35 329.81 L448.60 332.09 L448.85 334.13 L449.10 335.88 L449.35 337.32 L449.60 338.47 L449.85 339.35 L450.10 340.00 L450.35 340.47 L450.60 340.79 L450.85 341.01 L451.10 341.15 L451.35 341.24 L451.60 341.29 L451.85 341.32 L452.10 341.33 L452.35 341.34 L452.60 341.34 L452.85 341.34 L453.10 341.34 L453.35 341.33 L453.60 341.32 L453.85 341.29 L454.10 341.22 L454.35 341.08 L454.60 340.76 L454.85 340.12 L455.10 338.95 L455.35 336.97 L455.60 333.92 L455.85 329.67 L456.10 324.34 L456.35 318.38 L456.60 312.64 L456.85 308.11 L457.10 305.72 L457.35 305.99 L457.60 308.84 L457.85 313.66 L458.10 319.47 L458.35 325.24 L458.60 330.18 L458.85 333.85 L459.10 336.17 L459.35 337.33 L459.60 337.67 L459.85 337.58 L460.10 337.42 L460.35 337.43 L460.60 337.71 L460.85 338.25 L461.10 338.92 L461.35 339.58 L461.60 340.11 L461.85 340.46 L462.10 340.61 L462.35 340.56 L462.60 340.33 L462.85 339.94 L463.10 339.40 L463.35 338.75 L463.60 338.05 L463.85 337.39 L464.10 336.86 L464.35 336.55 L464.60 336.52 L464.85 336.77 L465.10 337.25 L465.35 337.88 L465.60 338.57 L465.85 339.23 L466.10 339.80 L466.35 340.24 L466.60 340.56 L466.85 340.77 L467.10 340.90 L467.35 340.97 L467.60 341.01 L467.85 341.03 L468.10 341.03 L468.35 341.03 L468.60 341.03 L468.85 341.02 L469.10 341.00 L469.35 340.96 L469.60 340.88 L469.85 340.71 L470.10 340.41 L470.35 339.92 L470.60 339.18 L470.85 338.23 L471.10 337.17 L471.35 336.20 L471.60 335.56 L471.85 335.40 L472.10 335.79 L472.35 336.60 L472.60 337.63 L472.85 338.63 L473.10 339.43 L473.35 339.93 L473.60 340.10 L473.85 339.99 L474.10 339.61 L474.35 339.01 L474.60 338.21 L474.85 337.24 L475.10 336.14 L475.35 334.98 L475.60 333.84 L475.85 332.81 L476.10 331.99 L476.35 331.47 L476.60 331.30 L476.85 331.51 L477.10 332.06 L477.35 332.92 L477.60 333.99 L477.85 335.17 L478.10 336.37 L478.35 337.51 L478.60 338.52 L478.85 339.38 L479.10 340.08 L479.35 340.61 L479.60 341.01 L479.85 341.29 L480.10 341.48 L480.35 341.61 L480.60 341.69 L480.85 341.74 L481.10 341.76 L481.35 341.76 L481.60 341.73 L481.85 341.67 L482.10 341.58 L482.35 341.44 L482.60 341.23 L482.85 340.96 L483.10 340.62 L483.35 340.20 L483.60 339.72 L483.85 339.19 L484.10 338.64 L484.35 338.11 L484.60 337.63 L484.85 337.25 L485.10 337.00 L485.35 336.90 L485.60 336.97 L485.85 337.20 L486.10 337.57 L486.35 338.05 L486.60 338.61 L486.85 339.19 L487.10 339.77 L487.35 340.31 L487.60 340.79 L487.85 341.20 L488.10 341.54 L488.35 341.81 L488.60 342.01 L488.85 342.16 L489.10 342.27 L489.35 342.35 L489.60 342.41 L489.85 342.46 L490.10 342.48 L490.35 342.47 L490.60 342.46 L490.85 342.45 L491.10 342.44 L491.35 342.43 L491.60 342.42 L491.85 342.41 L492.10 342.39 L492.35 342.38 L492.60 342.37 L492.85 342.36 L493.10 342.34 L493.35 342.33 L493.60 342.32 L493.85 342.31 L494.10 342.29 L494.35 342.28 L494.60 342.27 L494.85 342.26 L495.10 342.24 L495.35 342.23 L495.60 342.22 L495.85 342.21 L496.10 342.19 L496.35 342.18 L496.60 342.16 L496.85 342.14 L497.10 342.11 L497.35 342.06 L497.60 341.97 L497.85 341.83 L498.10 341.61 L498.35 341.27 L498.60 340.78 L498.85 340.12 L499.10 339.28 L499.35 338.28 L499.60 337.19 L499.85 336.10 L500.10 335.13 L500.35 334.41 L500.60 334.04 L500.85 334.07 L501.10 334.49 L501.35 335.24 L501.60 336.22 L501.85 337.30 L502.10 338.35 L502.35 339.30 L502.60 340.08 L502.85 340.68 L503.10 341.11 L503.35 341.40 L503.60 341.57 L503.85 341.68 L504.10 341.73 L504.35 341.75 L504.60 341.75 L504.85 341.75 L505.10 341.74 L505.35 341.73 L505.60 341.71 L505.85 341.69 L506.10 341.66 L506.35 341.63 L506.60 341.58 L506.85 341.51 L507.10 341.43 L507.35 341.34 L507.60 341.24 L507.85 341.14 L508.10 341.06 L508.35 341.01 L508.60 340.98 L508.85 340.99 L509.10 341.01 L509.35 341.04 L509.60 341.05 L509.85 341.03 L510.10 340.97 L510.35 340.90 L510.60 340.79 L510.85 340.67 L511.10 340.57 L511.35 340.50 L511.60 340.50 L511.85 340.56 L512.10 340.69 L512.35 340.86 L512.60 341.06 L512.85 341.25 L513.10 341.43 L513.35 341.58 L513.60 341.70 L513.85 341.79 L514.10 341.86 L514.35 341.91 L514.60 341.95 L514.85 341.98 L515.10 342.01 L515.35 342.03 L515.60 342.06 L515.85 342.08 L516.10 342.11 L516.35 342.13 L516.60 342.16 L516.85 342.18 L517.10 342.21 L517.35 342.23 L517.60 342.26 L517.85 342.28 L518.10 342.31 L518.35 342.33 L518.60 342.36 L518.85 342.38 L519.10 342.41 L519.35 342.43 L519.60 342.46 L519.85 342.48 L520.10 342.51 L520.35 342.53 L520.60 342.55 L520.85 342.57 L521.10 342.59 L521.35 342.61 L521.60 342.62 L521.85 342.64 L522.10 342.66 L522.35 342.68 L522.60 342.70 L522.85 342.72 L523.10 342.74 L523.35 342.76 L523.60 342.78 L523.85 342.80 L524.10 342.82 L524.35 342.84 L524.60 342.85 L524.85 342.87 L525.10 342.87 L525.35 342.86 L525.60 342.83 L525.85 342.75 L526.10 342.61 L526.35 342.36 L526.60 341.95 L526.85 341.35 L527.10 340.48 L527.35 339.32 L527.60 337.85 L527.85 336.11 L528.10 334.16 L528.35 332.15 L528.60 330.25 L528.85 328.67 L529.10 327.57 L529.35 327.11 L529.60 327.34 L529.85 328.23 L530.10 329.68 L530.35 331.51 L530.60 333.54 L530.85 335.57 L531.10 337.45 L531.35 339.08 L531.60 340.40 L531.85 341.42 L532.10 342.16 L532.35 342.68 L532.60 343.02 L532.85 343.24 L533.10 343.38 L533.35 343.47 L533.60 343.52 L533.85 343.56 L534.10 343.59 L534.35 343.61 L534.60 343.64 L534.85 343.66 L535.10 343.68 L535.35 343.69 L535.60 343.71 L535.85 343.73 L536.10 343.75 L536.35 343.77 L536.60 343.79" fill="none" stroke="#929292" stroke-width="0.90" stroke-linejoin="round" />
<text x="371.60" y="309.80" font-family='"Liberation Serif", serif' font-size="16.20" font-weight="normal" text-anchor="middle" fill="#111" stroke="#111" stroke-width="0.3">3</text>
<text x="421.50" y="266.80" font-family='"Liberation Serif", serif' font-size="16.20" font-weight="normal" text-anchor="middle" fill="#111" stroke="#111" stroke-width="0.3">4</text>
<text x="457.80" y="300.90" font-family='"Liberation Serif", serif' font-size="16.20" font-weight="normal" text-anchor="middle" fill="#111" stroke="#111" stroke-width="0.3">5</text>
<text x="477.70" y="300.90" font-family='"Liberation Serif", serif' font-size="16.20" font-weight="normal" text-anchor="middle" fill="#111" textLength="11.00" lengthAdjust="spacingAndGlyphs" stroke="#111" stroke-width="0.3">IS</text>
<text x="501.10" y="312.10" font-family='"Liberation Serif", serif' font-size="16.20" font-weight="normal" text-anchor="middle" fill="#111" stroke="#111" stroke-width="0.3">6</text>
<line x1="371.60" y1="310.80" x2="371.60" y2="333.20" stroke="#404040" stroke-width="1.25"/>
<path d="M368.00 326.00 L371.60 334.00 L375.20 326.00" fill="none" stroke="#151515" stroke-width="1.45" stroke-linejoin="miter" stroke-linecap="round"/>
<line x1="477.00" y1="305.30" x2="477.00" y2="326.80" stroke="#404040" stroke-width="1.25"/>
<path d="M473.40 319.60 L477.00 327.60 L480.60 319.60" fill="none" stroke="#151515" stroke-width="1.45" stroke-linejoin="miter" stroke-linecap="round"/>
<line x1="500.20" y1="314.50" x2="500.20" y2="329.80" stroke="#404040" stroke-width="1.25"/>
<path d="M496.80 323.60 L500.20 330.60 L503.60 323.60" fill="none" stroke="#151515" stroke-width="1.45" stroke-linejoin="miter" stroke-linecap="round"/>
</svg>
</body></html>
